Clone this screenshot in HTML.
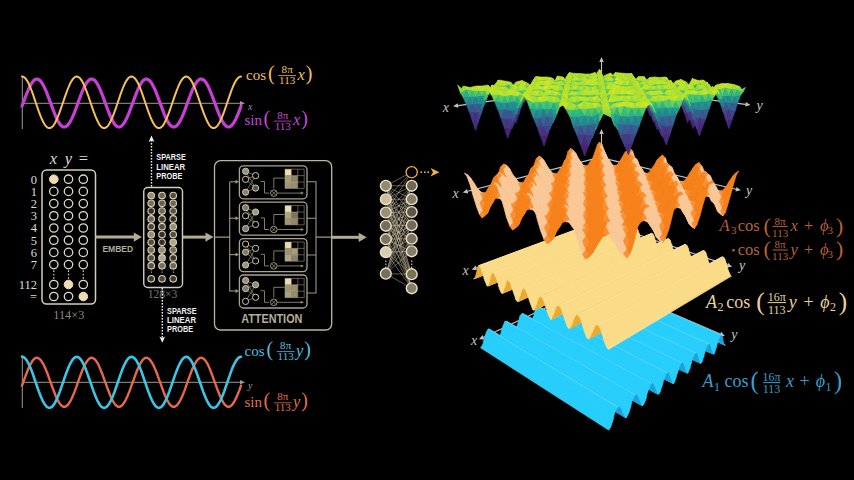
<!DOCTYPE html>
<html><head><meta charset="utf-8"><style>
html,body{margin:0;padding:0;background:#000;}
body{width:854px;height:480px;overflow:hidden;}
svg{display:block;}
</style></head><body>
<svg width="854" height="480" viewBox="0 0 854 480">
<rect width="854" height="480" fill="#000"/>
<line x1="22.3" y1="76" x2="22.3" y2="129" stroke="#9a9a90" stroke-width="1.0"/><line x1="22.3" y1="103.3" x2="242" y2="103.3" stroke="#9a9a90" stroke-width="1.0"/><path d="M245,103.3 L240,101.1 L240,105.5 Z" fill="#9a9a90"/>
<polyline points="22,106.3 23,103.6 24,100.8 25,98.1 26,95.5 27,92.9 28,90.5 29,88.2 30,86.2 31,84.3 32,82.7 33,81.4 33.9,80.4 34.9,79.6 35.9,79.1 36.9,79 37.9,79.2 38.9,79.7 39.9,80.4 40.9,81.5 41.9,82.9 42.9,84.5 43.9,86.4 44.9,88.4 45.9,90.7 46.9,93.1 47.9,95.7 48.9,98.4 49.9,101.1 50.9,103.8 51.9,106.5 52.9,109.2 53.9,111.8 54.9,114.3 55.8,116.6 56.8,118.8 57.8,120.8 58.8,122.5 59.8,124 60.8,125.2 61.8,126.1 62.8,126.7 63.8,127 64.8,127 65.8,126.6 66.8,126 67.8,125.1 68.8,123.8 69.8,122.3 70.8,120.6 71.8,118.6 72.8,116.4 73.8,114.1 74.8,111.6 75.8,109 76.8,106.3 77.7,103.6 78.7,100.8 79.7,98.1 80.7,95.5 81.7,92.9 82.7,90.5 83.7,88.2 84.7,86.2 85.7,84.3 86.7,82.7 87.7,81.4 88.7,80.4 89.7,79.6 90.7,79.1 91.7,79 92.7,79.2 93.7,79.7 94.7,80.4 95.7,81.5 96.7,82.9 97.7,84.5 98.7,86.4 99.6,88.4 100.6,90.7 101.6,93.1 102.6,95.7 103.6,98.4 104.6,101.1 105.6,103.8 106.6,106.5 107.6,109.2 108.6,111.8 109.6,114.3 110.6,116.6 111.6,118.8 112.6,120.8 113.6,122.5 114.6,124 115.6,125.2 116.6,126.1 117.6,126.7 118.6,127 119.6,127 120.5,126.6 121.5,126 122.5,125.1 123.5,123.8 124.5,122.3 125.5,120.6 126.5,118.6 127.5,116.4 128.5,114.1 129.5,111.6 130.5,109 131.5,106.3 132.5,103.6 133.5,100.8 134.5,98.1 135.5,95.5 136.5,92.9 137.5,90.5 138.5,88.2 139.5,86.2 140.5,84.3 141.5,82.7 142.4,81.4 143.4,80.4 144.4,79.6 145.4,79.1 146.4,79 147.4,79.2 148.4,79.7 149.4,80.4 150.4,81.5 151.4,82.9 152.4,84.5 153.4,86.4 154.4,88.4 155.4,90.7 156.4,93.1 157.4,95.7 158.4,98.4 159.4,101.1 160.4,103.8 161.4,106.5 162.4,109.2 163.4,111.8 164.3,114.3 165.3,116.6 166.3,118.8 167.3,120.8 168.3,122.5 169.3,124 170.3,125.2 171.3,126.1 172.3,126.7 173.3,127 174.3,127 175.3,126.6 176.3,126 177.3,125.1 178.3,123.8 179.3,122.3 180.3,120.6 181.3,118.6 182.3,116.4 183.3,114.1 184.3,111.6 185.3,109 186.2,106.3 187.2,103.6 188.2,100.8 189.2,98.1 190.2,95.5 191.2,92.9 192.2,90.5 193.2,88.2 194.2,86.2 195.2,84.3 196.2,82.7 197.2,81.4 198.2,80.4 199.2,79.6 200.2,79.1 201.2,79 202.2,79.2 203.2,79.7 204.2,80.4 205.2,81.5 206.2,82.9 207.2,84.5 208.2,86.4 209.1,88.4 210.1,90.7 211.1,93.1 212.1,95.7 213.1,98.4 214.1,101.1 215.1,103.8 216.1,106.5 217.1,109.2 218.1,111.8 219.1,114.3 220.1,116.6 221.1,118.8 222.1,120.8 223.1,122.5 224.1,124 225.1,125.2 226.1,126.1 227.1,126.7 228.1,127 229.1,127 230.1,126.6 231,126 232,125.1 233,123.8 234,122.3 235,120.6 236,118.6 237,116.4 238,114.1 239,111.6 240,109 241,106.3" fill="none" stroke="#c93fd6" stroke-width="3.2" stroke-linejoin="round" stroke-linecap="round"/>
<polyline points="22,76.5 23,76.7 24,77.2 25,78 26,79.1 27,80.6 28,82.3 29,84.3 30,86.5 31,89 32,91.6 33,94.3 33.9,97.2 34.9,100.1 35.9,103 36.9,106 37.9,108.9 38.9,111.7 39.9,114.3 40.9,116.9 41.9,119.2 42.9,121.3 43.9,123.2 44.9,124.8 45.9,126.1 46.9,127.1 47.9,127.7 48.9,128.1 49.9,128.1 50.9,127.7 51.9,127.1 52.9,126.1 53.9,124.8 54.9,123.2 55.8,121.3 56.8,119.2 57.8,116.9 58.8,114.3 59.8,111.7 60.8,108.9 61.8,106 62.8,103 63.8,100.1 64.8,97.2 65.8,94.3 66.8,91.6 67.8,89 68.8,86.5 69.8,84.3 70.8,82.3 71.8,80.6 72.8,79.1 73.8,78 74.8,77.2 75.8,76.7 76.8,76.5 77.7,76.7 78.7,77.2 79.7,78 80.7,79.1 81.7,80.6 82.7,82.3 83.7,84.3 84.7,86.5 85.7,89 86.7,91.6 87.7,94.3 88.7,97.2 89.7,100.1 90.7,103 91.7,106 92.7,108.9 93.7,111.7 94.7,114.3 95.7,116.9 96.7,119.2 97.7,121.3 98.7,123.2 99.6,124.8 100.6,126.1 101.6,127.1 102.6,127.7 103.6,128.1 104.6,128.1 105.6,127.7 106.6,127.1 107.6,126.1 108.6,124.8 109.6,123.2 110.6,121.3 111.6,119.2 112.6,116.9 113.6,114.3 114.6,111.7 115.6,108.9 116.6,106 117.6,103 118.6,100.1 119.6,97.2 120.5,94.3 121.5,91.6 122.5,89 123.5,86.5 124.5,84.3 125.5,82.3 126.5,80.6 127.5,79.1 128.5,78 129.5,77.2 130.5,76.7 131.5,76.5 132.5,76.7 133.5,77.2 134.5,78 135.5,79.1 136.5,80.6 137.5,82.3 138.5,84.3 139.5,86.5 140.5,89 141.5,91.6 142.4,94.3 143.4,97.2 144.4,100.1 145.4,103 146.4,106 147.4,108.9 148.4,111.7 149.4,114.3 150.4,116.9 151.4,119.2 152.4,121.3 153.4,123.2 154.4,124.8 155.4,126.1 156.4,127.1 157.4,127.7 158.4,128.1 159.4,128.1 160.4,127.7 161.4,127.1 162.4,126.1 163.4,124.8 164.3,123.2 165.3,121.3 166.3,119.2 167.3,116.9 168.3,114.3 169.3,111.7 170.3,108.9 171.3,106 172.3,103 173.3,100.1 174.3,97.2 175.3,94.3 176.3,91.6 177.3,89 178.3,86.5 179.3,84.3 180.3,82.3 181.3,80.6 182.3,79.1 183.3,78 184.3,77.2 185.3,76.7 186.2,76.5 187.2,76.7 188.2,77.2 189.2,78 190.2,79.1 191.2,80.6 192.2,82.3 193.2,84.3 194.2,86.5 195.2,89 196.2,91.6 197.2,94.3 198.2,97.2 199.2,100.1 200.2,103 201.2,106 202.2,108.9 203.2,111.7 204.2,114.3 205.2,116.9 206.2,119.2 207.2,121.3 208.2,123.2 209.1,124.8 210.1,126.1 211.1,127.1 212.1,127.7 213.1,128.1 214.1,128.1 215.1,127.7 216.1,127.1 217.1,126.1 218.1,124.8 219.1,123.2 220.1,121.3 221.1,119.2 222.1,116.9 223.1,114.3 224.1,111.7 225.1,108.9 226.1,106 227.1,103 228.1,100.1 229.1,97.2 230.1,94.3 231,91.6 232,89 233,86.5 234,84.3 235,82.3 236,80.6 237,79.1 238,78 239,77.2 240,76.7 241,76.5" fill="none" stroke="#f4c257" stroke-width="2.0" stroke-linejoin="round" stroke-linecap="round"/>
<text x="248" y="110" font-family="'Liberation Serif', serif" font-style="italic" font-size="10" fill="#9a9a9a">x</text>
<text x="246" y="79.5" font-family="'Liberation Serif', serif" font-size="15" fill="#f0c060">cos</text>
<text x="267.9" y="79.5" font-family="'Liberation Serif', serif" font-size="20" fill="#f0c060">(</text>
<text x="287.2" y="73.2" font-family="'Liberation Serif', serif" font-size="11.1" fill="#f0c060" text-anchor="middle">8π</text>
<line x1="278.3" y1="75.6" x2="296" y2="75.6" stroke="#f0c060" stroke-width="0.8"/>
<text x="287.2" y="84.2" font-family="'Liberation Serif', serif" font-size="11.1" fill="#f0c060" text-anchor="middle">113</text>
<text x="297.5" y="79.5" font-family="'Liberation Serif', serif" font-style="italic" font-size="16.5" fill="#f0c060">x</text>
<text x="305.7" y="79.5" font-family="'Liberation Serif', serif" font-size="20" fill="#f0c060">)</text>
<text x="244.5" y="125" font-family="'Liberation Serif', serif" font-size="15" fill="#c748d6">sin</text>
<text x="263.6" y="125" font-family="'Liberation Serif', serif" font-size="20" fill="#c748d6">(</text>
<text x="282.8" y="118.7" font-family="'Liberation Serif', serif" font-size="11.1" fill="#c748d6" text-anchor="middle">8π</text>
<line x1="273.9" y1="121.1" x2="291.6" y2="121.1" stroke="#c748d6" stroke-width="0.8"/>
<text x="282.8" y="129.7" font-family="'Liberation Serif', serif" font-size="11.1" fill="#c748d6" text-anchor="middle">113</text>
<text x="293.1" y="125" font-family="'Liberation Serif', serif" font-style="italic" font-size="16.5" fill="#c748d6">x</text>
<text x="301.3" y="125" font-family="'Liberation Serif', serif" font-size="20" fill="#c748d6">)</text>
<line x1="22.3" y1="355" x2="22.3" y2="408" stroke="#9a9a90" stroke-width="1.0"/><line x1="22.3" y1="382.3" x2="242" y2="382.3" stroke="#9a9a90" stroke-width="1.0"/><path d="M245,382.3 L240,380.1 L240,384.5 Z" fill="#9a9a90"/>
<polyline points="22,385.7 23,382.9 24,380.1 25,377.3 26,374.6 27,372 28,369.5 29,367.2 30,365.1 31,363.3 32,361.6 33,360.3 33.9,359.2 34.9,358.4 35.9,357.9 36.9,357.8 37.9,358 38.9,358.5 39.9,359.3 40.9,360.4 41.9,361.8 42.9,363.4 43.9,365.3 44.9,367.4 45.9,369.8 46.9,372.2 47.9,374.8 48.9,377.6 49.9,380.3 50.9,383.1 51.9,385.9 52.9,388.6 53.9,391.3 54.9,393.8 55.8,396.2 56.8,398.4 57.8,400.4 58.8,402.2 59.8,403.7 60.8,404.9 61.8,405.8 62.8,406.5 63.8,406.8 64.8,406.8 65.8,406.4 66.8,405.8 67.8,404.8 68.8,403.6 69.8,402 70.8,400.3 71.8,398.2 72.8,396 73.8,393.6 74.8,391.1 75.8,388.4 76.8,385.7 77.7,382.9 78.7,380.1 79.7,377.3 80.7,374.6 81.7,372 82.7,369.5 83.7,367.2 84.7,365.1 85.7,363.3 86.7,361.6 87.7,360.3 88.7,359.2 89.7,358.4 90.7,357.9 91.7,357.8 92.7,358 93.7,358.5 94.7,359.3 95.7,360.4 96.7,361.8 97.7,363.4 98.7,365.3 99.6,367.4 100.6,369.8 101.6,372.2 102.6,374.8 103.6,377.6 104.6,380.3 105.6,383.1 106.6,385.9 107.6,388.6 108.6,391.3 109.6,393.8 110.6,396.2 111.6,398.4 112.6,400.4 113.6,402.2 114.6,403.7 115.6,404.9 116.6,405.8 117.6,406.5 118.6,406.8 119.6,406.8 120.5,406.4 121.5,405.8 122.5,404.8 123.5,403.6 124.5,402 125.5,400.3 126.5,398.2 127.5,396 128.5,393.6 129.5,391.1 130.5,388.4 131.5,385.7 132.5,382.9 133.5,380.1 134.5,377.3 135.5,374.6 136.5,372 137.5,369.5 138.5,367.2 139.5,365.1 140.5,363.3 141.5,361.6 142.4,360.3 143.4,359.2 144.4,358.4 145.4,357.9 146.4,357.8 147.4,358 148.4,358.5 149.4,359.3 150.4,360.4 151.4,361.8 152.4,363.4 153.4,365.3 154.4,367.4 155.4,369.8 156.4,372.2 157.4,374.8 158.4,377.6 159.4,380.3 160.4,383.1 161.4,385.9 162.4,388.6 163.4,391.3 164.3,393.8 165.3,396.2 166.3,398.4 167.3,400.4 168.3,402.2 169.3,403.7 170.3,404.9 171.3,405.8 172.3,406.5 173.3,406.8 174.3,406.8 175.3,406.4 176.3,405.8 177.3,404.8 178.3,403.6 179.3,402 180.3,400.3 181.3,398.2 182.3,396 183.3,393.6 184.3,391.1 185.3,388.4 186.2,385.7 187.2,382.9 188.2,380.1 189.2,377.3 190.2,374.6 191.2,372 192.2,369.5 193.2,367.2 194.2,365.1 195.2,363.3 196.2,361.6 197.2,360.3 198.2,359.2 199.2,358.4 200.2,357.9 201.2,357.8 202.2,358 203.2,358.5 204.2,359.3 205.2,360.4 206.2,361.8 207.2,363.4 208.2,365.3 209.1,367.4 210.1,369.8 211.1,372.2 212.1,374.8 213.1,377.6 214.1,380.3 215.1,383.1 216.1,385.9 217.1,388.6 218.1,391.3 219.1,393.8 220.1,396.2 221.1,398.4 222.1,400.4 223.1,402.2 224.1,403.7 225.1,404.9 226.1,405.8 227.1,406.5 228.1,406.8 229.1,406.8 230.1,406.4 231,405.8 232,404.8 233,403.6 234,402 235,400.3 236,398.2 237,396 238,393.6 239,391.1 240,388.4 241,385.7" fill="none" stroke="#e8684a" stroke-width="2.4" stroke-linejoin="round" stroke-linecap="round"/>
<polyline points="22,356.8 23,357 24,357.5 25,358.3 26,359.4 27,360.8 28,362.6 29,364.5 30,366.7 31,369.1 32,371.7 33,374.4 33.9,377.2 34.9,380.1 35.9,383 36.9,385.9 37.9,388.8 38.9,391.6 39.9,394.2 40.9,396.7 41.9,399 42.9,401.1 43.9,402.9 44.9,404.5 45.9,405.8 46.9,406.8 47.9,407.4 48.9,407.8 49.9,407.8 50.9,407.4 51.9,406.8 52.9,405.8 53.9,404.5 54.9,402.9 55.8,401.1 56.8,399 57.8,396.7 58.8,394.2 59.8,391.6 60.8,388.8 61.8,385.9 62.8,383 63.8,380.1 64.8,377.2 65.8,374.4 66.8,371.7 67.8,369.1 68.8,366.7 69.8,364.5 70.8,362.6 71.8,360.8 72.8,359.4 73.8,358.3 74.8,357.5 75.8,357 76.8,356.8 77.7,357 78.7,357.5 79.7,358.3 80.7,359.4 81.7,360.8 82.7,362.6 83.7,364.5 84.7,366.7 85.7,369.1 86.7,371.7 87.7,374.4 88.7,377.2 89.7,380.1 90.7,383 91.7,385.9 92.7,388.8 93.7,391.6 94.7,394.2 95.7,396.7 96.7,399 97.7,401.1 98.7,402.9 99.6,404.5 100.6,405.8 101.6,406.8 102.6,407.4 103.6,407.8 104.6,407.8 105.6,407.4 106.6,406.8 107.6,405.8 108.6,404.5 109.6,402.9 110.6,401.1 111.6,399 112.6,396.7 113.6,394.2 114.6,391.6 115.6,388.8 116.6,385.9 117.6,383 118.6,380.1 119.6,377.2 120.5,374.4 121.5,371.7 122.5,369.1 123.5,366.7 124.5,364.5 125.5,362.6 126.5,360.8 127.5,359.4 128.5,358.3 129.5,357.5 130.5,357 131.5,356.8 132.5,357 133.5,357.5 134.5,358.3 135.5,359.4 136.5,360.8 137.5,362.6 138.5,364.5 139.5,366.7 140.5,369.1 141.5,371.7 142.4,374.4 143.4,377.2 144.4,380.1 145.4,383 146.4,385.9 147.4,388.8 148.4,391.6 149.4,394.2 150.4,396.7 151.4,399 152.4,401.1 153.4,402.9 154.4,404.5 155.4,405.8 156.4,406.8 157.4,407.4 158.4,407.8 159.4,407.8 160.4,407.4 161.4,406.8 162.4,405.8 163.4,404.5 164.3,402.9 165.3,401.1 166.3,399 167.3,396.7 168.3,394.2 169.3,391.6 170.3,388.8 171.3,385.9 172.3,383 173.3,380.1 174.3,377.2 175.3,374.4 176.3,371.7 177.3,369.1 178.3,366.7 179.3,364.5 180.3,362.6 181.3,360.8 182.3,359.4 183.3,358.3 184.3,357.5 185.3,357 186.2,356.8 187.2,357 188.2,357.5 189.2,358.3 190.2,359.4 191.2,360.8 192.2,362.6 193.2,364.5 194.2,366.7 195.2,369.1 196.2,371.7 197.2,374.4 198.2,377.2 199.2,380.1 200.2,383 201.2,385.9 202.2,388.8 203.2,391.6 204.2,394.2 205.2,396.7 206.2,399 207.2,401.1 208.2,402.9 209.1,404.5 210.1,405.8 211.1,406.8 212.1,407.4 213.1,407.8 214.1,407.8 215.1,407.4 216.1,406.8 217.1,405.8 218.1,404.5 219.1,402.9 220.1,401.1 221.1,399 222.1,396.7 223.1,394.2 224.1,391.6 225.1,388.8 226.1,385.9 227.1,383 228.1,380.1 229.1,377.2 230.1,374.4 231,371.7 232,369.1 233,366.7 234,364.5 235,362.6 236,360.8 237,359.4 238,358.3 239,357.5 240,357 241,356.8" fill="none" stroke="#3cc6e6" stroke-width="2.6" stroke-linejoin="round" stroke-linecap="round"/>
<text x="248" y="389" font-family="'Liberation Serif', serif" font-style="italic" font-size="10" fill="#9a9a9a">y</text>
<text x="244.5" y="355.5" font-family="'Liberation Serif', serif" font-size="15" fill="#4cc0e0">cos</text>
<text x="266.4" y="355.5" font-family="'Liberation Serif', serif" font-size="20" fill="#4cc0e0">(</text>
<text x="285.7" y="349.2" font-family="'Liberation Serif', serif" font-size="11.1" fill="#4cc0e0" text-anchor="middle">8π</text>
<line x1="276.8" y1="351.6" x2="294.5" y2="351.6" stroke="#4cc0e0" stroke-width="0.8"/>
<text x="285.7" y="360.1" font-family="'Liberation Serif', serif" font-size="11.1" fill="#4cc0e0" text-anchor="middle">113</text>
<text x="296" y="355.5" font-family="'Liberation Serif', serif" font-style="italic" font-size="16.5" fill="#4cc0e0">y</text>
<text x="304.2" y="355.5" font-family="'Liberation Serif', serif" font-size="20" fill="#4cc0e0">)</text>
<text x="244.5" y="406.7" font-family="'Liberation Serif', serif" font-size="15" fill="#e0704c">sin</text>
<text x="263.6" y="406.7" font-family="'Liberation Serif', serif" font-size="20" fill="#e0704c">(</text>
<text x="282.8" y="400.4" font-family="'Liberation Serif', serif" font-size="11.1" fill="#e0704c" text-anchor="middle">8π</text>
<line x1="273.9" y1="402.8" x2="291.6" y2="402.8" stroke="#e0704c" stroke-width="0.8"/>
<text x="282.8" y="411.3" font-family="'Liberation Serif', serif" font-size="11.1" fill="#e0704c" text-anchor="middle">113</text>
<text x="293.1" y="406.7" font-family="'Liberation Serif', serif" font-style="italic" font-size="16.5" fill="#e0704c">y</text>
<text x="301.3" y="406.7" font-family="'Liberation Serif', serif" font-size="20" fill="#e0704c">)</text>
<rect x="42" y="170" width="53.5" height="134" rx="4.5" fill="none" stroke="#d6cfb8" stroke-width="1.5"/>
<circle cx="53.8" cy="179.2" r="4.3" fill="#f0dcb0" stroke="#f3dfb8" stroke-width="1.0"/>
<circle cx="68.5" cy="179.2" r="4.2" fill="none" stroke="#e0d9c4" stroke-width="1.3"/>
<circle cx="83.3" cy="179.2" r="4.2" fill="none" stroke="#e0d9c4" stroke-width="1.3"/>
<text x="37" y="183.5" font-family="'Liberation Serif', serif" font-size="12.5" fill="#dcdcdc" text-anchor="end">0</text>
<circle cx="53.8" cy="191.4" r="4.2" fill="none" stroke="#e0d9c4" stroke-width="1.3"/>
<circle cx="68.5" cy="191.4" r="4.2" fill="none" stroke="#e0d9c4" stroke-width="1.3"/>
<circle cx="83.3" cy="191.4" r="4.2" fill="none" stroke="#e0d9c4" stroke-width="1.3"/>
<text x="37" y="195.7" font-family="'Liberation Serif', serif" font-size="12.5" fill="#dcdcdc" text-anchor="end">1</text>
<circle cx="53.8" cy="203.6" r="4.2" fill="none" stroke="#e0d9c4" stroke-width="1.3"/>
<circle cx="68.5" cy="203.6" r="4.2" fill="none" stroke="#e0d9c4" stroke-width="1.3"/>
<circle cx="83.3" cy="203.6" r="4.2" fill="none" stroke="#e0d9c4" stroke-width="1.3"/>
<text x="37" y="207.9" font-family="'Liberation Serif', serif" font-size="12.5" fill="#dcdcdc" text-anchor="end">2</text>
<circle cx="53.8" cy="215.8" r="4.2" fill="none" stroke="#e0d9c4" stroke-width="1.3"/>
<circle cx="68.5" cy="215.8" r="4.2" fill="none" stroke="#e0d9c4" stroke-width="1.3"/>
<circle cx="83.3" cy="215.8" r="4.2" fill="none" stroke="#e0d9c4" stroke-width="1.3"/>
<text x="37" y="220.1" font-family="'Liberation Serif', serif" font-size="12.5" fill="#dcdcdc" text-anchor="end">3</text>
<circle cx="53.8" cy="228" r="4.2" fill="none" stroke="#e0d9c4" stroke-width="1.3"/>
<circle cx="68.5" cy="228" r="4.2" fill="none" stroke="#e0d9c4" stroke-width="1.3"/>
<circle cx="83.3" cy="228" r="4.2" fill="none" stroke="#e0d9c4" stroke-width="1.3"/>
<text x="37" y="232.3" font-family="'Liberation Serif', serif" font-size="12.5" fill="#dcdcdc" text-anchor="end">4</text>
<circle cx="53.8" cy="240.2" r="4.2" fill="none" stroke="#e0d9c4" stroke-width="1.3"/>
<circle cx="68.5" cy="240.2" r="4.2" fill="none" stroke="#e0d9c4" stroke-width="1.3"/>
<circle cx="83.3" cy="240.2" r="4.2" fill="none" stroke="#e0d9c4" stroke-width="1.3"/>
<text x="37" y="244.5" font-family="'Liberation Serif', serif" font-size="12.5" fill="#dcdcdc" text-anchor="end">5</text>
<circle cx="53.8" cy="252.4" r="4.2" fill="none" stroke="#e0d9c4" stroke-width="1.3"/>
<circle cx="68.5" cy="252.4" r="4.2" fill="none" stroke="#e0d9c4" stroke-width="1.3"/>
<circle cx="83.3" cy="252.4" r="4.2" fill="none" stroke="#e0d9c4" stroke-width="1.3"/>
<text x="37" y="256.7" font-family="'Liberation Serif', serif" font-size="12.5" fill="#dcdcdc" text-anchor="end">6</text>
<circle cx="53.8" cy="264.6" r="4.2" fill="none" stroke="#e0d9c4" stroke-width="1.3"/>
<circle cx="68.5" cy="264.6" r="4.2" fill="none" stroke="#e0d9c4" stroke-width="1.3"/>
<circle cx="83.3" cy="264.6" r="4.2" fill="none" stroke="#e0d9c4" stroke-width="1.3"/>
<text x="37" y="268.9" font-family="'Liberation Serif', serif" font-size="12.5" fill="#dcdcdc" text-anchor="end">7</text>
<circle cx="53.8" cy="284.5" r="4.2" fill="none" stroke="#e0d9c4" stroke-width="1.3"/>
<circle cx="68.5" cy="284.5" r="4.3" fill="#f0dcb0" stroke="#f3dfb8" stroke-width="1.0"/>
<circle cx="83.3" cy="284.5" r="4.2" fill="none" stroke="#e0d9c4" stroke-width="1.3"/>
<text x="37" y="288.8" font-family="'Liberation Serif', serif" font-size="12.5" fill="#dcdcdc" text-anchor="end">112</text>
<circle cx="53.8" cy="296.5" r="4.2" fill="none" stroke="#e0d9c4" stroke-width="1.3"/>
<circle cx="68.5" cy="296.5" r="4.2" fill="none" stroke="#e0d9c4" stroke-width="1.3"/>
<circle cx="83.3" cy="296.5" r="4.3" fill="#f0dcb0" stroke="#f3dfb8" stroke-width="1.0"/>
<text x="37" y="300.8" font-family="'Liberation Serif', serif" font-size="12.5" fill="#dcdcdc" text-anchor="end">=</text>
<rect x="53.2" y="270.4" width="1.2" height="1.6" fill="#d8d0b8"/>
<rect x="53.2" y="273.8" width="1.2" height="1.6" fill="#d8d0b8"/>
<rect x="53.2" y="277.2" width="1.2" height="1.6" fill="#d8d0b8"/>
<rect x="67.9" y="270.4" width="1.2" height="1.6" fill="#d8d0b8"/>
<rect x="67.9" y="273.8" width="1.2" height="1.6" fill="#d8d0b8"/>
<rect x="67.9" y="277.2" width="1.2" height="1.6" fill="#d8d0b8"/>
<rect x="82.7" y="270.4" width="1.2" height="1.6" fill="#d8d0b8"/>
<rect x="82.7" y="273.8" width="1.2" height="1.6" fill="#d8d0b8"/>
<rect x="82.7" y="277.2" width="1.2" height="1.6" fill="#d8d0b8"/>
<text x="53.5" y="163.5" font-family="'Liberation Serif', serif" font-style="italic" font-size="16.5" fill="#dcdcdc" text-anchor="middle">x</text>
<text x="68.5" y="163.5" font-family="'Liberation Serif', serif" font-style="italic" font-size="16.5" fill="#dcdcdc" text-anchor="middle">y</text>
<text x="83.3" y="163.5" font-family="'Liberation Serif', serif" font-size="16.5" fill="#dcdcdc" text-anchor="middle">=</text>
<text x="68.8" y="319.2" font-family="'Liberation Serif', serif" font-size="12.3" fill="#8c8c84" text-anchor="middle">114×3</text>
<line x1="95.5" y1="237.1" x2="134.8" y2="237.1" stroke="#b3ac95" stroke-width="3"/><path d="M141.8,237.1 L133.8,232.5 L133.8,241.7 Z" fill="#b3ac95"/>
<text x="102.4" y="251.6" font-family="'Liberation Sans', sans-serif" font-weight="bold" font-size="9.3" fill="#b3ac96" textLength="30.8" lengthAdjust="spacingAndGlyphs">EMBED</text>
<line x1="182.5" y1="237.1" x2="206.5" y2="237.1" stroke="#b3ac95" stroke-width="3"/><path d="M213.5,237.1 L205.5,232.5 L205.5,241.7 Z" fill="#b3ac95"/>
<line x1="331.7" y1="237.3" x2="359.7" y2="237.3" stroke="#b3ac95" stroke-width="3"/><path d="M366.7,237.3 L358.7,232.7 L358.7,241.9 Z" fill="#b3ac95"/>
<rect x="143.75" y="187.5" width="38.75" height="100" rx="4" fill="none" stroke="#d6cfb8" stroke-width="1.4"/>
<circle cx="151.2" cy="195.5" r="3.3" fill="#958d76" stroke="#d8d0b6" stroke-width="1.1"/>
<circle cx="162" cy="195.5" r="3.3" fill="#6e6754" stroke="#d8d0b6" stroke-width="1.1"/>
<circle cx="173.2" cy="195.5" r="3.3" fill="#544e40" stroke="#d8d0b6" stroke-width="1.1"/>
<circle cx="151.2" cy="203.3" r="3.3" fill="#756e5a" stroke="#d8d0b6" stroke-width="1.1"/>
<circle cx="162" cy="203.3" r="3.3" fill="#665f4e" stroke="#d8d0b6" stroke-width="1.1"/>
<circle cx="173.2" cy="203.3" r="3.3" fill="#6e6754" stroke="#d8d0b6" stroke-width="1.1"/>
<circle cx="151.2" cy="211.1" r="3.3" fill="#35312a" stroke="#d8d0b6" stroke-width="1.1"/>
<circle cx="162" cy="211.1" r="3.3" fill="#6e6754" stroke="#d8d0b6" stroke-width="1.1"/>
<circle cx="173.2" cy="211.1" r="3.3" fill="#5a5444" stroke="#d8d0b6" stroke-width="1.1"/>
<circle cx="151.2" cy="218.9" r="3.3" fill="#6e6754" stroke="#d8d0b6" stroke-width="1.1"/>
<circle cx="162" cy="218.9" r="3.3" fill="#3e392e" stroke="#d8d0b6" stroke-width="1.1"/>
<circle cx="173.2" cy="218.9" r="3.3" fill="#35312a" stroke="#d8d0b6" stroke-width="1.1"/>
<circle cx="151.2" cy="226.7" r="3.3" fill="#4c463a" stroke="#d8d0b6" stroke-width="1.1"/>
<circle cx="162" cy="226.7" r="3.3" fill="#544e40" stroke="#d8d0b6" stroke-width="1.1"/>
<circle cx="173.2" cy="226.7" r="3.3" fill="#958d76" stroke="#d8d0b6" stroke-width="1.1"/>
<circle cx="151.2" cy="234.5" r="3.3" fill="#958d76" stroke="#d8d0b6" stroke-width="1.1"/>
<circle cx="162" cy="234.5" r="3.3" fill="#35312a" stroke="#d8d0b6" stroke-width="1.1"/>
<circle cx="173.2" cy="234.5" r="3.3" fill="#544e40" stroke="#d8d0b6" stroke-width="1.1"/>
<circle cx="151.2" cy="242.3" r="3.3" fill="#544e40" stroke="#d8d0b6" stroke-width="1.1"/>
<circle cx="162" cy="242.3" r="3.3" fill="#35312a" stroke="#d8d0b6" stroke-width="1.1"/>
<circle cx="173.2" cy="242.3" r="3.3" fill="#b0a88e" stroke="#d8d0b6" stroke-width="1.1"/>
<circle cx="151.2" cy="250.1" r="3.3" fill="#756e5a" stroke="#d8d0b6" stroke-width="1.1"/>
<circle cx="162" cy="250.1" r="3.3" fill="#958d76" stroke="#d8d0b6" stroke-width="1.1"/>
<circle cx="173.2" cy="250.1" r="3.3" fill="#756e5a" stroke="#d8d0b6" stroke-width="1.1"/>
<circle cx="151.2" cy="257.9" r="3.3" fill="#544e40" stroke="#d8d0b6" stroke-width="1.1"/>
<circle cx="162" cy="257.9" r="3.3" fill="#b0a88e" stroke="#d8d0b6" stroke-width="1.1"/>
<circle cx="173.2" cy="257.9" r="3.3" fill="#3e392e" stroke="#d8d0b6" stroke-width="1.1"/>
<circle cx="151.2" cy="265.7" r="3.3" fill="#5a5444" stroke="#d8d0b6" stroke-width="1.1"/>
<circle cx="162" cy="265.7" r="3.3" fill="#756e5a" stroke="#d8d0b6" stroke-width="1.1"/>
<circle cx="173.2" cy="265.7" r="3.3" fill="#6e6754" stroke="#d8d0b6" stroke-width="1.1"/>
<circle cx="151.2" cy="278.8" r="3.3" fill="#3e392e" stroke="#d8d0b6" stroke-width="1.1"/>
<circle cx="162" cy="278.8" r="3.3" fill="#4c463a" stroke="#d8d0b6" stroke-width="1.1"/>
<circle cx="173.2" cy="278.8" r="3.3" fill="#3e392e" stroke="#d8d0b6" stroke-width="1.1"/>
<rect x="150.8" y="269.1" width="1" height="1.4" fill="#b0a890"/>
<rect x="150.8" y="271.5" width="1" height="1.4" fill="#b0a890"/>
<rect x="161.5" y="269.1" width="1" height="1.4" fill="#b0a890"/>
<rect x="161.5" y="271.5" width="1" height="1.4" fill="#b0a890"/>
<rect x="172.8" y="269.1" width="1" height="1.4" fill="#b0a890"/>
<rect x="172.8" y="271.5" width="1" height="1.4" fill="#b0a890"/>
<rect x="150.8" y="140" width="1.4" height="1.6" fill="#f0f0f0"/>
<rect x="150.8" y="143" width="1.4" height="1.6" fill="#f0f0f0"/>
<rect x="150.8" y="146" width="1.4" height="1.6" fill="#f0f0f0"/>
<rect x="150.8" y="149" width="1.4" height="1.6" fill="#f0f0f0"/>
<rect x="150.8" y="152" width="1.4" height="1.6" fill="#f0f0f0"/>
<rect x="150.8" y="155" width="1.4" height="1.6" fill="#f0f0f0"/>
<rect x="150.8" y="158" width="1.4" height="1.6" fill="#f0f0f0"/>
<rect x="150.8" y="161" width="1.4" height="1.6" fill="#f0f0f0"/>
<rect x="150.8" y="164" width="1.4" height="1.6" fill="#f0f0f0"/>
<rect x="150.8" y="167" width="1.4" height="1.6" fill="#f0f0f0"/>
<rect x="150.8" y="170" width="1.4" height="1.6" fill="#f0f0f0"/>
<rect x="150.8" y="173" width="1.4" height="1.6" fill="#f0f0f0"/>
<rect x="150.8" y="176" width="1.4" height="1.6" fill="#f0f0f0"/>
<rect x="150.8" y="179" width="1.4" height="1.6" fill="#f0f0f0"/>
<rect x="150.8" y="182" width="1.4" height="1.6" fill="#f0f0f0"/>
<rect x="150.8" y="185" width="1.4" height="1.6" fill="#f0f0f0"/>
<path d="M151.5,135.5 L148.6,142 L151.5,140.6 L154.4,142 Z" fill="#f0f0f0"/>
<text x="156.3" y="160.2" font-family="'Liberation Sans', sans-serif" font-weight="bold" font-size="8.8" fill="#f2f2f2" textLength="29.5" lengthAdjust="spacingAndGlyphs">SPARSE</text>
<text x="156.3" y="169.8" font-family="'Liberation Sans', sans-serif" font-weight="bold" font-size="8.8" fill="#f2f2f2" textLength="28.9" lengthAdjust="spacingAndGlyphs">LINEAR</text>
<text x="156.3" y="179.2" font-family="'Liberation Sans', sans-serif" font-weight="bold" font-size="8.8" fill="#f2f2f2" textLength="26" lengthAdjust="spacingAndGlyphs">PROBE</text>
<text x="162.5" y="298.2" font-family="'Liberation Serif', serif" font-size="11.6" fill="#7a7a72" text-anchor="middle">128×3</text>
<rect x="161.6" y="288" width="1.4" height="1.6" fill="#f0f0f0"/>
<rect x="161.6" y="291" width="1.4" height="1.6" fill="#f0f0f0"/>
<rect x="161.6" y="294" width="1.4" height="1.6" fill="#f0f0f0"/>
<rect x="161.6" y="297" width="1.4" height="1.6" fill="#f0f0f0"/>
<rect x="161.6" y="300" width="1.4" height="1.6" fill="#f0f0f0"/>
<rect x="161.6" y="303" width="1.4" height="1.6" fill="#f0f0f0"/>
<rect x="161.6" y="306" width="1.4" height="1.6" fill="#f0f0f0"/>
<rect x="161.6" y="309" width="1.4" height="1.6" fill="#f0f0f0"/>
<rect x="161.6" y="312" width="1.4" height="1.6" fill="#f0f0f0"/>
<rect x="161.6" y="315" width="1.4" height="1.6" fill="#f0f0f0"/>
<rect x="161.6" y="318" width="1.4" height="1.6" fill="#f0f0f0"/>
<rect x="161.6" y="321" width="1.4" height="1.6" fill="#f0f0f0"/>
<rect x="161.6" y="324" width="1.4" height="1.6" fill="#f0f0f0"/>
<rect x="161.6" y="327" width="1.4" height="1.6" fill="#f0f0f0"/>
<rect x="161.6" y="330" width="1.4" height="1.6" fill="#f0f0f0"/>
<rect x="161.6" y="333" width="1.4" height="1.6" fill="#f0f0f0"/>
<rect x="161.6" y="336" width="1.4" height="1.6" fill="#f0f0f0"/>
<path d="M162.3,342.8 L159.4,336.5 L162.3,337.9 L165.2,336.5 Z" fill="#f0f0f0"/>
<text x="167.1" y="314.1" font-family="'Liberation Sans', sans-serif" font-weight="bold" font-size="8.8" fill="#f2f2f2" textLength="29.5" lengthAdjust="spacingAndGlyphs">SPARSE</text>
<text x="167.1" y="323" font-family="'Liberation Sans', sans-serif" font-weight="bold" font-size="8.8" fill="#f2f2f2" textLength="28.9" lengthAdjust="spacingAndGlyphs">LINEAR</text>
<text x="167.1" y="332.2" font-family="'Liberation Sans', sans-serif" font-weight="bold" font-size="8.8" fill="#f2f2f2" textLength="26" lengthAdjust="spacingAndGlyphs">PROBE</text>
<rect x="214.5" y="160.7" width="117.2" height="169.3" rx="6" fill="none" stroke="#bdb69f" stroke-width="1.3"/>
<text x="241.2" y="323.4" font-family="'Liberation Sans', sans-serif" font-weight="bold" font-size="12" fill="#b6ae98" textLength="61.2" lengthAdjust="spacingAndGlyphs">ATTENTION</text>
<path d="M214.5,237.1 H229.7 M229.7,182 V291.5" fill="none" stroke="#9d9684" stroke-width="1.1"/>
<path d="M307,181.7 H316 V293 H307 M307,218.2 H316 M307,255 H316 M316,237.1 H331" fill="none" stroke="#9d9684" stroke-width="1.1"/>
<rect x="239.4" y="165.8" width="67.6" height="33" rx="4" fill="none" stroke="#aaa392" stroke-width="1.3"/>
<path d="M229.7,181.8 H237" stroke="#9d9684" stroke-width="1.1"/>
<path d="M239,181.8 L235.5,179.8 L235.5,183.8 Z" fill="#9d9684"/>
<line x1="245.6" y1="171.3" x2="255.6" y2="175.6" stroke="#8a836f" stroke-width="0.8"/>
<line x1="245.6" y1="171.3" x2="255.6" y2="188.1" stroke="#8a836f" stroke-width="0.8"/>
<line x1="245.6" y1="179.4" x2="255.6" y2="175.6" stroke="#8a836f" stroke-width="0.8"/>
<line x1="245.6" y1="179.4" x2="255.6" y2="188.1" stroke="#8a836f" stroke-width="0.8"/>
<line x1="245.6" y1="192.2" x2="255.6" y2="175.6" stroke="#8a836f" stroke-width="0.8"/>
<line x1="245.6" y1="192.2" x2="255.6" y2="188.1" stroke="#8a836f" stroke-width="0.8"/>
<circle cx="245.6" cy="171.3" r="3.1" fill="#9a9078" stroke="#cfc8b0" stroke-width="1.0"/>
<circle cx="245.6" cy="179.4" r="3.1" fill="#000" stroke="#cfc8b0" stroke-width="1.0"/>
<circle cx="245.6" cy="192.2" r="3.1" fill="#8a8070" stroke="#cfc8b0" stroke-width="1.0"/>
<circle cx="255.6" cy="175.6" r="3.1" fill="#000" stroke="#cfc8b0" stroke-width="1.0"/>
<circle cx="255.6" cy="188.1" r="3.1" fill="#5a5446" stroke="#cfc8b0" stroke-width="1.0"/>
<path d="M260.6,181.5 H264.5 V193.1 H269" fill="none" stroke="#8f8876" stroke-width="0.9"/>
<path d="M284.5,178.1 H273.8 V188.4" fill="none" stroke="#8f8876" stroke-width="0.9"/>
<circle cx="273.8" cy="193.1" r="3.3" fill="none" stroke="#a59e8a" stroke-width="0.9"/>
<path d="M271.5,190.8 L276.1,195.4 M276.1,190.8 L271.5,195.4" stroke="#a59e8a" stroke-width="0.7"/>
<path d="M277.1,193.1 H302.5" stroke="#8f8876" stroke-width="0.9"/>
<path d="M304,193.1 L300.8,191.6 L300.8,194.6 Z" fill="#8f8876"/>
<rect x="285" y="169.2" width="6.4" height="6.4" fill="#f2dfb0"/>
<rect x="291.4" y="169.2" width="6.4" height="6.4" fill="#000"/>
<rect x="297.8" y="169.2" width="6.4" height="6.4" fill="#000"/>
<rect x="285" y="175.6" width="6.4" height="6.4" fill="#a89a78"/>
<rect x="291.4" y="175.6" width="6.4" height="6.4" fill="#8c8068"/>
<rect x="297.8" y="175.6" width="6.4" height="6.4" fill="#000"/>
<rect x="285" y="182" width="6.4" height="6.4" fill="#a09474"/>
<rect x="291.4" y="182" width="6.4" height="6.4" fill="#9a8e70"/>
<rect x="297.8" y="182" width="6.4" height="6.4" fill="#000"/>
<path d="M285.0,169.2 h19.2 v19.2 h-19.2 Z M291.4,169.2 v19.2 M297.8,169.2 v19.2 M285.0,175.6 h19.2 M285.0,182 h19.2" fill="none" stroke="#b8b098" stroke-width="0.6" opacity="0.8"/>
<rect x="239.4" y="202.2" width="67.6" height="33" rx="4" fill="none" stroke="#aaa392" stroke-width="1.3"/>
<path d="M229.7,218.2 H237" stroke="#9d9684" stroke-width="1.1"/>
<path d="M239,218.2 L235.5,216.2 L235.5,220.2 Z" fill="#9d9684"/>
<line x1="245.6" y1="207.7" x2="255.6" y2="212" stroke="#8a836f" stroke-width="0.8"/>
<line x1="245.6" y1="207.7" x2="255.6" y2="224.5" stroke="#8a836f" stroke-width="0.8"/>
<line x1="245.6" y1="215.8" x2="255.6" y2="212" stroke="#8a836f" stroke-width="0.8"/>
<line x1="245.6" y1="215.8" x2="255.6" y2="224.5" stroke="#8a836f" stroke-width="0.8"/>
<line x1="245.6" y1="228.6" x2="255.6" y2="212" stroke="#8a836f" stroke-width="0.8"/>
<line x1="245.6" y1="228.6" x2="255.6" y2="224.5" stroke="#8a836f" stroke-width="0.8"/>
<circle cx="245.6" cy="207.7" r="3.1" fill="#807868" stroke="#cfc8b0" stroke-width="1.0"/>
<circle cx="245.6" cy="215.8" r="3.1" fill="#000" stroke="#cfc8b0" stroke-width="1.0"/>
<circle cx="245.6" cy="228.6" r="3.1" fill="#807868" stroke="#cfc8b0" stroke-width="1.0"/>
<circle cx="255.6" cy="212" r="3.1" fill="#a09880" stroke="#cfc8b0" stroke-width="1.0"/>
<circle cx="255.6" cy="224.5" r="3.1" fill="#000" stroke="#cfc8b0" stroke-width="1.0"/>
<path d="M260.6,217.9 H264.5 V229.5 H269" fill="none" stroke="#8f8876" stroke-width="0.9"/>
<path d="M284.5,214.5 H273.8 V224.8" fill="none" stroke="#8f8876" stroke-width="0.9"/>
<circle cx="273.8" cy="229.5" r="3.3" fill="none" stroke="#a59e8a" stroke-width="0.9"/>
<path d="M271.5,227.2 L276.1,231.8 M276.1,227.2 L271.5,231.8" stroke="#a59e8a" stroke-width="0.7"/>
<path d="M277.1,229.5 H302.5" stroke="#8f8876" stroke-width="0.9"/>
<path d="M304,229.5 L300.8,228 L300.8,231 Z" fill="#8f8876"/>
<rect x="285" y="205.6" width="6.4" height="6.4" fill="#f0dcae"/>
<rect x="291.4" y="205.6" width="6.4" height="6.4" fill="#000"/>
<rect x="297.8" y="205.6" width="6.4" height="6.4" fill="#000"/>
<rect x="285" y="212" width="6.4" height="6.4" fill="#b0a282"/>
<rect x="291.4" y="212" width="6.4" height="6.4" fill="#7c735f"/>
<rect x="297.8" y="212" width="6.4" height="6.4" fill="#000"/>
<rect x="285" y="218.4" width="6.4" height="6.4" fill="#a09474"/>
<rect x="291.4" y="218.4" width="6.4" height="6.4" fill="#928870"/>
<rect x="297.8" y="218.4" width="6.4" height="6.4" fill="#000"/>
<path d="M285.0,205.6 h19.2 v19.2 h-19.2 Z M291.4,205.6 v19.2 M297.8,205.6 v19.2 M285.0,212 h19.2 M285.0,218.4 h19.2" fill="none" stroke="#b8b098" stroke-width="0.6" opacity="0.8"/>
<rect x="239.4" y="238.6" width="67.6" height="33" rx="4" fill="none" stroke="#aaa392" stroke-width="1.3"/>
<path d="M229.7,254.6 H237" stroke="#9d9684" stroke-width="1.1"/>
<path d="M239,254.6 L235.5,252.6 L235.5,256.6 Z" fill="#9d9684"/>
<line x1="245.6" y1="244.1" x2="255.6" y2="248.4" stroke="#8a836f" stroke-width="0.8"/>
<line x1="245.6" y1="244.1" x2="255.6" y2="260.9" stroke="#8a836f" stroke-width="0.8"/>
<line x1="245.6" y1="252.2" x2="255.6" y2="248.4" stroke="#8a836f" stroke-width="0.8"/>
<line x1="245.6" y1="252.2" x2="255.6" y2="260.9" stroke="#8a836f" stroke-width="0.8"/>
<line x1="245.6" y1="265" x2="255.6" y2="248.4" stroke="#8a836f" stroke-width="0.8"/>
<line x1="245.6" y1="265" x2="255.6" y2="260.9" stroke="#8a836f" stroke-width="0.8"/>
<circle cx="245.6" cy="244.1" r="3.1" fill="#000" stroke="#cfc8b0" stroke-width="1.0"/>
<circle cx="245.6" cy="252.2" r="3.1" fill="#807868" stroke="#cfc8b0" stroke-width="1.0"/>
<circle cx="245.6" cy="265" r="3.1" fill="#9a9078" stroke="#cfc8b0" stroke-width="1.0"/>
<circle cx="255.6" cy="248.4" r="3.1" fill="#000" stroke="#cfc8b0" stroke-width="1.0"/>
<circle cx="255.6" cy="260.9" r="3.1" fill="#000" stroke="#cfc8b0" stroke-width="1.0"/>
<path d="M260.6,254.3 H264.5 V265.9 H269" fill="none" stroke="#8f8876" stroke-width="0.9"/>
<path d="M284.5,250.9 H273.8 V261.2" fill="none" stroke="#8f8876" stroke-width="0.9"/>
<circle cx="273.8" cy="265.9" r="3.3" fill="none" stroke="#a59e8a" stroke-width="0.9"/>
<path d="M271.5,263.6 L276.1,268.2 M276.1,263.6 L271.5,268.2" stroke="#a59e8a" stroke-width="0.7"/>
<path d="M277.1,265.9 H302.5" stroke="#8f8876" stroke-width="0.9"/>
<path d="M304,265.9 L300.8,264.4 L300.8,267.4 Z" fill="#8f8876"/>
<rect x="285" y="242" width="6.4" height="6.4" fill="#ecd8a8"/>
<rect x="291.4" y="242" width="6.4" height="6.4" fill="#000"/>
<rect x="297.8" y="242" width="6.4" height="6.4" fill="#000"/>
<rect x="285" y="248.4" width="6.4" height="6.4" fill="#9c9070"/>
<rect x="291.4" y="248.4" width="6.4" height="6.4" fill="#a89c7e"/>
<rect x="297.8" y="248.4" width="6.4" height="6.4" fill="#000"/>
<rect x="285" y="254.8" width="6.4" height="6.4" fill="#b0a484"/>
<rect x="291.4" y="254.8" width="6.4" height="6.4" fill="#8c8068"/>
<rect x="297.8" y="254.8" width="6.4" height="6.4" fill="#000"/>
<path d="M285.0,242 h19.2 v19.2 h-19.2 Z M291.4,242 v19.2 M297.8,242 v19.2 M285.0,248.4 h19.2 M285.0,254.8 h19.2" fill="none" stroke="#b8b098" stroke-width="0.6" opacity="0.8"/>
<rect x="239.4" y="275.0" width="67.6" height="33" rx="4" fill="none" stroke="#aaa392" stroke-width="1.3"/>
<path d="M229.7,291 H237" stroke="#9d9684" stroke-width="1.1"/>
<path d="M239,291 L235.5,289 L235.5,293 Z" fill="#9d9684"/>
<line x1="245.6" y1="280.5" x2="255.6" y2="284.8" stroke="#8a836f" stroke-width="0.8"/>
<line x1="245.6" y1="280.5" x2="255.6" y2="297.3" stroke="#8a836f" stroke-width="0.8"/>
<line x1="245.6" y1="288.6" x2="255.6" y2="284.8" stroke="#8a836f" stroke-width="0.8"/>
<line x1="245.6" y1="288.6" x2="255.6" y2="297.3" stroke="#8a836f" stroke-width="0.8"/>
<line x1="245.6" y1="301.4" x2="255.6" y2="284.8" stroke="#8a836f" stroke-width="0.8"/>
<line x1="245.6" y1="301.4" x2="255.6" y2="297.3" stroke="#8a836f" stroke-width="0.8"/>
<circle cx="245.6" cy="280.5" r="3.1" fill="#9a9078" stroke="#cfc8b0" stroke-width="1.0"/>
<circle cx="245.6" cy="288.6" r="3.1" fill="#807868" stroke="#cfc8b0" stroke-width="1.0"/>
<circle cx="245.6" cy="301.4" r="3.1" fill="#000" stroke="#cfc8b0" stroke-width="1.0"/>
<circle cx="255.6" cy="284.8" r="3.1" fill="#908878" stroke="#cfc8b0" stroke-width="1.0"/>
<circle cx="255.6" cy="297.3" r="3.1" fill="#000" stroke="#cfc8b0" stroke-width="1.0"/>
<path d="M260.6,290.7 H264.5 V302.3 H269" fill="none" stroke="#8f8876" stroke-width="0.9"/>
<path d="M284.5,287.3 H273.8 V297.6" fill="none" stroke="#8f8876" stroke-width="0.9"/>
<circle cx="273.8" cy="302.3" r="3.3" fill="none" stroke="#a59e8a" stroke-width="0.9"/>
<path d="M271.5,300 L276.1,304.6 M276.1,300 L271.5,304.6" stroke="#a59e8a" stroke-width="0.7"/>
<path d="M277.1,302.3 H302.5" stroke="#8f8876" stroke-width="0.9"/>
<path d="M304,302.3 L300.8,300.8 L300.8,303.8 Z" fill="#8f8876"/>
<rect x="285" y="278.4" width="6.4" height="6.4" fill="#f0dcae"/>
<rect x="291.4" y="278.4" width="6.4" height="6.4" fill="#000"/>
<rect x="297.8" y="278.4" width="6.4" height="6.4" fill="#000"/>
<rect x="285" y="284.8" width="6.4" height="6.4" fill="#a09474"/>
<rect x="291.4" y="284.8" width="6.4" height="6.4" fill="#9a8e70"/>
<rect x="297.8" y="284.8" width="6.4" height="6.4" fill="#000"/>
<rect x="285" y="291.2" width="6.4" height="6.4" fill="#aa9e7e"/>
<rect x="291.4" y="291.2" width="6.4" height="6.4" fill="#948a70"/>
<rect x="297.8" y="291.2" width="6.4" height="6.4" fill="#000"/>
<path d="M285.0,278.4 h19.2 v19.2 h-19.2 Z M291.4,278.4 v19.2 M297.8,278.4 v19.2 M285.0,284.8 h19.2 M285.0,291.2 h19.2" fill="none" stroke="#b8b098" stroke-width="0.6" opacity="0.8"/>
<path d="M385.8,185.8 L411.7,185.8 M385.8,185.8 L411.7,199.2 M385.8,185.8 L411.7,212.0 M385.8,185.8 L411.7,225.3 M385.8,185.8 L411.7,238.7 M385.8,185.8 L411.7,251.3 M385.8,185.8 L411.7,274.2 M385.8,185.8 L411.7,288.3 M385.8,199.3 L411.7,185.8 M385.8,199.3 L411.7,199.2 M385.8,199.3 L411.7,212.0 M385.8,199.3 L411.7,225.3 M385.8,199.3 L411.7,238.7 M385.8,199.3 L411.7,251.3 M385.8,199.3 L411.7,274.2 M385.8,199.3 L411.7,288.3 M385.8,212.5 L411.7,185.8 M385.8,212.5 L411.7,199.2 M385.8,212.5 L411.7,212.0 M385.8,212.5 L411.7,225.3 M385.8,212.5 L411.7,238.7 M385.8,212.5 L411.7,251.3 M385.8,212.5 L411.7,274.2 M385.8,212.5 L411.7,288.3 M385.8,225.8 L411.7,185.8 M385.8,225.8 L411.7,199.2 M385.8,225.8 L411.7,212.0 M385.8,225.8 L411.7,225.3 M385.8,225.8 L411.7,238.7 M385.8,225.8 L411.7,251.3 M385.8,225.8 L411.7,274.2 M385.8,225.8 L411.7,288.3 M385.8,239.2 L411.7,185.8 M385.8,239.2 L411.7,199.2 M385.8,239.2 L411.7,212.0 M385.8,239.2 L411.7,225.3 M385.8,239.2 L411.7,238.7 M385.8,239.2 L411.7,251.3 M385.8,239.2 L411.7,274.2 M385.8,239.2 L411.7,288.3 M385.8,252.2 L411.7,185.8 M385.8,252.2 L411.7,199.2 M385.8,252.2 L411.7,212.0 M385.8,252.2 L411.7,225.3 M385.8,252.2 L411.7,238.7 M385.8,252.2 L411.7,251.3 M385.8,252.2 L411.7,274.2 M385.8,252.2 L411.7,288.3 M385.8,273.7 L411.7,185.8 M385.8,273.7 L411.7,199.2 M385.8,273.7 L411.7,212.0 M385.8,273.7 L411.7,225.3 M385.8,273.7 L411.7,238.7 M385.8,273.7 L411.7,251.3 M385.8,273.7 L411.7,274.2 M385.8,273.7 L411.7,288.3 M385.8,185.8 L411.7,172.2 M385.8,199.3 L411.7,172.2 M385.8,212.5 L411.7,172.2" stroke="#d8ceb0" stroke-width="0.6" opacity="0.75" fill="none"/>
<circle cx="385.8" cy="185.8" r="5.4" fill="#928a70" stroke="#ece2c6" stroke-width="1.4"/>
<circle cx="385.8" cy="199.3" r="5.4" fill="#cdbd9a" stroke="#ece2c6" stroke-width="1.4"/>
<circle cx="385.8" cy="212.5" r="5.4" fill="#988f76" stroke="#ece2c6" stroke-width="1.4"/>
<circle cx="385.8" cy="225.8" r="5.4" fill="#766e5c" stroke="#ece2c6" stroke-width="1.4"/>
<circle cx="385.8" cy="239.2" r="5.4" fill="#7c7462" stroke="#ece2c6" stroke-width="1.4"/>
<circle cx="385.8" cy="252.2" r="5.4" fill="#d6ccb0" stroke="#ece2c6" stroke-width="1.4"/>
<circle cx="385.8" cy="273.7" r="5.4" fill="#766e5c" stroke="#ece2c6" stroke-width="1.4"/>
<circle cx="411.7" cy="185.8" r="5.4" fill="#706858" stroke="#ece2c6" stroke-width="1.4"/>
<circle cx="411.7" cy="199.2" r="5.4" fill="#868068" stroke="#ece2c6" stroke-width="1.4"/>
<circle cx="411.7" cy="212" r="5.4" fill="#5e5646" stroke="#ece2c6" stroke-width="1.4"/>
<circle cx="411.7" cy="225.3" r="5.4" fill="#746a58" stroke="#ece2c6" stroke-width="1.4"/>
<circle cx="411.7" cy="238.7" r="5.4" fill="#7c7462" stroke="#ece2c6" stroke-width="1.4"/>
<circle cx="411.7" cy="251.3" r="5.4" fill="#847c68" stroke="#ece2c6" stroke-width="1.4"/>
<circle cx="411.7" cy="274.2" r="5.4" fill="#7a7058" stroke="#ece2c6" stroke-width="1.4"/>
<circle cx="411.7" cy="288.3" r="5.4" fill="#867e6a" stroke="#ece2c6" stroke-width="1.4"/>
<rect x="385.2" y="260.5" width="1.2" height="1.5" fill="#cfc6aa"/>
<rect x="385.2" y="263.5" width="1.2" height="1.5" fill="#cfc6aa"/>
<rect x="385.2" y="266.5" width="1.2" height="1.5" fill="#cfc6aa"/>
<rect x="411.1" y="260.5" width="1.2" height="1.5" fill="#cfc6aa"/>
<rect x="411.1" y="263.5" width="1.2" height="1.5" fill="#cfc6aa"/>
<rect x="411.1" y="266.5" width="1.2" height="1.5" fill="#cfc6aa"/>
<circle cx="411.7" cy="172.2" r="5.6" fill="#000" stroke="#f2b53a" stroke-width="1.3"/>
<rect x="420.5" y="171.4" width="1.6" height="1.6" fill="#f2b53a"/>
<rect x="424" y="171.4" width="1.6" height="1.6" fill="#f2b53a"/>
<rect x="427.5" y="171.4" width="1.6" height="1.6" fill="#f2b53a"/>
<path d="M439.5,172.2 L430.5,168 L433,172.2 L430.5,176.4 Z" fill="#f2b53a"/>
<g transform="translate(0 282) scale(1 1.035) translate(0 -279)"><line x1="599.9" y1="279.3" x2="483.5" y2="332.4" stroke="#c4c4c4" stroke-width="1.1"/>
<path d="M479,334.4 L482.6,330.3 L484.5,334.5 Z" fill="#c4c4c4"/>
<text x="474" y="339.5" font-family="'Liberation Serif', serif" font-style="italic" font-size="14" fill="#c4c4c4" text-anchor="middle">x</text>
<line x1="599.9" y1="279.3" x2="720.2" y2="329.2" stroke="#c4c4c4" stroke-width="1.1"/>
<path d="M724.8,331.1 L719.3,331.3 L721.1,327.1 Z" fill="#c4c4c4"/>
<text x="734.4" y="334" font-family="'Liberation Serif', serif" font-style="italic" font-size="14" fill="#c4c4c4" text-anchor="middle">y</text><g transform="scale(0.5)" stroke-width="1.2" stroke-linejoin="round"><path fill="#60e6fe" stroke="#60e6fe" d="M1200 573l251 107-1 0-252-107z"/><path fill="#1ea0dc" stroke="#1ea0dc" d="M1198 573l252 107-1-1-252-107zM1197 572l252 107-1-2-252-107zM1196 570l252 107-1-3-252-107zM1195 567l252 107-1-3-253-107zM1193 564l253 107 0-4-254-106zM1192 561l254 106-1-3-254-106zM1191 558l254 106-1-2-254-106zM1190 556l254 106-1-1-255-106z"/><path fill="#60e6fe" stroke="#60e6fe" d="M1188 555l255 106-1 0-255-106z"/><path fill="#36d4fd" stroke="#36d4fd" d="M1187 555l255 106-2 1-254-106z"/><path fill="#28cefc" stroke="#28cefc" d="M1186 556l254 106-1 3-255-107zM1184 558l255 107-2 4-254-107zM1183 562l254 107-1 5-254-108zM1182 566l254 108-2 5-253-109zM1181 570l253 109-1 5-254-110zM1179 574l254 110-2 5-253-111zM1178 578l253 111-1 4-253-111zM1177 582l253 111-1 3-253-112z"/><path fill="#36d4fd" stroke="#36d4fd" d="M1176 584l253 112-2 1-253-112z"/><path fill="#60e6fe" stroke="#60e6fe" d="M1174 585l253 112-1 0-253-112z"/><path fill="#1ea0dc" stroke="#1ea0dc" d="M1173 585l253 112-1-1-253-112zM1172 584l253 112-1-2-254-112zM1170 582l254 112-1-3-254-112zM1169 579l254 112-1-3-254-112zM1168 576l254 112-1-4-255-111zM1166 573l255 111-1-3-255-111zM1165 570l255 111-1-2-256-111zM1163 568l256 111-1-2-256-110z"/><path fill="#60e6fe" stroke="#60e6fe" d="M1162 567l256 110-1 1-256-111z"/><path fill="#36d4fd" stroke="#36d4fd" d="M1161 567l256 111-2 1-256-111z"/><path fill="#28cefc" stroke="#28cefc" d="M1159 568l256 111-1 3-256-112zM1158 570l256 112-2 4-255-112zM1157 574l255 112-1 5-256-113zM1155 578l256 113-2 5-255-114zM1154 582l255 114-1 6-255-115zM1153 587l255 115-2 4-254-115zM1152 591l254 115-1 5-255-117zM1150 594l255 117-2 2-254-117z"/><path fill="#36d4fd" stroke="#36d4fd" d="M1149 596l254 117-1 2-254-117z"/><path fill="#60e6fe" stroke="#60e6fe" d="M1148 598l254 117-1 0-255-117z"/><path fill="#1ea0dc" stroke="#1ea0dc" d="M1146 598l255 117-2-1-254-118zM1145 596l254 118-1-2-255-118zM1143 594l255 118-1-3-255-117zM1142 592l255 117-1-4-255-117zM1141 588l255 117-1-3-256-117zM1139 585l256 117-1-3-256-117zM1138 582l256 117-1-3-257-116zM1136 580l257 116-1-1-257-116z"/><path fill="#60e6fe" stroke="#60e6fe" d="M1135 579l257 116-2 0-257-116z"/><path fill="#36d4fd" stroke="#36d4fd" d="M1133 579l257 116-1 2-257-117z"/><path fill="#28cefc" stroke="#28cefc" d="M1132 580l257 117-1 3-257-117zM1131 583l257 117-2 4-257-118zM1129 586l257 118-2 5-256-119zM1128 590l256 119-1 5-256-119zM1127 595l256 119-2 6-256-121zM1125 599l256 121-1 5-256-122zM1124 603l256 122-2 4-255-122zM1123 607l255 122-1 3-256-123z"/><path fill="#36d4fd" stroke="#36d4fd" d="M1121 609l256 123-2 2-255-123z"/><path fill="#60e6fe" stroke="#60e6fe" d="M1120 611l255 123-1 0-256-123z"/><path fill="#1ea0dc" stroke="#1ea0dc" d="M1118 611l256 123-1-1-256-124zM1117 609l256 124-2-2-256-124zM1115 607l256 124-1-3-256-123zM1114 605l256 123-1-4-257-123zM1112 601l257 123-1-4-257-122zM1111 598l257 122-1-3-258-122zM1109 595l258 122-2-2-257-122zM1108 593l257 122-1-1-258-122z"/><path fill="#60e6fe" stroke="#60e6fe" d="M1106 592l258 122-1 0-258-122z"/><path fill="#36d4fd" stroke="#36d4fd" d="M1105 592l258 122-2 2-258-123z"/><path fill="#28cefc" stroke="#28cefc" d="M1103 593l258 123-1 3-258-123zM1102 596l258 123-2 4-257-124zM1101 599l257 124-1 5-258-125zM1099 603l258 125-2 6-257-126zM1098 608l257 126-2 5-256-126zM1097 613l256 126-1 5-257-127zM1095 617l257 127-2 5-256-129zM1094 620l256 129-1 3-257-129z"/><path fill="#36d4fd" stroke="#36d4fd" d="M1092 623l257 129-2 2-256-130z"/><path fill="#60e6fe" stroke="#60e6fe" d="M1091 624l256 130-1 0-257-130z"/><path fill="#1ea0dc" stroke="#1ea0dc" d="M1089 624l257 130-2-1-256-130zM1088 623l256 130-1-3-257-129zM1086 621l257 129-1-3-257-129zM1085 618l257 129-2-3-257-129zM1083 615l257 129-1-4-258-129zM1081 611l258 129-1-3-258-129zM1080 608l258 129-1-3-259-128zM1078 606l259 128-2-1-259-128z"/><path fill="#60e6fe" stroke="#60e6fe" d="M1076 605l259 128-1 1-259-129z"/><path fill="#36d4fd" stroke="#36d4fd" d="M1075 605l259 129-2 1-259-128z"/><path fill="#28cefc" stroke="#28cefc" d="M1073 607l259 128-1 4-259-130zM1072 609l259 130-2 4-259-130zM1070 613l259 130-2 5-258-131zM1069 617l258 131-1 6-258-132zM1068 622l258 132-2 6-258-134zM1066 626l258 134-2 5-257-134zM1065 631l257 134-1 4-257-135zM1064 634l257 135-2 4-257-136z"/><path fill="#36d4fd" stroke="#36d4fd" d="M1062 637l257 136-2 1-256-136z"/><path fill="#60e6fe" stroke="#60e6fe" d="M1061 638l256 136-1 1-257-137z"/><path fill="#1ea0dc" stroke="#1ea0dc" d="M1059 638l257 137-2-1-257-137zM1057 637l257 137-1-3-257-136zM1056 635l257 136-1-3-258-136zM1054 632l258 136-2-4-258-135zM1052 629l258 135-1-3-259-135zM1050 626l259 135-2-3-258-135zM1049 623l258 135-1-3-259-135zM1047 620l259 135-2-1-259-135z"/><path fill="#60e6fe" stroke="#60e6fe" d="M1045 619l259 135-1 0-259-135z"/><path fill="#36d4fd" stroke="#36d4fd" d="M1044 619l259 135-2 2-259-135z"/><path fill="#28cefc" stroke="#28cefc" d="M1042 621l259 135-1 3-260-136zM1040 623l260 136-2 5-259-137zM1039 627l259 137-2 5-258-138zM1038 631l258 138-2 6-258-139zM1036 636l258 139-1 6-258-140zM1035 641l258 140-2 6-258-142zM1033 645l258 142-2 4-257-142zM1032 649l257 142-1 3-258-142z"/><path fill="#36d4fd" stroke="#36d4fd" d="M1030 652l258 142-2 2-257-143z"/><path fill="#60e6fe" stroke="#60e6fe" d="M1029 653l257 143-2 1-257-144z"/><path fill="#1ea0dc" stroke="#1ea0dc" d="M1027 653l257 144-1-1-258-144zM1025 652l258 144-2-3-257-143zM1024 650l257 143-1-3-258-143zM1022 647l258 143-2-4-258-142zM1020 644l258 142-1-3-259-143zM1018 640l259 143-2-4-259-142zM1016 637l259 142-1-2-260-142zM1014 635l260 142-2-1-259-142z"/><path fill="#60e6fe" stroke="#60e6fe" d="M1013 634l259 142-2 0-259-142z"/><path fill="#36d4fd" stroke="#36d4fd" d="M1011 634l259 142-1 2-260-143z"/><path fill="#28cefc" stroke="#28cefc" d="M1009 635l260 143-2 4-259-144zM1008 638l259 144-2 4-259-144zM1006 642l259 144-2 6-258-146zM1005 646l258 146-1 6-259-147zM1003 651l259 147-2 6-258-148zM1002 656l258 148-2 6-258-149zM1000 661l258 149-2 4-257-149zM999 665l257 149-2 4-257-151z"/><path fill="#36d4fd" stroke="#36d4fd" d="M997 667l257 151-1 2-257-151z"/><path fill="#60e6fe" stroke="#60e6fe" d="M996 669l257 151-2 0-257-151z"/><path fill="#1ea0dc" stroke="#1ea0dc" d="M994 669l257 151-2-1-257-151zM992 668l257 151-1-2-258-151zM990 666l258 151-2-3-258-151zM988 663l258 151-2-4-258-151zM986 659l258 151-1-4-259-150zM984 656l259 150-2-3-259-150zM982 653l259 150-2-3-259-150zM980 650l259 150-2-1-259-150z"/><path fill="#60e6fe" stroke="#60e6fe" d="M978 649l259 150-1 1-260-151z"/><path fill="#36d4fd" stroke="#36d4fd" d="M976 649l260 151-2 2-259-151z"/><path fill="#28cefc" stroke="#28cefc" d="M975 651l259 151-2 3-259-151zM973 654l259 151-2 5-258-153zM972 657l258 153-2 6-258-154zM970 662l258 154-1 6-258-155zM969 667l258 155-2 6-258-156zM967 672l258 156-2 6-257-157zM966 677l257 157-2 5-257-158zM964 681l257 158-2 3-257-158z"/><path fill="#36d4fd" stroke="#36d4fd" d="M962 684l257 158-2 2-256-159z"/></g></g>
<g transform="translate(0 221) scale(1 1.04) translate(0 -221)"><line x1="599.8" y1="221.5" x2="476.4" y2="266.1" stroke="#c4c4c4" stroke-width="1.1"/>
<path d="M471.7,267.8 L475.6,263.9 L477.1,268.2 Z" fill="#c4c4c4"/>
<text x="465.6" y="273" font-family="'Liberation Serif', serif" font-style="italic" font-size="14" fill="#c4c4c4" text-anchor="middle">x</text>
<line x1="599.8" y1="221.5" x2="727.3" y2="263.4" stroke="#c4c4c4" stroke-width="1.1"/>
<path d="M732.1,265 L726.6,265.6 L728,261.2 Z" fill="#c4c4c4"/>
<text x="742.2" y="268" font-family="'Liberation Serif', serif" font-style="italic" font-size="14" fill="#c4c4c4" text-anchor="middle">y</text><g transform="scale(0.5)" stroke-width="1.2" stroke-linejoin="round"><path fill="#fdeaab" stroke="#fdeaab" d="M1200 458l-253 95 2 0 252-95z"/><path fill="#ecaa32" stroke="#ecaa32" d="M1201 458l-252 95 1-2 252-94zM1202 457l-252 94 1-3 253-94zM1204 454l-253 94 1-3 253-94zM1205 451l-253 94 1-4 253-93zM1206 448l-253 93 1-4 254-93zM1208 444l-254 93 1-4 254-92zM1209 441l-254 92 1-3 255-92zM1211 438l-255 92 1-2 255-91z"/><path fill="#fdeaab" stroke="#fdeaab" d="M1212 437l-255 91 2 0 255-91z"/><path fill="#fbe091" stroke="#fbe091" d="M1214 437l-255 91 1 2 255-92z"/><path fill="#fadc88" stroke="#fadc88" d="M1215 438l-255 92 2 3 254-93zM1216 440l-254 93 1 4 255-94zM1218 443l-255 94 2 5 254-94zM1219 448l-254 94 2 6 254-96zM1221 452l-254 96 1 5 254-96zM1222 457l-254 96 2 5 253-97zM1223 461l-253 97 2 4 253-98zM1225 464l-253 98 1 3 253-98z"/><path fill="#fbe091" stroke="#fbe091" d="M1226 467l-253 98 2 2 253-99z"/><path fill="#fdeaab" stroke="#fdeaab" d="M1228 468l-253 99 1 0 253-99z"/><path fill="#ecaa32" stroke="#ecaa32" d="M1229 468l-253 99 2-2 253-99zM1231 466l-253 99 1-3 253-98zM1232 464l-253 98 1-3 254-98zM1234 461l-254 98 1-4 254-98zM1235 457l-254 98 1-5 254-97zM1236 453l-254 97 1-3 255-97zM1238 450l-255 97 1-3 255-97zM1239 447l-255 97 2-2 255-96z"/><path fill="#fdeaab" stroke="#fdeaab" d="M1241 446l-255 96 1 0 255-96z"/><path fill="#fbe091" stroke="#fbe091" d="M1242 446l-255 96 2 2 255-97z"/><path fill="#fadc88" stroke="#fadc88" d="M1244 447l-255 97 1 3 255-98zM1245 449l-255 98 2 4 255-98zM1247 453l-255 98 2 5 254-99zM1248 457l-254 99 2 6 254-100zM1250 462l-254 100 1 5 254-100zM1251 467l-254 100 2 6 254-102zM1253 471l-254 102 2 4 253-103zM1254 474l-253 103 1 3 254-103z"/><path fill="#fbe091" stroke="#fbe091" d="M1256 477l-254 103 2 1 253-103z"/><path fill="#fdeaab" stroke="#fdeaab" d="M1257 478l-253 103 1 0 254-103z"/><path fill="#ecaa32" stroke="#ecaa32" d="M1259 478l-254 103 2-1 253-104zM1260 476l-253 104 1-3 254-103zM1262 474l-254 103 1-4 254-102zM1263 471l-254 102 2-4 254-102zM1265 467l-254 102 1-4 254-102zM1266 463l-254 102 1-4 255-101zM1268 460l-255 101 1-3 256-101zM1270 457l-256 101 2-1 255-101z"/><path fill="#fdeaab" stroke="#fdeaab" d="M1271 456l-255 101 1 0 256-101z"/><path fill="#fbe091" stroke="#fbe091" d="M1273 456l-256 101 2 1 255-101z"/><path fill="#fadc88" stroke="#fadc88" d="M1274 457l-255 101 2 3 255-102zM1276 459l-255 102 1 5 255-103zM1277 463l-255 103 2 5 255-104zM1279 467l-255 104 2 6 254-105zM1280 472l-254 105 2 6 254-106zM1282 477l-254 106 2 5 253-107zM1283 481l-253 107 1 4 254-107zM1285 485l-254 107 2 3 253-108z"/><path fill="#fbe091" stroke="#fbe091" d="M1286 487l-253 108 2 2 253-109z"/><path fill="#fdeaab" stroke="#fdeaab" d="M1288 488l-253 109 1 0 253-109z"/><path fill="#ecaa32" stroke="#ecaa32" d="M1289 488l-253 109 2-2 253-108zM1291 487l-253 108 1-2 253-109zM1292 484l-253 109 1-4 254-108zM1294 481l-254 108 2-4 254-108zM1296 477l-254 108 1-5 255-107zM1298 473l-255 107 2-4 254-106zM1299 470l-254 106 1-3 255-106zM1301 467l-255 106 1-1 256-106z"/><path fill="#fdeaab" stroke="#fdeaab" d="M1303 466l-256 106 2 0 255-106z"/><path fill="#fbe091" stroke="#fbe091" d="M1304 466l-255 106 2 1 255-106z"/><path fill="#fadc88" stroke="#fadc88" d="M1306 467l-255 106 1 4 255-108zM1307 469l-255 108 2 4 255-108zM1309 473l-255 108 2 6 254-110zM1310 477l-254 110 2 6 254-111zM1312 482l-254 111 2 6 253-112zM1313 487l-253 112 2 5 253-112zM1315 492l-253 112 2 5 252-114zM1316 495l-252 114 1 3 253-114z"/><path fill="#fbe091" stroke="#fbe091" d="M1318 498l-253 114 2 1 253-114z"/><path fill="#fdeaab" stroke="#fdeaab" d="M1320 499l-253 114 2 0 252-114z"/><path fill="#ecaa32" stroke="#ecaa32" d="M1321 499l-252 114 1-1 253-114zM1323 498l-253 114 2-3 253-114zM1325 495l-253 114 1-4 254-113zM1327 492l-254 113 2-4 253-113zM1328 488l-253 113 1-5 254-112zM1330 484l-254 112 2-4 254-111zM1332 481l-254 111 1-3 255-111zM1334 478l-255 111 2-1 255-112z"/><path fill="#fdeaab" stroke="#fdeaab" d="M1336 476l-255 112 2 0 254-112z"/><path fill="#fbe091" stroke="#fbe091" d="M1337 476l-254 112 1 1 255-112z"/><path fill="#fadc88" stroke="#fadc88" d="M1339 477l-255 112 2 4 255-113zM1341 480l-255 113 2 4 254-113zM1342 484l-254 113 2 6 254-115zM1344 488l-254 115 2 6 253-116zM1345 493l-253 116 2 6 253-117zM1347 498l-253 117 2 6 252-118zM1348 503l-252 118 2 5 252-119zM1350 507l-252 119 2 3 251-120z"/><path fill="#fbe091" stroke="#fbe091" d="M1351 509l-251 120 1 2 252-120z"/><path fill="#fdeaab" stroke="#fdeaab" d="M1353 511l-252 120 2 0 252-121z"/><path fill="#ecaa32" stroke="#ecaa32" d="M1355 510l-252 121 2-2 252-120zM1357 509l-252 120 1-3 253-120zM1359 506l-253 120 2-4 252-119zM1360 503l-252 119 2-4 252-119zM1362 499l-252 119 1-5 253-118zM1364 495l-253 118 2-4 253-117zM1366 492l-253 117 2-3 253-117zM1368 489l-253 117 1-1 254-118z"/><path fill="#fdeaab" stroke="#fdeaab" d="M1370 487l-254 118 2 0 254-118z"/><path fill="#fbe091" stroke="#fbe091" d="M1372 487l-254 118 2 2 254-118z"/><path fill="#fadc88" stroke="#fadc88" d="M1374 489l-254 118 2 3 253-119zM1375 491l-253 119 2 5 253-120zM1377 495l-253 120 2 6 252-121zM1378 500l-252 121 2 6 252-122zM1380 505l-252 122 2 6 252-123zM1382 510l-252 123 2 6 251-124zM1383 515l-251 124 2 5 251-126zM1385 518l-251 126 2 3 250-126z"/><path fill="#fbe091" stroke="#fbe091" d="M1386 521l-250 126 2 2 250-127z"/><path fill="#fdeaab" stroke="#fdeaab" d="M1388 522l-250 127 1 0 251-127z"/><path fill="#ecaa32" stroke="#ecaa32" d="M1390 522l-251 127 2-1 251-127zM1392 521l-251 127 2-3 251-127zM1394 518l-251 127 2-4 251-126zM1396 515l-251 126 2-5 251-125zM1398 511l-251 125 1-4 252-125zM1400 507l-252 125 2-4 252-125zM1402 503l-252 125 2-4 252-123zM1404 501l-252 123 2-1 252-124z"/><path fill="#fdeaab" stroke="#fdeaab" d="M1406 499l-252 124 2 0 252-124z"/><path fill="#fbe091" stroke="#fbe091" d="M1408 499l-252 124 2 2 252-125z"/><path fill="#fadc88" stroke="#fadc88" d="M1410 500l-252 125 2 3 252-125zM1412 503l-252 125 2 5 251-126zM1413 507l-251 126 2 6 251-127zM1415 512l-251 127 2 7 250-129zM1416 517l-250 129 2 6 250-130zM1418 522l-250 130 2 6 250-131zM1420 527l-250 131 2 5 249-132zM1421 531l-249 132 2 4 249-133z"/><path fill="#fbe091" stroke="#fbe091" d="M1423 534l-249 133 2 1 249-133z"/><path fill="#fdeaab" stroke="#fdeaab" d="M1425 535l-249 133 2 1 249-134z"/><path fill="#ecaa32" stroke="#ecaa32" d="M1427 535l-249 134 2-2 249-134zM1429 533l-249 134 2-3 249-133zM1431 531l-249 133 2-4 249-133zM1433 527l-249 133 2-5 249-132zM1435 523l-249 132 2-4 250-132zM1438 519l-250 132 2-4 250-131zM1440 516l-250 131 2-3 250-131zM1442 513l-250 131 2-2 250-131z"/><path fill="#fdeaab" stroke="#fdeaab" d="M1444 511l-250 131 2 0 250-131z"/><path fill="#fbe091" stroke="#fbe091" d="M1446 511l-250 131 2 2 250-132z"/><path fill="#fadc88" stroke="#fadc88" d="M1448 512l-250 132 2 4 250-133zM1450 515l-250 133 2 5 249-134zM1451 519l-249 134 2 6 249-135zM1453 524l-249 135 2 7 249-136zM1455 530l-249 136 2 6 248-137zM1456 535l-248 137 2 6 248-138zM1458 540l-248 138 3 6 247-140zM1460 544l-247 140 2 3 246-140z"/><path fill="#fbe091" stroke="#fbe091" d="M1461 547l-246 140 2 2 246-141z"/></g></g>
<line x1="599.7" y1="157.4" x2="467.6" y2="191.2" stroke="#c4c4c4" stroke-width="1.1"/>
<path d="M462.8,192.5 L467.1,189 L468.2,193.4 Z" fill="#c4c4c4"/>
<text x="455.6" y="198" font-family="'Liberation Serif', serif" font-style="italic" font-size="14" fill="#c4c4c4" text-anchor="middle">x</text>
<line x1="599.7" y1="157.4" x2="736" y2="189.2" stroke="#c4c4c4" stroke-width="1.1"/>
<path d="M740.9,190.3 L735.5,191.4 L736.5,186.9 Z" fill="#c4c4c4"/>
<text x="749" y="195" font-family="'Liberation Serif', serif" font-style="italic" font-size="14" fill="#c4c4c4" text-anchor="middle">y</text>
<line x1="601.5" y1="158" x2="601.5" y2="133" stroke="#c4c4c4" stroke-width="1.1"/><path d="M601.5,129 L599.3,134 L603.7,134 Z" fill="#c4c4c4"/>
<g transform="scale(0.5)" stroke-width="1.4" stroke-linejoin="round"><path fill="#f89034" stroke="#f89034" d="M1199 284l-4 5 4 5 5-5z"/><path fill="#fac896" stroke="#fac896" d="M1204 289l-5 5 5 12 5-4z"/><path fill="#f7821c" stroke="#f7821c" d="M1195 289l-5 14 5 3 4-12z"/><path fill="#fac896" stroke="#fac896" d="M1209 302l-5 4 5 16 5-2z"/><path fill="#f89034" stroke="#f89034" d="M1199 294l-4 12 5 7 4-7z"/><path fill="#f7821c" stroke="#f7821c" d="M1190 303l-5 18 5 1 5-16z"/><path fill="#fac896" stroke="#fac896" d="M1214 320l-5 2 5 15 5 1zM1204 306l-4 7 5 10 4-1z"/><path fill="#f7821c" stroke="#f7821c" d="M1195 306l-5 16 5 1 5-10zM1185 321l-4 17 5-1 4-15z"/><path fill="#fac896" stroke="#fac896" d="M1219 338l-5-1 5 12 4 3zM1209 322l-4 1 4 9 5 5z"/><path fill="#f89034" stroke="#f89034" d="M1200 313l-5 10 5 1 5-1z"/><path fill="#f7821c" stroke="#f7821c" d="M1190 322l-4 15 4-4 5-10zM1181 338l-5 14 5-3 5-12z"/><path fill="#fac896" stroke="#fac896" d="M1223 352l-4-3 5 5 4 3zM1214 337l-5-5 5 8 5 9zM1205 323l-5 1 5 1 4 7z"/><path fill="#f7821c" stroke="#f7821c" d="M1195 323l-5 10 5-8 5-1zM1186 337l-5 12 5-9 4-7zM1176 352l-4 6 4-3 5-6zM1254 300l-4 5 5-3 5-6zM1244 315l-4 7 5-5 5-12zM1234 330l-4 1 5 1 5-10zM1196 300l-5 5 5-3 5-6zM1186 315l-5 8 5-5 5-13zM1176 330l-5 2 5 1 5-10z"/><path fill="#fac896" stroke="#fac896" d="M1225 330l-5-7 5 9 5-1zM1215 315l-5-10 5 12 5 6zM1205 300l-4-4 5 6 4 3zM1166 330l-5-7 5 10 5-1zM1156 315l-5-9 5 12 5 5zM1146 300l-5-3 5 6 5 3z"/><path fill="#f89034" stroke="#f89034" d="M1260 296l-5 6 5 5 5-5zM1230 331l-5 1 5 10 5-10zM1201 296l-5 6 5 6 5-6zM1171 332l-5 1 5 10 5-10zM1141 297l-5 6 5 5 5-5z"/><path fill="#f7821c" stroke="#f7821c" d="M1250 305l-5 12 5-1 5-14zM1240 322l-5 10 5 2 5-17zM1191 305l-5 13 5-2 5-14zM1181 323l-5 10 5 1 5-16z"/><path fill="#fac896" stroke="#fac896" d="M1220 323l-5-6 5 17 5-2zM1210 305l-4-3 5 14 4 1zM1161 323l-5-5 5 16 5-1zM1151 306l-5-3 5 14 5 1zM1265 302l-5 5 5 13 5-4zM1225 332l-5 2 5 16 5-8zM1215 317l-4-1 5 19 4-1zM1206 302l-5 6 5 12 5-4zM1166 333l-5 1 6 16 4-7zM1156 318l-5-1 5 18 5-1zM1146 303l-5 5 5 12 5-3z"/><path fill="#f7821c" stroke="#f7821c" d="M1255 302l-5 14 5 4 5-13zM1245 317l-5 17 5 1 5-19zM1235 332l-5 10 5 8 5-16zM1196 302l-5 14 5 4 5-12zM1186 318l-5 16 5 1 5-19zM1176 333l-5 10 5 7 5-16zM1136 303l-4 14 4 3 5-12z"/><path fill="#fac896" stroke="#fac896" d="M1270 316l-5 4 5 16 5-1zM1220 334l-4 1 5 19 4-4zM1211 316l-5 4 5 16 5-1zM1161 334l-5 1 6 19 5-4zM1151 317l-5 3 5 17 5-2z"/><path fill="#f89034" stroke="#f89034" d="M1260 307l-5 13 5 7 5-7zM1230 342l-5 8 5 12 5-12zM1201 308l-5 12 5 8 5-8zM1171 343l-4 7 5 13 4-13zM1141 308l-5 12 5 8 5-8z"/><path fill="#f7821c" stroke="#f7821c" d="M1250 316l-5 19 5 1 5-16zM1240 334l-5 16 5 4 5-19zM1191 316l-5 19 5 2 5-17zM1181 334l-5 16 5 4 5-19zM1132 317l-5 19 5 1 4-17z"/><path fill="#fac896" stroke="#fac896" d="M1275 335l-5 1 5 16 5 1zM1265 320l-5 7 6 10 4-1zM1225 350l-4 4 5 14 4-6zM1216 335l-5 1 5 17 5 1zM1206 320l-5 8 5 10 5-2zM1167 350l-5 4 5 14 5-5zM1156 335l-5 2 6 16 5 1zM1146 320l-5 8 5 10 5-1z"/><path fill="#f7821c" stroke="#f7821c" d="M1255 320l-5 16 6 1 4-10zM1245 335l-5 19 6-1 4-17zM1235 350l-5 12 6 6 4-14zM1196 320l-5 17 5 1 5-10zM1186 335l-5 19 5-1 5-16zM1176 350l-4 13 4 5 5-14zM1136 320l-4 17 4 1 5-10zM1127 336l-5 18 5-1 5-16z"/><path fill="#fac896" stroke="#fac896" d="M1280 353l-5-1 5 13 5 2zM1270 336l-4 1 5 10 4 5zM1221 354l-5-1 5 12 5 3zM1211 336l-5 2 5 10 5 5zM1162 354l-5-1 5 13 5 2zM1151 337l-5 1 5 10 6 5z"/><path fill="#f89034" stroke="#f89034" d="M1260 327l-4 10 5 2 5-2zM1230 362l-4 6 5 6 5-6zM1201 328l-5 10 5 1 5-1zM1172 363l-5 5 5 6 4-6zM1141 328l-5 10 5 1 5-1z"/><path fill="#f7821c" stroke="#f7821c" d="M1250 336l-4 17 5-5 5-11zM1240 354l-4 14 5-3 5-12zM1191 337l-5 16 5-5 5-10zM1181 354l-5 14 5-3 5-12zM1132 337l-5 16 4-5 5-10zM1122 354l-5 15 5-3 5-13z"/><path fill="#fac896" stroke="#fac896" d="M1285 367l-5-2 6 5 4 3zM1275 352l-4-5 5 8 4 10zM1266 337l-5 2 5 1 5 7zM1226 368l-5-3 5 6 5 3zM1216 353l-5-5 5 8 5 9zM1206 338l-5 1 5 1 5 8zM1167 368l-5-2 5 5 5 3zM1157 353l-6-5 5 8 6 10zM1146 338l-5 1 5 2 5 7z"/><path fill="#f7821c" stroke="#f7821c" d="M1256 337l-5 11 5-8 5-1zM1246 353l-5 12 5-10 5-7zM1236 368l-5 6 5-3 5-6zM1196 338l-5 10 5-8 5-1zM1186 353l-5 12 5-9 5-8zM1176 368l-4 6 5-3 4-6zM1136 338l-5 10 5-7 5-2zM1127 353l-5 13 4-10 5-8zM1117 369l-5 6 5-4 5-5zM1320 314l-5 5 6-3 4-6zM1309 329l-5 8 6-5 5-13zM1298 345l-4 2 5 1 5-11zM1258 314l-5 6 6-3 5-7zM1248 330l-5 8 5-6 5-12zM1237 346l-4 1 5 1 5-10zM1197 314l-5 6 5-3 5-6zM1186 330l-5 8 6-5 5-13zM1176 346l-5 1 5 2 5-11zM1135 315l-5 5 5-3 5-6zM1125 331l-5 8 5-6 5-13zM1115 346l-5 2 5 1 5-10z"/><path fill="#fac896" stroke="#fac896" d="M1288 345l-4-7 5 10 5-1zM1278 330l-4-11 5 13 5 6zM1268 314l-4-4 5 6 5 3zM1227 346l-5-8 6 10 5-1zM1217 330l-5-10 5 13 5 5zM1207 314l-5-3 5 6 5 3zM1166 346l-5-8 5 11 5-2zM1156 330l-6-10 6 13 5 5zM1145 315l-5-4 5 6 5 3zM1105 346l-6-7 5 10 6-1zM1094 331l-6-10 6 13 5 5zM1083 315l-5-3 5 6 5 3z"/><path fill="#f89034" stroke="#f89034" d="M1325 310l-4 6 5 6 5-6zM1294 347l-5 1 5 10 5-10zM1264 310l-5 7 5 5 5-6zM1233 347l-5 1 5 11 5-11zM1202 311l-5 6 5 5 5-5zM1171 347l-5 2 5 10 5-10zM1140 311l-5 6 5 6 5-6zM1110 348l-6 1 6 11 5-11zM1078 312l-6 6 5 5 6-5z"/><path fill="#f7821c" stroke="#f7821c" d="M1315 319l-5 13 6-1 5-15zM1304 337l-5 11 6 1 5-17zM1253 320l-5 12 6-1 5-14zM1243 338l-5 10 5 2 5-18zM1192 320l-5 13 5-1 5-15zM1181 338l-5 11 6 1 5-17zM1130 320l-5 13 5-1 5-15zM1120 339l-5 10 5 2 5-18z"/><path fill="#fac896" stroke="#fac896" d="M1284 338l-5-6 5 17 5-1zM1274 319l-5-3 6 15 4 1zM1222 338l-5-5 6 17 5-2zM1212 320l-5-3 5 15 5 1zM1161 338l-5-5 5 17 5-1zM1150 320l-5-3 5 15 6 1zM1099 339l-5-5 5 17 5-2zM1088 321l-5-3 5 14 6 2zM1331 316l-5 6 6 13 4-4zM1289 348l-5 1 6 17 4-8zM1279 332l-4-1 5 20 4-2zM1269 316l-5 6 6 13 5-4zM1228 348l-5 2 5 17 5-8zM1217 333l-5-1 6 19 5-1zM1207 317l-5 5 5 13 5-3zM1166 349l-5 1 5 17 5-8zM1156 333l-6-1 6 20 5-2zM1145 317l-5 6 5 13 5-4zM1104 349l-5 2 5 17 6-8zM1094 334l-6-2 5 20 6-1zM1083 318l-6 5 6 13 5-4z"/><path fill="#f7821c" stroke="#f7821c" d="M1321 316l-5 15 5 4 5-13zM1310 332l-5 17 6 2 5-20zM1299 348l-5 10 6 8 5-17zM1259 317l-5 14 5 4 5-13zM1248 332l-5 18 6 1 5-20zM1238 348l-5 11 5 8 5-17zM1197 317l-5 15 5 4 5-14zM1187 333l-5 17 5 1 5-19zM1176 349l-5 10 6 8 5-17zM1135 317l-5 15 5 4 5-13zM1125 333l-5 18 5 1 5-20zM1115 349l-5 11 5 8 5-17zM1072 318l-5 15 5 3 5-13z"/><path fill="#fac896" stroke="#fac896" d="M1336 331l-4 4 5 17 4-2zM1284 349l-4 2 5 19 5-4zM1275 331l-5 4 5 17 5-1zM1223 350l-5 1 5 20 5-4zM1212 332l-5 3 6 18 5-2zM1161 350l-5 2 5 19 5-4zM1150 332l-5 4 5 17 6-1zM1099 351l-6 1 6 20 5-4zM1088 332l-5 4 5 18 5-2z"/><path fill="#f89034" stroke="#f89034" d="M1326 322l-5 13 6 8 5-8zM1294 358l-4 8 5 13 5-13zM1264 322l-5 13 6 8 5-8zM1233 359l-5 8 5 13 5-13zM1202 322l-5 14 5 8 5-9zM1171 359l-5 8 6 13 5-13zM1140 323l-5 13 5 8 5-8zM1110 360l-6 8 6 13 5-13zM1077 323l-5 13 5 8 6-8z"/><path fill="#f7821c" stroke="#f7821c" d="M1316 331l-5 20 5 1 5-17zM1305 349l-5 17 5 4 6-19zM1254 331l-5 20 5 1 5-17zM1243 350l-5 17 6 4 5-20zM1192 332l-5 19 5 2 5-17zM1182 350l-5 17 5 4 5-20zM1130 332l-5 20 5 1 5-17zM1120 351l-5 17 5 4 5-20zM1067 333l-5 19 5 2 5-18z"/><path fill="#fac896" stroke="#fac896" d="M1341 350l-4 2 5 17 5 1zM1332 335l-5 8 6 10 4-1zM1290 366l-5 4 5 15 5-6zM1280 351l-5 1 5 17 5 1zM1270 335l-5 8 5 11 5-2zM1228 367l-5 4 5 14 5-5zM1218 351l-5 2 5 17 5 1zM1207 335l-5 9 6 10 5-1zM1166 367l-5 4 5 15 6-6zM1156 352l-6 1 6 17 5 1zM1145 336l-5 8 5 11 5-2zM1104 368l-5 4 5 14 6-5zM1093 352l-5 2 5 17 6 1zM1083 336l-6 8 5 11 6-1z"/><path fill="#f7821c" stroke="#f7821c" d="M1321 335l-5 17 6 1 5-10zM1311 351l-6 19 6-1 5-17zM1300 366l-5 13 5 6 5-15zM1259 335l-5 17 6 2 5-11zM1249 351l-5 20 5-1 5-18zM1238 367l-5 13 6 5 5-14zM1197 336l-5 17 5 1 5-10zM1187 351l-5 20 5-1 5-17zM1177 367l-5 13 5 6 5-15zM1135 336l-5 17 5 2 5-11zM1125 352l-5 20 5-1 5-18zM1115 368l-5 13 5 5 5-14zM1072 336l-5 18 5 1 5-11zM1062 352l-5 20 5-1 5-17z"/><path fill="#fac896" stroke="#fac896" d="M1347 370l-5-1 6 13 4 3zM1337 352l-4 1 5 11 4 5zM1285 370l-5-1 6 13 4 3zM1275 352l-5 2 6 10 4 5zM1223 371l-5-1 5 13 5 2zM1213 353l-5 1 5 11 5 5zM1161 371l-5-1 5 13 5 3zM1150 353l-5 2 5 10 6 5zM1099 372l-6-1 6 13 5 2zM1088 354l-6 1 6 11 5 5z"/><path fill="#f89034" stroke="#f89034" d="M1327 343l-5 10 6 2 5-2zM1295 379l-5 6 6 6 4-6zM1265 343l-5 11 5 1 5-1zM1233 380l-5 5 6 7 5-7zM1202 344l-5 10 6 2 5-2zM1172 380l-6 6 6 6 5-6zM1140 344l-5 11 5 1 5-1zM1110 381l-6 5 5 7 6-7zM1077 344l-5 11 5 2 5-2z"/><path fill="#f7821c" stroke="#f7821c" d="M1316 352l-5 17 6-5 5-11zM1305 370l-5 15 6-3 5-13zM1254 352l-5 18 6-6 5-10zM1244 371l-5 14 5-2 5-13zM1192 353l-5 17 5-5 5-11zM1182 371l-5 15 5-3 5-13zM1130 353l-5 18 4-6 6-10zM1120 372l-5 14 4-2 6-13zM1067 354l-5 17 5-5 5-11zM1057 372l-5 15 5-3 5-13z"/><path fill="#fac896" stroke="#fac896" d="M1352 385l-4-3 5 6 5 3zM1342 369l-4-5 6 8 4 10zM1333 353l-5 2 6 1 4 8zM1290 385l-4-3 5 6 5 3zM1280 369l-4-5 5 8 5 10zM1270 354l-5 1 6 2 5 7zM1228 385l-5-2 6 6 5 3zM1218 370l-5-5 5 8 5 10zM1208 354l-5 2 5 1 5 8zM1166 386l-5-3 5 6 6 3zM1156 370l-6-5 6 8 5 10zM1145 355l-5 1 5 1 5 8zM1104 386l-5-2 5 6 5 3zM1093 371l-5-5 5 8 6 10zM1082 355l-5 2 5 1 6 8z"/><path fill="#f7821c" stroke="#f7821c" d="M1322 353l-5 11 6-8 5-1zM1311 369l-5 13 6-10 5-8zM1300 385l-4 6 6-3 4-6zM1260 354l-5 10 6-7 4-2zM1249 370l-5 13 6-10 5-9zM1239 385l-5 7 5-3 5-6zM1197 354l-5 11 6-8 5-1zM1187 370l-5 13 5-10 5-8zM1177 386l-5 6 5-3 5-6zM1135 355l-6 10 5-7 6-2zM1125 371l-6 13 5-10 5-9zM1115 386l-6 7 5-4 5-5zM1072 355l-5 11 4-8 6-1zM1062 371l-5 13 4-10 6-8zM1052 387l-5 6 4-3 6-6zM1391 329l-4 6 6-3 5-7zM1380 345l-5 9 7-6 5-13zM1368 362l-4 1 6 2 5-11zM1327 329l-5 6 6-3 5-6zM1316 346l-5 8 6-5 5-14zM1305 362l-5 2 6 1 5-11zM1263 330l-6 6 6-3 5-7zM1252 346l-6 9 6-6 5-13zM1241 363l-5 1 5 2 5-11zM1198 330l-5 6 5-3 5-7zM1187 347l-5 8 5-5 6-14zM1177 363l-6 2 6 1 5-11zM1133 331l-5 6 5-4 5-6zM1123 347l-6 9 5-6 6-13zM1112 364l-5 1 5 2 5-11zM1068 331l-6 6 5-3 6-7zM1058 348l-6 8 5-5 5-14zM1048 364l-6 2 5 1 5-11z"/><path fill="#fac896" stroke="#fac896" d="M1358 362l-4-8 5 11 5-2zM1348 346l-4-11 5 14 5 5zM1338 329l-5-3 6 6 5 3zM1294 362l-5-8 6 11 5-1zM1284 346l-5-10 6 13 4 5zM1273 330l-5-4 6 7 5 3zM1230 363l-5-8 5 11 6-2zM1219 347l-5-11 6 13 5 6zM1209 330l-6-4 6 7 5 3zM1166 363l-6-8 6 11 5-1zM1155 347l-6-11 6 14 5 5zM1144 331l-6-4 6 6 5 3zM1102 364l-6-8 5 11 6-2zM1090 347l-6-10 6 13 6 6zM1079 331l-6-4 5 7 6 3zM1037 364l-6-8 5 11 6-1zM1025 348l-6-11 5 14 7 5zM1014 331l-7-3 5 6 7 3z"/><path fill="#f89034" stroke="#f89034" d="M1398 325l-5 7 6 6 5-6zM1364 363l-5 2 6 11 5-11zM1333 326l-5 6 6 6 5-6zM1300 364l-5 1 6 11 5-11zM1268 326l-5 7 6 5 5-5zM1236 364l-6 2 6 11 5-11zM1203 326l-5 7 6 6 5-6zM1171 365l-5 1 5 11 6-11zM1138 327l-5 6 5 6 6-6zM1107 365l-6 2 5 11 6-11zM1073 327l-6 7 5 6 6-6zM1042 366l-6 1 5 11 6-11zM1007 328l-6 6 5 6 6-6z"/><path fill="#f7821c" stroke="#f7821c" d="M1387 335l-5 13 6-1 5-15zM1375 354l-5 11 6 1 6-18zM1322 335l-5 14 6-1 5-16zM1311 354l-5 11 6 2 5-18zM1257 336l-5 13 6-1 5-15zM1246 355l-5 11 6 1 5-18zM1193 336l-6 14 6-1 5-16zM1182 355l-5 11 5 2 5-18zM1128 337l-6 13 5-1 6-16zM1117 356l-5 11 5 1 5-18zM1062 337l-5 14 5-2 5-15zM1052 356l-5 11 5 2 5-18z"/><path fill="#fac896" stroke="#fac896" d="M1354 354l-5-5 6 17 4-1zM1344 335l-5-3 6 16 4 1zM1289 354l-4-5 5 18 5-2zM1279 336l-5-3 6 15 5 1zM1225 355l-5-6 5 18 5-1zM1214 336l-5-3 6 15 5 1zM1160 355l-5-5 5 18 6-2zM1149 336l-5-3 5 16 6 1zM1096 356l-6-6 5 18 6-1zM1084 337l-6-3 6 15 6 1zM1031 356l-7-5 6 18 6-2zM1019 337l-7-3 6 16 6 1zM1404 332l-5 6 6 13 5-4zM1359 365l-4 1 5 18 5-8zM1349 349l-4-1 5 20 5-2zM1339 332l-5 6 6 14 5-4zM1295 365l-5 2 6 18 5-9zM1285 349l-5-1 5 21 5-2zM1274 333l-5 5 6 14 5-4zM1230 366l-5 1 6 18 5-8zM1220 349l-5-1 5 21 5-2zM1209 333l-5 6 5 14 6-5zM1166 366l-6 2 6 18 5-9zM1155 350l-6-1 6 20 5-1zM1144 333l-6 6 6 14 5-4zM1101 367l-6 1 6 18 5-8zM1090 350l-6-1 5 21 6-2zM1078 334l-6 6 6 13 6-4zM1036 367l-6 2 6 18 5-9zM1024 351l-6-1 6 20 6-1zM1012 334l-6 6 6 14 6-4z"/><path fill="#f7821c" stroke="#f7821c" d="M1393 332l-5 15 6 4 5-13zM1382 348l-6 18 7 2 5-21zM1370 365l-5 11 6 8 5-18zM1328 332l-5 16 6 4 5-14zM1317 349l-5 18 6 1 5-20zM1306 365l-5 11 5 9 6-18zM1263 333l-5 15 6 4 5-14zM1252 349l-5 18 6 2 5-21zM1241 366l-5 11 6 8 5-18zM1198 333l-5 16 5 4 6-14zM1187 350l-5 18 6 1 5-20zM1177 366l-6 11 6 9 5-18zM1133 333l-6 16 6 4 5-14zM1122 350l-5 18 5 2 5-21zM1112 367l-6 11 6 8 5-18zM1067 334l-5 15 5 5 5-14zM1057 351l-5 18 5 1 5-21zM1047 367l-6 11 5 9 6-18zM1001 334l-5 16 5 4 5-14z"/><path fill="#fac896" stroke="#fac896" d="M1410 347l-5 4 5 18 5-1zM1355 366l-5 2 5 21 5-5zM1345 348l-5 4 5 18 5-2zM1290 367l-5 2 6 20 5-4zM1280 348l-5 4 5 18 5-1zM1225 367l-5 2 6 21 5-5zM1215 348l-6 5 6 18 5-2zM1160 368l-5 1 6 21 5-4zM1149 349l-5 4 5 18 6-2zM1095 368l-6 2 6 21 6-5zM1084 349l-6 4 6 19 5-2zM1030 369l-6 1 6 21 6-4zM1018 350l-6 4 6 18 6-2z"/><path fill="#f89034" stroke="#f89034" d="M1399 338l-5 13 6 9 5-9zM1365 376l-5 8 6 14 5-14zM1334 338l-5 14 6 8 5-8zM1301 376l-5 9 5 13 5-13zM1269 338l-5 14 6 9 5-9zM1236 377l-5 8 5 14 6-14zM1204 339l-6 14 6 8 5-8zM1171 377l-5 9 5 13 6-13zM1138 339l-5 14 5 9 6-9zM1106 378l-5 8 5 14 6-14zM1072 340l-5 14 5 8 6-9zM1041 378l-5 9 5 13 5-13zM1006 340l-5 14 5 9 6-9z"/><path fill="#f7821c" stroke="#f7821c" d="M1388 347l-5 21 6 1 5-18zM1376 366l-5 18 6 4 6-20zM1323 348l-5 20 6 2 5-18zM1312 367l-6 18 6 4 6-21zM1258 348l-5 21 5 1 6-18zM1247 367l-5 18 5 4 6-20zM1193 349l-5 20 5 2 5-18zM1182 368l-5 18 5 4 6-21zM1127 349l-5 21 5 1 6-18zM1117 368l-5 18 5 4 5-20zM1062 349l-5 21 5 2 5-18zM1052 369l-6 18 6 4 5-21zM996 350l-5 21 5 1 5-18z"/><path fill="#fac896" stroke="#fac896" d="M1415 368l-5 1 6 18 4 1zM1405 351l-5 9 6 11 4-2zM1360 384l-5 5 6 15 5-6zM1350 368l-5 2 6 18 4 1zM1340 352l-5 8 6 11 4-1zM1296 385l-5 4 5 15 5-6zM1285 369l-5 1 6 18 5 1zM1275 352l-5 9 5 11 5-2zM1231 385l-5 5 5 15 5-6zM1220 369l-5 2 5 18 6 1zM1209 353l-5 8 6 11 5-1zM1166 386l-5 4 5 16 5-7zM1155 369l-6 2 6 18 6 1zM1144 353l-6 9 6 11 5-2zM1101 386l-6 5 6 15 5-6zM1089 370l-5 2 5 18 6 1zM1078 353l-6 9 6 11 6-1zM1036 387l-6 4 5 16 6-7zM1024 370l-6 2 5 18 7 1zM1012 354l-6 9 6 11 6-2z"/><path fill="#f7821c" stroke="#f7821c" d="M1394 351l-5 18 6 2 5-11zM1383 368l-6 20 6-1 6-18zM1371 384l-5 14 6 6 5-16zM1329 352l-5 18 6 1 5-11zM1318 368l-6 21 6-1 6-18zM1306 385l-5 13 6 6 5-15zM1264 352l-6 18 6 2 6-11zM1253 369l-6 20 6-1 5-18zM1242 385l-6 14 6 6 5-16zM1198 353l-5 18 6 1 5-11zM1188 369l-6 21 6-1 5-18zM1177 386l-6 13 6 6 5-15zM1133 353l-6 18 6 2 5-11zM1122 370l-5 20 5-1 5-18zM1112 386l-6 14 6 6 5-16zM1067 354l-5 18 5 1 5-11zM1057 370l-5 21 4-1 6-18zM1046 387l-5 13 5 6 6-15zM1001 354l-5 18 4 2 6-11zM991 371l-5 20 4-1 6-18z"/><path fill="#fac896" stroke="#fac896" d="M1420 388l-4-1 6 14 4 2zM1410 369l-4 2 6 11 4 5zM1355 389l-4-1 6 13 4 3zM1345 370l-4 1 6 11 4 6zM1291 389l-5-1 5 14 5 2zM1280 370l-5 2 6 11 5 5zM1226 390l-6-1 6 13 5 3zM1215 371l-5 1 5 11 5 6zM1161 390l-6-1 6 14 5 3zM1149 371l-5 2 5 11 6 5zM1095 391l-6-1 6 13 6 3zM1084 372l-6 1 5 11 6 6zM1030 391l-7-1 6 14 6 3zM1018 372l-6 2 5 11 6 5z"/><path fill="#f89034" stroke="#f89034" d="M1400 360l-5 11 7 1 4-1zM1366 398l-5 6 6 7 5-7zM1335 360l-5 11 6 2 5-2zM1301 398l-5 6 6 7 5-7zM1270 361l-6 11 6 1 5-1zM1236 399l-5 6 6 7 5-7zM1204 361l-5 11 5 2 6-2zM1171 399l-5 7 6 6 5-7zM1138 362l-5 11 5 1 6-1zM1106 400l-5 6 5 7 6-7zM1072 362l-5 11 5 2 6-2zM1041 400l-6 7 5 6 6-7zM1006 363l-6 11 5 1 7-1z"/><path fill="#f7821c" stroke="#f7821c" d="M1389 369l-6 18 7-5 5-11zM1377 388l-5 16 6-3 5-14zM1324 370l-6 18 7-5 5-12zM1312 389l-5 15 6-2 5-14zM1258 370l-5 18 6-5 5-11zM1247 389l-5 16 6-3 5-14zM1193 371l-5 18 5-5 6-12zM1182 390l-5 15 5-2 6-14zM1127 371l-5 18 5-5 6-11zM1117 390l-5 16 5-3 5-14zM1062 372l-6 18 5-5 6-12zM1052 391l-6 15 5-2 5-14zM996 372l-6 18 5-5 5-11zM986 391l-5 16 4-3 5-14z"/><path fill="#fac896" stroke="#fac896" d="M1426 403l-4-2 6 6 4 3zM1406 371l-4 1 6 2 4 8zM1361 404l-4-3 6 6 4 4zM1351 388l-4-6 5 9 5 10zM1341 371l-5 2 6 1 5 8zM1296 404l-5-2 6 6 5 3zM1286 388l-5-5 6 8 4 11zM1275 372l-5 1 6 2 5 8zM1231 405l-5-3 6 6 5 4zM1220 389l-5-6 6 9 5 10zM1210 372l-6 2 6 1 5 8zM1166 406l-5-3 5 6 6 3zM1155 389l-6-5 6 9 6 10zM1144 373l-6 1 5 2 6 8zM1101 406l-6-3 5 7 6 3zM1089 390l-6-6 6 9 6 10zM1078 373l-6 2 5 1 6 8zM1035 407l-6-3 5 6 6 3zM1023 390l-6-5 5 9 7 10zM1012 374l-7 1 5 2 7 8z"/><path fill="#f7821c" stroke="#f7821c" d="M1395 371l-5 11 7-8 5-2zM1383 387l-5 14 7-10 5-9zM1372 404l-5 7 7-4 4-6zM1330 371l-5 12 6-8 5-2zM1318 388l-5 14 7-11 5-8zM1307 404l-5 7 6-3 5-6zM1264 372l-5 11 6-8 5-2zM1253 388l-5 14 6-10 5-9zM1242 405l-5 7 6-4 5-6zM1199 372l-6 12 6-8 5-2zM1188 389l-6 14 6-11 5-8zM1177 405l-5 7 5-3 5-6zM1133 373l-6 11 5-8 6-2zM1122 389l-5 14 5-10 5-9zM1112 406l-6 7 5-4 6-6zM1067 373l-6 12 5-8 6-2zM1056 390l-5 14 4-11 6-8zM1046 406l-6 7 5-3 6-6zM1000 374l-5 11 4-8 6-2zM990 390l-5 14 4-10 6-9zM981 407l-6 7 4-3 6-7zM1471 346l-5 6 7-3 5-7zM1458 363l-5 9 8-6 5-14zM1446 380l-5 2 7 2 5-12zM1403 346l-5 7 7-4 5-7zM1391 364l-5 8 7-5 5-14zM1379 381l-5 1 7 2 5-12zM1335 347l-5 6 7-3 5-7zM1323 364l-5 9 7-6 5-14zM1312 381l-5 2 6 2 5-12zM1267 347l-5 6 6-3 6-7zM1256 365l-6 8 7-5 5-15zM1244 382l-5 1 6 2 5-12zM1199 348l-5 6 6-3 5-7zM1188 365l-6 9 6-6 6-14zM1177 382l-6 2 6 2 5-12zM1131 348l-6 6 6-3 5-7zM1120 366l-6 9 6-6 5-15zM1109 383l-6 2 6 1 5-11zM1062 349l-6 6 5-3 7-7zM1052 366l-6 9 5-6 5-14zM1041 383l-6 2 5 2 6-12zM994 349l-6 6 4-3 6-7zM983 367l-6 9 5-6 6-15zM973 384l-6 2 4 1 6-11z"/><path fill="#fac896" stroke="#fac896" d="M1435 380l-4-8 6 12 4-2zM1414 346l-4-4 6 7 5 3zM1368 381l-5-8 6 11 5-2zM1357 364l-4-11 6 14 4 6zM1347 347l-5-4 6 7 5 3zM1300 381l-4-8 6 12 5-2zM1290 364l-5-11 6 15 5 5zM1279 347l-5-4 6 7 5 3zM1233 382l-5-8 6 11 5-2zM1222 365l-6-11 6 14 6 6zM1211 348l-6-4 6 7 5 3zM1166 382l-6-8 5 12 6-2zM1154 365l-6-11 6 15 6 5zM1142 348l-6-4 6 7 6 3zM1098 383l-7-8 6 11 6-1zM1086 366l-7-11 6 14 6 6zM1074 349l-6-4 5 7 6 3zM1030 383l-7-8 6 12 6-2zM1018 366l-7-11 5 15 7 5zM1005 349l-7-4 6 7 7 3zM962 384l-8-8 6 11 7-1zM949 367l-8-11 6 14 7 6zM936 350l-7-4 5 7 7 3z"/><path fill="#f7821c" stroke="#f7821c" d="M1466 352l-5 14 7-1 5-16zM1453 372l-5 12 7 1 6-19zM1398 353l-5 14 7-1 5-17zM1386 372l-5 12 6 2 6-19zM1330 353l-5 14 6-1 6-16zM1318 373l-5 12 6 1 6-19zM1262 353l-5 15 6-1 5-17zM1250 373l-5 12 6 2 6-19zM1194 354l-6 14 6-1 6-16zM1182 374l-5 12 6 1 5-19zM1125 354l-5 15 5-1 6-17zM1114 375l-5 11 5 2 6-19zM1056 355l-5 14 5-1 5-16zM1046 375l-6 12 5 1 6-19zM988 355l-6 15 4-1 6-17zM977 376l-6 11 5 2 6-19z"/><path fill="#f89034" stroke="#f89034" d="M1441 382l-4 2 6 11 5-11zM1410 342l-5 7 7 7 4-7zM1374 382l-5 2 6 12 6-12zM1342 343l-5 7 6 6 5-6zM1307 383l-5 2 6 11 5-11zM1274 343l-6 7 6 7 6-7zM1239 383l-5 2 5 12 6-12zM1205 344l-5 7 5 6 6-6zM1171 384l-6 2 6 11 6-11zM1136 344l-5 7 5 7 6-7zM1103 385l-6 1 6 12 6-12zM1068 345l-7 7 6 6 6-6zM1035 385l-6 2 5 11 6-11zM998 345l-6 7 5 7 7-7zM967 386l-7 1 5 12 6-12z"/><path fill="#fac896" stroke="#fac896" d="M1431 372l-4-5 5 18 5-1zM1421 352l-5-3 6 17 5 1zM1363 373l-4-6 6 19 4-2zM1353 353l-5-3 6 16 5 1zM1296 373l-5-5 5 18 6-1zM1285 353l-5-3 6 17 5 1zM1228 374l-6-6 6 19 6-2zM1216 354l-5-3 6 16 5 1zM1160 374l-6-5 6 18 5-1zM1148 354l-6-3 6 17 6 1zM1091 375l-6-6 6 19 6-2zM1079 355l-6-3 6 16 6 1zM1023 375l-7-5 6 19 7-2zM1011 355l-7-3 6 17 6 1zM954 376l-7-6 6 19 7-2zM941 356l-7-3 6 16 7 1z"/><path fill="#f7821c" stroke="#f7821c" d="M1461 366l-6 19 7 2 6-22zM1448 384l-5 11 6 9 6-19zM1405 349l-5 17 6 4 6-14zM1393 367l-6 19 7 1 6-21zM1381 384l-6 12 7 9 5-19zM1337 350l-6 16 7 4 5-14zM1325 367l-6 19 7 2 5-22zM1313 385l-5 11 6 9 5-19zM1268 350l-5 17 6 4 5-14zM1257 368l-6 19 6 1 6-21zM1245 385l-6 12 6 9 6-19zM1200 351l-6 16 6 5 5-15zM1188 368l-5 19 5 2 6-22zM1177 386l-6 11 6 9 6-19zM1131 351l-6 17 6 4 5-14zM1120 369l-6 19 5 2 6-22zM1109 386l-6 12 5 9 6-19zM1061 352l-5 16 5 5 6-15zM1051 369l-6 19 5 2 6-22zM1040 387l-6 11 6 9 5-19zM992 352l-6 17 6 4 5-14zM982 370l-6 19 5 2 5-22zM971 387l-6 12 6 9 5-19z"/><path fill="#fac896" stroke="#fac896" d="M1437 384l-5 1 6 19 5-9zM1427 367l-5-1 6 21 4-2zM1416 349l-4 7 6 14 4-4zM1369 384l-4 2 5 19 5-9zM1359 367l-5-1 6 22 5-2zM1348 350l-5 6 6 14 5-4zM1302 385l-6 1 6 19 6-9zM1291 368l-5-1 5 21 5-2zM1280 350l-6 7 6 14 6-4zM1234 385l-6 2 6 19 5-9zM1222 368l-5-1 6 22 5-2zM1211 351l-6 6 6 14 6-4zM1165 386l-5 1 6 19 5-9zM1154 369l-6-1 6 21 6-2zM1142 351l-6 7 6 14 6-4zM1097 386l-6 2 6 19 6-9zM1085 369l-6-1 6 22 6-2zM1073 352l-6 6 6 14 6-4zM1029 387l-7 2 6 18 6-9zM1016 370l-6-1 6 21 6-1zM1004 352l-7 7 6 14 7-4zM960 387l-7 2 6 19 6-9zM947 370l-7-1 6 22 7-2z"/><path fill="#f7821c" stroke="#f7821c" d="M1455 385l-6 19 7 4 6-21zM1400 366l-6 21 7 2 5-19zM1387 386l-5 19 6 4 6-22zM1331 366l-5 22 6 2 6-20zM1319 386l-5 19 6 5 6-22zM1263 367l-6 21 6 2 6-19zM1251 387l-6 19 6 4 6-22zM1194 367l-6 22 6 2 6-19zM1183 387l-6 19 6 5 5-22zM1125 368l-6 22 6 1 6-19zM1114 388l-6 19 6 4 5-21zM1056 368l-6 22 6 2 5-19zM1045 388l-5 19 5 5 5-22zM986 369l-5 22 5 1 6-19zM976 389l-5 19 5 4 5-21z"/><path fill="#f89034" stroke="#f89034" d="M1443 395l-5 9 6 14 5-14zM1412 356l-6 14 7 9 5-9zM1375 396l-5 9 6 14 6-14zM1343 356l-5 14 6 9 5-9zM1308 396l-6 9 6 15 6-15zM1274 357l-5 14 6 9 5-9zM1239 397l-5 9 6 14 5-14zM1205 357l-5 15 6 9 5-10zM1171 397l-5 9 5 15 6-15zM1136 358l-5 14 5 9 6-9zM1103 398l-6 9 6 14 5-14zM1067 358l-6 15 6 9 6-10zM1034 398l-6 9 6 15 6-15zM997 359l-5 14 5 9 6-9zM965 399l-6 9 6 14 6-14z"/><path fill="#fac896" stroke="#fac896" d="M1432 385l-4 2 5 22 5-5zM1422 366l-4 4 5 19 5-2zM1365 386l-5 2 5 21 5-4zM1354 366l-5 4 6 19 5-1zM1296 386l-5 2 6 22 5-5zM1286 367l-6 4 6 19 5-2zM1228 387l-5 2 6 21 5-4zM1217 367l-6 4 6 19 6-1zM1160 387l-6 2 6 22 6-5zM1148 368l-6 4 6 19 6-2zM1091 388l-6 2 6 21 6-4zM1079 368l-6 4 6 20 6-2zM1022 389l-6 1 6 22 6-5zM1010 369l-7 4 6 19 7-2zM953 389l-7 2 7 22 6-5z"/><path fill="#f7821c" stroke="#f7821c" d="M1449 404l-5 14 7 7 5-17zM1406 370l-5 19 6 2 6-12zM1394 387l-6 22 7-1 6-19zM1382 405l-6 14 7 6 5-16zM1338 370l-6 20 6 1 6-12zM1326 388l-6 22 6-1 6-19zM1314 405l-6 15 6 6 6-16zM1269 371l-6 19 6 2 6-12zM1257 388l-6 22 7-1 5-19zM1245 406l-5 14 6 6 5-16zM1200 372l-6 19 6 1 6-11zM1188 389l-5 22 6-1 5-19zM1177 406l-6 15 6 6 6-16zM1131 372l-6 19 6 2 5-12zM1119 390l-5 21 5-1 6-19zM1108 407l-5 14 5 7 6-17zM1061 373l-5 19 5 1 6-11zM1050 390l-5 22 5-1 6-19zM1040 407l-6 15 5 6 6-16zM992 373l-6 19 5 2 6-12zM981 391l-5 21 5 0 5-20zM971 408l-6 14 5 7 6-17z"/><path fill="#fac896" stroke="#fac896" d="M1438 404l-5 5 6 16 5-7zM1428 387l-5 2 6 19 4 1zM1418 370l-5 9 6 12 4-2zM1370 405l-5 4 6 16 5-6zM1360 388l-5 1 6 19 4 1zM1349 370l-5 9 6 12 5-2zM1302 405l-5 5 6 16 5-6zM1291 388l-5 2 6 19 5 1zM1280 371l-5 9 6 12 5-2zM1234 406l-5 4 5 17 6-7zM1223 389l-6 1 6 20 6 0zM1211 371l-5 10 6 11 5-2zM1166 406l-6 5 6 16 5-6zM1154 389l-6 2 6 19 6 1zM1142 372l-6 9 6 12 6-2zM1097 407l-6 4 6 17 6-7zM1085 390l-6 2 6 19 6 0zM1073 372l-6 10 6 11 6-1zM1028 407l-6 5 6 16 6-6zM1016 390l-7 2 6 19 7 1zM1003 373l-6 9 6 12 6-2zM959 408l-6 5 6 16 6-7z"/><path fill="#f89034" stroke="#f89034" d="M1444 418l-5 7 7 7 5-7zM1413 379l-6 12 7 1 5-1zM1376 419l-5 6 7 8 5-8zM1344 379l-6 12 7 2 5-2zM1308 420l-5 6 6 7 5-7zM1275 380l-6 12 7 2 5-2zM1240 420l-6 7 6 7 6-8zM1206 381l-6 11 6 2 6-2zM1171 421l-5 6 6 7 5-7zM1136 381l-5 12 5 2 6-2zM1103 421l-6 7 5 7 6-7zM1067 382l-6 11 5 2 7-2zM1034 422l-6 6 5 8 6-8zM997 382l-6 12 5 2 7-2zM965 422l-6 7 5 7 6-7z"/><path fill="#fac896" stroke="#fac896" d="M1433 409l-4-1 6 14 4 3zM1423 389l-4 2 6 11 4 6zM1365 409l-4-1 6 15 4 2zM1355 389l-5 2 6 12 5 5zM1297 410l-5-1 6 14 5 3zM1286 390l-5 2 6 12 5 5zM1229 410l-6 0 6 14 5 3zM1217 390l-5 2 6 12 5 6zM1160 411l-6-1 6 15 6 2zM1148 391l-6 2 6 12 6 5zM1091 411l-6 0 6 14 6 3zM1079 392l-6 1 5 12 7 6zM1022 412l-7-1 6 15 7 2zM1009 392l-6 2 5 12 7 5z"/><path fill="#f7821c" stroke="#f7821c" d="M1401 389l-6 19 7-5 5-12zM1388 409l-5 16 6-2 6-15zM1332 390l-6 19 7-6 5-12zM1320 410l-6 16 7-3 5-14zM1263 390l-5 19 6-5 5-12zM1251 410l-5 16 6-2 6-15zM1194 391l-5 19 5-6 6-12zM1183 411l-6 16 6-3 6-14zM1125 391l-6 19 6-5 6-12zM1114 411l-6 17 6-3 5-15zM1056 392l-6 19 5-6 6-12zM1045 412l-6 16 5-2 6-15zM986 392l-5 20 4-6 6-12zM976 412l-6 17 5-3 6-14z"/><path fill="#fac896" stroke="#fac896" d="M1439 425l-4-3 7 7 4 3zM1419 391l-5 1 7 2 4 8zM1371 425l-4-2 6 6 5 4zM1361 408l-5-5 6 9 5 11zM1350 391l-5 2 7 2 4 8zM1303 426l-5-3 6 7 5 3zM1292 409l-5-5 6 9 5 10zM1281 392l-5 2 6 1 5 9zM1234 427l-5-3 6 6 5 4zM1223 410l-5-6 6 9 5 11zM1212 392l-6 2 6 2 6 8zM1166 427l-6-2 6 6 6 3zM1154 410l-6-5 6 9 6 11zM1142 393l-6 2 6 1 6 9zM1097 428l-6-3 5 7 6 3zM1085 411l-7-6 6 9 7 11zM1073 393l-7 2 6 2 6 8zM1028 428l-7-2 6 6 6 4zM1015 411l-7-5 6 9 7 11zM1003 394l-7 2 5 2 7 8z"/><path fill="#f7821c" stroke="#f7821c" d="M1407 391l-5 12 7-9 5-2zM1395 408l-6 15 8-11 5-9zM1383 425l-5 8 6-4 5-6zM1338 391l-5 12 7-8 5-2zM1326 409l-5 14 7-11 5-9zM1314 426l-5 7 7-3 5-7zM1269 392l-5 12 6-9 6-1zM1258 409l-6 15 6-11 6-9zM1246 426l-6 8 7-4 5-6zM1200 392l-6 12 6-8 6-2zM1189 410l-6 14 6-10 5-10zM1177 427l-5 7 5-3 6-7zM1131 393l-6 12 5-9 6-1zM1119 410l-5 15 5-11 6-9zM1108 428l-6 7 6-3 6-7zM1061 393l-6 12 5-8 6-2zM1050 411l-6 15 5-11 6-10zM1039 428l-6 8 5-4 6-6zM991 394l-6 12 4-8 7-2zM981 412l-6 14 4-11 6-9zM970 429l-6 7 4-3 7-7z"/><path fill="#fac896" stroke="#fac896" d="M1435 422l-4-11 7 5 4 13z"/><path fill="#f7821c" stroke="#f7821c" d="M975 426l-7 7 4-13 7-5z"/><path fill="#fac896" stroke="#fac896" d="M1431 411l-3-15 7 2 3 18z"/><path fill="#f7821c" stroke="#f7821c" d="M979 415l-7 5 4-19 7-2z"/><path fill="#fac896" stroke="#fac896" d="M1428 396l-4-16 8-1 3 19z"/><path fill="#f7821c" stroke="#f7821c" d="M983 399l-7 2 4-19 7 1z"/><path fill="#fac896" stroke="#fac896" d="M1424 380l-3-11 7-4 4 14z"/><path fill="#f7821c" stroke="#f7821c" d="M987 383l-7-1 4-13 7 3z"/><path fill="#f89034" stroke="#f89034" d="M1421 369l-5-3 8-4 4 3zM991 372l-7-3 5-4 7 4z"/><path fill="#f7821c" stroke="#f7821c" d="M1416 366l-5 6 7-3 6-7zM1403 384l-5 9 7-6 6-15zM1390 402l-5 2 7 1 6-12zM1344 366l-5 7 7-3 6-8zM1332 384l-6 10 7-6 6-15zM1319 402l-5 2 7 2 5-12zM1273 367l-6 6 7-3 5-7zM1260 385l-5 9 6-6 6-15zM1248 403l-5 2 6 2 6-13zM1201 367l-6 7 6-3 6-8zM1189 385l-6 10 6-6 6-15zM1177 403l-6 2 6 2 6-12zM1129 368l-7 6 6-3 6-7zM1117 386l-6 9 6-5 5-16zM1106 404l-7 2 6 2 6-13zM1056 368l-6 7 5-3 7-8zM1045 387l-6 9 5-6 6-15zM1034 405l-7 2 6 1 6-12z"/><path fill="#fac896" stroke="#fac896" d="M1378 402l-4-9 6 13 5-2zM1368 384l-5-11 6 15 5 5zM1356 366l-4-4 6 7 5 4zM1308 402l-5-8 6 12 5-2zM1296 385l-5-12 6 15 6 6zM1285 367l-6-4 7 7 5 3zM1236 403l-5-8 6 12 6-2zM1225 385l-6-11 6 15 6 6zM1213 367l-6-4 6 8 6 3zM1165 404l-6-9 6 12 6-2zM1153 386l-6-12 6 15 6 6zM1141 368l-7-4 6 7 7 3zM1094 404l-7-8 6 12 6-2zM1081 386l-7-11 6 15 7 6zM1068 368l-6-4 5 8 7 3zM1022 405l-7-9 6 12 6-1zM1009 387l-8-12 6 15 8 6zM996 369l-7-4 5 7 7 3z"/><path fill="#f7821c" stroke="#f7821c" d="M1411 372l-6 15 8-1 5-17zM1398 393l-6 12 7 2 6-20zM1339 373l-6 15 7-1 6-17zM1326 394l-5 12 6 2 6-20zM1267 373l-6 15 7-1 6-17zM1255 394l-6 13 6 1 6-20zM1195 374l-6 15 6-1 6-17zM1183 395l-6 12 6 2 6-20zM1122 374l-5 16 5-1 6-18zM1111 395l-6 13 6 2 6-20zM1050 375l-6 15 5-1 6-17zM1039 396l-6 12 5 2 6-20z"/><path fill="#f89034" stroke="#f89034" d="M1385 404l-5 2 7 12 5-13zM1352 362l-6 8 7 6 5-7zM1314 404l-5 2 6 12 6-12zM1279 363l-5 7 6 7 6-7zM1243 405l-6 2 6 12 6-12zM1207 363l-6 8 6 6 6-6zM1171 405l-6 2 6 13 6-13zM1134 364l-6 7 6 7 6-7zM1099 406l-6 2 6 12 6-12zM1062 364l-7 8 6 6 6-6zM1027 407l-6 1 5 13 7-13z"/><path fill="#fac896" stroke="#fac896" d="M1374 393l-5-5 6 19 5-1zM1363 373l-5-4 6 18 5 1zM1303 394l-6-6 6 20 6-2zM1291 373l-5-3 6 17 5 1zM1231 395l-6-6 6 20 6-2zM1219 374l-6-3 6 17 6 1zM1159 395l-6-6 6 20 6-2zM1147 374l-7-3 7 17 6 1zM1087 396l-7-6 6 20 7-2zM1074 375l-7-3 7 17 6 1zM1015 396l-8-6 7 20 7-2zM1001 375l-7-3 6 17 7 1z"/><path fill="#f7821c" stroke="#f7821c" d="M1405 387l-6 20 7 2 7-23zM1392 405l-5 13 6 9 6-20zM1346 370l-6 17 7 4 6-15zM1333 388l-6 20 7 2 6-23zM1321 406l-6 12 7 10 5-20zM1274 370l-6 17 6 5 6-15zM1261 388l-6 20 7 2 6-23zM1249 407l-6 12 7 9 5-20zM1201 371l-6 17 6 5 6-16zM1189 389l-6 20 6 2 6-23zM1177 407l-6 13 6 9 6-20zM1128 371l-6 18 6 4 6-15zM1117 390l-6 20 5 2 6-23zM1105 408l-6 12 6 10 6-20zM1055 372l-6 17 6 5 6-16zM1044 390l-6 20 5 2 6-23zM1033 408l-7 13 6 9 6-20z"/><path fill="#fac896" stroke="#fac896" d="M1380 406l-5 1 6 20 6-9zM1369 388l-5-1 6 22 5-2zM1358 369l-5 7 6 15 5-4zM1309 406l-6 2 7 20 5-10zM1297 388l-5-1 6 23 5-2zM1286 370l-6 7 6 15 6-5zM1237 407l-6 2 7 20 5-10zM1225 389l-6-1 7 23 5-2zM1213 371l-6 6 7 16 5-5zM1165 407l-6 2 6 20 6-9zM1153 389l-6-1 6 23 6-2zM1140 371l-6 7 6 15 7-5zM1093 408l-7 2 7 20 6-10zM1080 390l-6-1 6 23 6-2zM1067 372l-6 6 6 16 7-5zM1021 408l-7 2 6 20 6-9zM1007 390l-7-1 7 23 7-2z"/><path fill="#f7821c" stroke="#f7821c" d="M1399 407l-6 20 7 5 6-23zM1340 387l-6 23 7 2 6-21zM1327 408l-5 20 6 5 6-23zM1268 387l-6 23 6 2 6-20zM1255 408l-5 20 6 5 6-23zM1195 388l-6 23 6 2 6-20zM1183 409l-6 20 6 5 6-23zM1122 389l-6 23 6 1 6-20zM1111 410l-6 20 6 5 5-23zM1049 389l-6 23 6 2 6-20zM1038 410l-6 20 6 5 5-23z"/><path fill="#f89034" stroke="#f89034" d="M1387 418l-6 9 7 15 5-15zM1353 376l-6 15 7 10 5-10zM1315 418l-5 10 6 15 6-15zM1280 377l-6 15 7 10 5-10zM1243 419l-5 10 6 15 6-16zM1207 377l-6 16 7 9 6-9zM1171 420l-6 9 6 15 6-15zM1134 378l-6 15 6 10 6-10zM1099 420l-6 10 6 15 6-15zM1061 378l-6 16 6 9 6-9zM1026 421l-6 9 6 16 6-16z"/><path fill="#fac896" stroke="#fac896" d="M1375 407l-5 2 6 23 5-5zM1364 387l-5 4 6 20 5-2zM1303 408l-5 2 6 23 6-5zM1292 387l-6 5 7 20 5-2zM1231 409l-5 2 6 22 6-4zM1219 388l-5 5 6 20 6-2zM1159 409l-6 2 6 23 6-5zM1147 388l-7 5 7 20 6-2zM1086 410l-6 2 6 23 7-5zM1074 389l-7 5 6 20 7-2zM1014 410l-7 2 6 23 7-5z"/><path fill="#f7821c" stroke="#f7821c" d="M1393 427l-5 15 6 7 6-17zM1347 391l-6 21 7 2 6-13zM1334 410l-6 23 7-1 6-20zM1322 428l-6 15 6 7 6-17zM1274 392l-6 20 7 2 6-12zM1262 410l-6 23 6-1 6-20zM1250 428l-6 16 6 7 6-18zM1201 393l-6 20 7 2 6-13zM1189 411l-6 23 7-1 5-20zM1177 429l-6 15 7 7 5-17zM1128 393l-6 20 6 2 6-12zM1116 412l-5 23 5-1 6-21zM1105 430l-6 15 6 7 6-17zM1055 394l-6 20 6 2 6-13zM1043 412l-5 23 5-1 6-20zM1032 430l-6 16 6 7 6-18z"/><path fill="#fac896" stroke="#fac896" d="M1381 427l-5 5 6 17 6-7zM1370 409l-5 2 6 20 5 1zM1359 391l-5 10 6 12 5-2zM1310 428l-6 5 6 17 6-7zM1298 410l-5 2 6 20 5 1zM1286 392l-5 10 6 12 6-2zM1238 429l-6 4 6 18 6-7zM1226 411l-6 2 6 20 6 0zM1214 393l-6 9 6 13 6-2zM1165 429l-6 5 6 17 6-7zM1153 411l-6 2 6 20 6 1zM1140 393l-6 10 6 12 7-2zM1093 430l-7 5 7 17 6-7zM1080 412l-7 2 7 20 6 1zM1067 394l-6 9 6 13 6-2zM1020 430l-7 5 7 18 6-7z"/><path fill="#f89034" stroke="#f89034" d="M1388 442l-6 7 7 8 5-8zM1354 401l-6 13 7 1 5-2zM1316 443l-6 7 7 8 5-8zM1281 402l-6 12 7 2 5-2zM1244 444l-6 7 6 7 6-7zM1208 402l-6 13 6 2 6-2zM1171 444l-6 7 7 8 6-8zM1134 403l-6 12 6 2 6-2zM1099 445l-6 7 6 8 6-8zM1061 403l-6 13 5 2 7-2zM1026 446l-6 7 5 7 7-7z"/><path fill="#fac896" stroke="#fac896" d="M1376 432l-5-1 7 16 4 2zM1365 411l-5 2 7 13 4 5zM1304 433l-5-1 6 15 5 3zM1293 412l-6 2 6 13 6 5zM1232 433l-6 0 6 15 6 3zM1220 413l-6 2 6 12 6 6zM1159 434l-6-1 6 16 6 2zM1147 413l-7 2 7 13 6 5zM1086 435l-6-1 6 15 7 3zM1073 414l-6 2 6 12 7 6z"/><path fill="#f7821c" stroke="#f7821c" d="M1341 412l-6 20 7-6 6-12zM1328 433l-6 17 7-3 6-15zM1268 412l-6 20 7-5 6-13zM1256 433l-6 18 7-3 5-16zM1195 413l-5 20 6-6 6-12zM1183 434l-5 17 6-3 6-15zM1122 413l-6 21 6-6 6-13zM1111 435l-6 17 5-3 6-15zM1049 414l-6 20 5-5 7-13zM1038 435l-6 18 5-3 6-16z"/><path fill="#fac896" stroke="#fac896" d="M1382 449l-4-2 6 7 5 3zM1371 431l-4-5 6 10 5 11zM1360 413l-5 2 7 2 5 9zM1310 450l-5-3 7 7 5 4zM1299 432l-6-5 7 9 5 11zM1287 414l-5 2 6 2 5 9zM1238 451l-6-3 7 7 5 3zM1226 433l-6-6 7 10 5 11zM1214 415l-6 2 6 2 6 8zM1165 451l-6-2 6 7 7 3zM1153 433l-6-5 6 10 6 11zM1140 415l-6 2 6 2 7 9zM1093 452l-7-3 6 7 7 4zM1080 434l-7-6 6 10 7 11zM1067 416l-7 2 6 2 7 8z"/><path fill="#f7821c" stroke="#f7821c" d="M1348 414l-6 12 8-9 5-2zM1335 432l-6 15 8-11 5-10zM1322 450l-5 8 7-4 5-7zM1275 414l-6 13 7-9 6-2zM1262 432l-5 16 6-11 6-10zM1250 451l-6 7 7-3 6-7zM1202 415l-6 12 6-8 6-2zM1190 433l-6 15 6-11 6-10zM1178 451l-6 8 6-4 6-7zM1128 415l-6 13 6-9 6-2zM1116 434l-6 15 6-11 6-10zM1105 452l-6 8 5-4 6-7zM1055 416l-7 13 5-9 7-2zM1043 434l-6 16 5-11 6-10zM1032 453l-7 7 5-3 7-7z"/><path fill="#fac896" stroke="#fac896" d="M1378 447l-5-11 7 4 4 14z"/><path fill="#f7821c" stroke="#f7821c" d="M1037 450l-7 7 5-13 7-5z"/><path fill="#fac896" stroke="#fac896" d="M1373 436l-4-17 7 2 4 19z"/><path fill="#f7821c" stroke="#f7821c" d="M1042 439l-7 5 5-20 7-2z"/><path fill="#fac896" stroke="#fac896" d="M1369 419l-4-16 7-1 4 19z"/><path fill="#f7821c" stroke="#f7821c" d="M1047 422l-7 2 4-20 7 1z"/><path fill="#fac896" stroke="#fac896" d="M1365 403l-5-12 7-3 5 14z"/><path fill="#f7821c" stroke="#f7821c" d="M1051 405l-7-1 5-14 8 3z"/><path fill="#f89034" stroke="#f89034" d="M1360 391l-5-3 7-4 5 4zM1057 393l-8-3 6-4 7 4z"/><path fill="#f7821c" stroke="#f7821c" d="M1355 388l-6 7 8-3 5-8zM1341 407l-5 10 7-6 6-16zM1328 426l-5 2 7 2 6-13zM1279 388l-6 7 7-3 6-8zM1266 408l-6 10 7-6 6-17zM1253 427l-6 2 7 2 6-13zM1203 389l-7 7 7-3 6-8zM1190 408l-6 10 6-6 6-16zM1177 427l-6 2 6 2 7-13zM1126 390l-6 7 6-4 6-8zM1114 409l-7 10 6-6 7-16zM1102 428l-7 2 6 2 6-13z"/><path fill="#fac896" stroke="#fac896" d="M1316 426l-6-9 7 13 6-2zM1304 407l-6-12 7 16 5 6zM1291 388l-5-4 7 8 5 3zM1240 427l-6-9 7 13 6-2zM1228 408l-6-12 6 16 6 6zM1215 389l-6-4 7 8 6 3zM1165 427l-7-9 7 13 6-2zM1152 408l-7-11 7 16 6 5zM1139 389l-7-4 6 8 7 4zM1089 428l-7-9 6 13 7-2zM1076 409l-8-12 7 16 7 6zM1062 390l-7-4 6 8 7 3z"/><path fill="#f7821c" stroke="#f7821c" d="M1349 395l-6 16 7-1 7-18zM1336 417l-6 13 7 2 6-21zM1273 395l-6 17 7-1 6-19zM1260 418l-6 13 6 2 7-21zM1196 396l-6 16 7-1 6-18zM1184 418l-7 13 7 2 6-21zM1120 397l-7 16 6-1 7-19zM1107 419l-6 13 6 2 6-21z"/><path fill="#f89034" stroke="#f89034" d="M1323 428l-6 2 7 13 6-13zM1286 384l-6 8 7 7 6-7zM1247 429l-6 2 7 13 6-13zM1209 385l-6 8 6 7 7-7zM1171 429l-6 2 6 14 6-14zM1132 385l-6 8 6 8 6-8zM1095 430l-7 2 7 13 6-13z"/><path fill="#fac896" stroke="#fac896" d="M1310 417l-5-6 6 21 6-2zM1298 395l-5-3 6 18 6 1zM1234 418l-6-6 7 21 6-2zM1222 396l-6-3 6 18 6 1zM1158 418l-6-5 6 21 7-3zM1145 397l-7-4 7 19 7 1zM1082 419l-7-6 6 21 7-2zM1068 397l-7-3 7 18 7 1z"/><path fill="#f7821c" stroke="#f7821c" d="M1343 411l-6 21 7 2 6-24zM1330 430l-6 13 7 10 6-21zM1280 392l-6 19 7 5 6-17zM1267 412l-7 21 7 2 7-24zM1254 431l-6 13 6 10 6-21zM1203 393l-6 18 6 5 6-16zM1190 412l-6 21 6 3 7-25zM1177 431l-6 14 7 10 6-22zM1126 393l-7 19 7 5 6-16zM1113 413l-6 21 6 2 6-24zM1101 432l-6 13 6 10 6-21z"/><path fill="#fac896" stroke="#fac896" d="M1317 430l-6 2 7 21 6-10zM1305 411l-6-1 7 25 5-3zM1293 392l-6 7 6 16 6-5zM1241 431l-6 2 6 21 7-10zM1228 412l-6-1 7 24 6-2zM1216 393l-7 7 7 16 6-5zM1165 431l-7 3 7 21 6-10zM1152 413l-7-1 7 24 6-2zM1138 393l-6 8 7 16 6-5zM1088 432l-7 2 7 22 7-11zM1075 413l-7-1 6 25 7-3z"/><path fill="#f7821c" stroke="#f7821c" d="M1337 432l-6 21 7 5 6-24zM1274 411l-7 24 7 2 7-21zM1260 433l-6 21 7 5 6-24zM1197 411l-7 25 7 2 6-22zM1184 433l-6 22 6 5 6-24zM1119 412l-6 24 6 2 7-21zM1107 434l-6 21 6 6 6-25z"/><path fill="#f89034" stroke="#f89034" d="M1324 443l-6 10 6 16 7-16zM1287 399l-6 17 6 10 6-11zM1248 444l-7 10 7 16 6-16zM1209 400l-6 16 7 10 6-10zM1171 445l-6 10 6 16 7-16zM1132 401l-6 16 6 10 7-10zM1095 445l-7 11 6 16 7-17z"/><path fill="#fac896" stroke="#fac896" d="M1311 432l-5 3 6 24 6-6zM1299 410l-6 5 7 22 6-2zM1235 433l-6 2 6 24 6-5zM1222 411l-6 5 7 21 6-2zM1158 434l-6 2 6 24 7-5zM1145 412l-6 5 6 21 7-2zM1081 434l-7 3 7 24 7-5z"/><path fill="#f7821c" stroke="#f7821c" d="M1331 453l-7 16 7 8 7-19zM1281 416l-7 21 7 2 6-13zM1267 435l-6 24 7-1 6-21zM1254 454l-6 16 7 7 6-18zM1203 416l-6 22 6 2 7-14zM1190 436l-6 24 7-1 6-21zM1178 455l-7 16 7 7 6-18zM1126 417l-7 21 7 3 6-14zM1113 436l-6 25 6-1 6-22zM1101 455l-7 17 7 7 6-18z"/><path fill="#fac896" stroke="#fac896" d="M1318 453l-6 6 7 18 5-8zM1306 435l-6 2 6 21 6 1zM1293 415l-6 11 7 13 6-2zM1241 454l-6 5 7 19 6-8zM1229 435l-6 2 6 22 6 0zM1216 416l-6 10 6 14 7-3zM1165 455l-7 5 7 18 6-7zM1152 436l-7 2 7 22 6 0zM1139 417l-7 10 7 13 6-2zM1088 456l-7 5 7 18 6-7z"/><path fill="#f89034" stroke="#f89034" d="M1324 469l-5 8 7 8 5-8zM1287 426l-6 13 7 2 6-2zM1248 470l-6 8 7 8 6-9zM1210 426l-7 14 7 2 6-2zM1171 471l-6 7 6 9 7-9zM1132 427l-6 14 6 2 7-3zM1094 472l-6 7 6 8 7-8z"/><path fill="#fac896" stroke="#fac896" d="M1312 459l-6-1 7 16 6 3zM1300 437l-6 2 7 13 5 6zM1235 459l-6 0 7 16 6 3zM1223 437l-7 3 7 13 6 6zM1158 460l-6 0 6 16 7 2zM1145 438l-6 2 6 14 7 6z"/><path fill="#f7821c" stroke="#f7821c" d="M1274 437l-6 21 7-5 6-14zM1261 459l-6 18 7-2 6-17zM1197 438l-6 21 6-6 6-13zM1184 460l-6 18 6-3 7-16zM1119 438l-6 22 6-6 7-13zM1107 461l-6 18 6-3 6-16z"/><path fill="#fac896" stroke="#fac896" d="M1319 477l-6-3 7 8 6 3zM1306 458l-5-6 7 11 5 11zM1294 439l-6 2 7 3 6 8zM1242 478l-6-3 7 7 6 4zM1229 459l-6-6 7 10 6 12zM1216 440l-6 2 7 2 6 9zM1165 478l-7-2 7 7 6 4zM1152 460l-7-6 7 10 6 12zM1139 440l-7 3 6 2 7 9z"/><path fill="#f7821c" stroke="#f7821c" d="M1281 439l-6 14 7-9 6-3zM1268 458l-6 17 7-12 6-10zM1255 477l-6 9 7-4 6-7zM1203 440l-6 13 7-9 6-2zM1191 459l-7 16 7-11 6-11zM1178 478l-7 9 7-4 6-8zM1126 441l-7 13 6-9 7-2zM1113 460l-6 16 5-11 7-11zM1101 479l-7 8 6-3 7-8z"/><path fill="#fac896" stroke="#fac896" d="M1313 474l-5-11 7 5 5 14z"/><path fill="#f7821c" stroke="#f7821c" d="M1107 476l-7 8 6-14 6-5z"/><path fill="#fac896" stroke="#fac896" d="M1308 463l-5-17 7 2 5 20z"/><path fill="#f7821c" stroke="#f7821c" d="M1112 465l-6 5 5-20 7-3z"/><path fill="#fac896" stroke="#fac896" d="M1303 446l-6-18 8-1 5 21z"/><path fill="#f7821c" stroke="#f7821c" d="M1118 447l-7 3 6-21 7 1z"/><path fill="#fac896" stroke="#fac896" d="M1297 428l-5-12 7-3 6 14z"/><path fill="#f7821c" stroke="#f7821c" d="M1124 430l-7-1 6-15 7 3z"/><path fill="#f89034" stroke="#f89034" d="M1292 416l-6-3 7-4 6 4zM1130 417l-7-3 7-4 7 4z"/><path fill="#f7821c" stroke="#f7821c" d="M1286 413l-7 8 8-4 6-8zM1272 433l-7 11 8-6 6-17zM1258 453l-6 3 7 2 6-14zM1204 414l-6 7 7-3 6-9zM1191 434l-7 11 7-7 7-17zM1178 454l-7 2 7 3 6-14z"/><path fill="#fac896" stroke="#fac896" d="M1245 453l-7-9 7 14 7-2zM1231 433l-6-12 7 17 6 6zM1218 413l-7-4 7 9 7 3zM1164 454l-7-9 7 14 7-3zM1151 434l-8-12 7 17 7 6zM1137 414l-7-4 6 8 7 4z"/><path fill="#f7821c" stroke="#f7821c" d="M1279 421l-6 17 7-1 7-20zM1265 444l-6 14 7 2 7-22zM1198 421l-7 17 7 0 7-20zM1184 445l-6 14 7 2 6-23z"/><path fill="#f89034" stroke="#f89034" d="M1252 456l-7 2 7 14 7-14zM1211 409l-6 9 7 8 6-8zM1171 456l-7 3 7 14 7-14z"/><path fill="#fac896" stroke="#fac896" d="M1238 444l-6-6 7 22 6-2zM1225 421l-7-3 8 19 6 1zM1157 445l-7-6 7 22 7-2zM1143 422l-7-4 7 20 7 1z"/><path fill="#f7821c" stroke="#f7821c" d="M1273 438l-7 22 7 3 7-26zM1259 458l-7 14 7 11 7-23zM1205 418l-7 20 7 5 7-17zM1191 438l-6 23 6 2 7-25zM1178 459l-7 14 7 11 7-23z"/><path fill="#fac896" stroke="#fac896" d="M1245 458l-6 2 7 23 6-11zM1232 438l-6-1 6 26 7-3zM1218 418l-6 8 7 17 7-6zM1164 459l-7 2 7 23 7-11zM1150 439l-7-1 7 26 7-3z"/><path fill="#f7821c" stroke="#f7821c" d="M1266 460l-7 23 8 5 6-25zM1198 438l-7 25 7 3 7-23zM1185 461l-7 23 7 5 6-26z"/><path fill="#f89034" stroke="#f89034" d="M1252 472l-6 11 7 17 6-17zM1212 426l-7 17 7 11 7-11zM1171 473l-7 11 7 17 7-17z"/><path fill="#fac896" stroke="#fac896" d="M1239 460l-7 3 7 26 7-6zM1226 437l-7 6 7 23 6-3zM1157 461l-7 3 8 25 6-5z"/><path fill="#f7821c" stroke="#f7821c" d="M1259 483l-6 17 7 8 7-20zM1205 443l-7 23 8 2 6-14zM1191 463l-6 26 7 0 6-23zM1178 484l-7 17 7 8 7-20z"/><path fill="#fac896" stroke="#fac896" d="M1246 483l-7 6 7 19 7-8zM1232 463l-6 3 7 22 6 1zM1219 443l-7 11 7 14 7-2zM1164 484l-6 5 7 20 6-8z"/><path fill="#f89034" stroke="#f89034" d="M1253 500l-7 8 8 9 6-9zM1212 454l-6 14 7 3 6-3zM1171 501l-6 8 6 9 7-9z"/><path fill="#fac896" stroke="#fac896" d="M1239 489l-6-1 7 17 6 3zM1226 466l-7 2 7 14 7 6z"/><path fill="#f7821c" stroke="#f7821c" d="M1198 466l-6 23 7-6 7-15zM1185 489l-7 20 7-3 7-17z"/><path fill="#fac896" stroke="#fac896" d="M1246 508l-6-3 7 8 7 4zM1233 488l-7-6 8 11 6 12zM1219 468l-6 3 7 2 6 9z"/><path fill="#f7821c" stroke="#f7821c" d="M1206 468l-7 15 7-10 7-2zM1192 489l-7 17 7-12 7-11zM1178 509l-7 9 7-4 7-8z"/><path fill="#fac896" stroke="#fac896" d="M1240 505l-6-12 7 6 6 14z"/><path fill="#f7821c" stroke="#f7821c" d="M1185 506l-7 8 7-14 7-6z"/><path fill="#fac896" stroke="#fac896" d="M1234 493l-7-17 7 2 7 21z"/><path fill="#f7821c" stroke="#f7821c" d="M1192 494l-7 6 7-21 7-3z"/><path fill="#fac896" stroke="#fac896" d="M1227 476l-7-18 8-1 6 21z"/><path fill="#f7821c" stroke="#f7821c" d="M1199 476l-7 3 7-22 7 1z"/><path fill="#fac896" stroke="#fac896" d="M1220 458l-6-13 7-4 7 16z"/><path fill="#f7821c" stroke="#f7821c" d="M1206 458l-7-1 8-16 7 4z"/><path fill="#f89034" stroke="#f89034" d="M1214 445l-7-4 7-4 7 4z"/></g>
<line x1="599.5" y1="86" x2="458.1" y2="105.6" stroke="#c4c4c4" stroke-width="1.1"/>
<path d="M453.1,106.2 L457.7,103.3 L458.4,107.8 Z" fill="#c4c4c4"/>
<text x="445.8" y="111.5" font-family="'Liberation Serif', serif" font-style="italic" font-size="14" fill="#c4c4c4" text-anchor="middle">x</text>
<line x1="599.5" y1="86" x2="745.5" y2="104.4" stroke="#c4c4c4" stroke-width="1.1"/>
<path d="M750.5,105 L745.2,106.6 L745.8,102.1 Z" fill="#c4c4c4"/>
<text x="759.6" y="109.5" font-family="'Liberation Serif', serif" font-style="italic" font-size="14" fill="#c4c4c4" text-anchor="middle">y</text>
<line x1="601.5" y1="87" x2="601.5" y2="61" stroke="#c4c4c4" stroke-width="1.1"/><path d="M601.5,57 L599.3,62 L603.7,62 Z" fill="#c4c4c4"/>
<g transform="scale(0.5)" stroke-width="1.2" stroke-linejoin="round"><path fill="#bae42a" stroke="#bae42a" d="M1199 138l-5 8 10 5z"/><path fill="#4ec066" stroke="#4ec066" d="M1194 146l-5 13 5-10z"/><path fill="#aede30" stroke="#aede30" d="M1194 146l0 3 5-6z"/><path fill="#24a884" stroke="#24a884" d="M1209 161l-5-11 5 12z"/><path fill="#248a90" stroke="#248a90" d="M1209 161l0 1 5 10z"/><path fill="#bade24" stroke="#bade24" d="M1199 143l-5 6 5-7z"/><path fill="#1e908a" stroke="#1e908a" d="M1189 159l-4 12 5-11z"/><path fill="#3cba72" stroke="#3cba72" d="M1189 159l1 1 4-11z"/><path fill="#90d842" stroke="#90d842" d="M1204 150l-5-8 6 9z"/><path fill="#42c072" stroke="#42c072" d="M1204 150l1 1 4 11z"/><path fill="#36608a" stroke="#36608a" d="M1185 171l-5 14 5-13z"/><path fill="#24848a" stroke="#24848a" d="M1185 171l0 1 5-12z"/><path fill="#24908a" stroke="#24908a" d="M1190 160l-5 12 5-11z"/><path fill="#3cba72" stroke="#3cba72" d="M1190 160l0 1 5-13z"/><path fill="#42367e" stroke="#42367e" d="M1180 185l-5 13 5-13z"/><path fill="#3c548a" stroke="#3c548a" d="M1180 185l0 0 5-13z"/><path fill="#248490" stroke="#248490" d="M1214 171l-4-9 5 9z"/><path fill="#306c90" stroke="#306c90" d="M1214 171l1 0 5 13z"/><path fill="#b4de2a" stroke="#b4de2a" d="M1205 151l-5-10 5 11zM1195 148l0 4 5-11z"/><path fill="#48c06c" stroke="#48c06c" d="M1205 151l0 1 5 10z"/><path fill="#54c066" stroke="#54c066" d="M1195 148l-5 13 5-9z"/><path fill="#30668a" stroke="#30668a" d="M1185 172l-5 13 5-12z"/><path fill="#2a7e8a" stroke="#2a7e8a" d="M1185 172l0 1 5-12z"/><path fill="#482472" stroke="#482472" d="M1175 198l-5 15 5-14z"/><path fill="#42307e" stroke="#42307e" d="M1175 198l0 1 5-14z"/><path fill="#365a8a" stroke="#365a8a" d="M1220 184l-5-13 5 15z"/><path fill="#424284" stroke="#424284" d="M1220 184l0 2 5 13z"/><path fill="#bade2a" stroke="#bade2a" d="M1200 141l-5 11 5-7z"/><path fill="#c0e42a" stroke="#c0e42a" d="M1200 141l0 4 5 7z"/><path fill="#1e908a" stroke="#1e908a" d="M1190 161l-5 12 5-12z"/><path fill="#36b478" stroke="#36b478" d="M1190 161l0 0 5-9z"/><path fill="#42367e" stroke="#42367e" d="M1180 185l-5 14 5-12z"/><path fill="#3c548a" stroke="#3c548a" d="M1180 185l0 2 5-14z"/><path fill="#248490" stroke="#248490" d="M1215 171l-5-10 5 13z"/><path fill="#366090" stroke="#366090" d="M1215 171l0 3 5 12z"/><path fill="#a2de36" stroke="#a2de36" d="M1205 152l-5-7 5 8z"/><path fill="#5ac666" stroke="#5ac666" d="M1205 152l0 1 5 8z"/><path fill="#4ec06c" stroke="#4ec06c" d="M1195 152l-5 9 5-7z"/><path fill="#8ad248" stroke="#8ad248" d="M1195 152l0 2 5-9z"/><path fill="#30668a" stroke="#30668a" d="M1185 173l-5 14 5-13z"/><path fill="#247e8a" stroke="#247e8a" d="M1185 173l0 1 5-13z"/><path fill="#3cba78" stroke="#3cba78" d="M1210 161l-5-8 5 9z"/><path fill="#24908a" stroke="#24908a" d="M1210 161l0 1 5 12z"/><path fill="#96de42" stroke="#96de42" d="M1200 145l-5 9 10-1z"/><path fill="#248a8a" stroke="#248a8a" d="M1190 161l-5 13 5-10z"/><path fill="#30ae7e" stroke="#30ae7e" d="M1190 161l0 3 5-10z"/><path fill="#bade2a" stroke="#bade2a" d="M1205 153l-5-8 5 9z"/><path fill="#60cc60" stroke="#60cc60" d="M1205 153l0 1 5 8z"/><path fill="#aede36" stroke="#aede36" d="M1200 145l-5 7 10 2z"/><path fill="#b4de30" stroke="#b4de30" d="M1226 151l-5-5 5 6zM1195 152l-5-7 5 10z"/><path fill="#bade2a" stroke="#bade2a" d="M1226 151l0 1 5-7z"/><path fill="#9cd83c" stroke="#9cd83c" d="M1205 154l-5-7 6 9z"/><path fill="#90d842" stroke="#90d842" d="M1205 154l1 2 5-6z"/><path fill="#aede30" stroke="#aede30" d="M1195 152l0 3 5-8z"/><path fill="#c6e424" stroke="#c6e424" d="M1252 147l5 8 5-8zM1180 148l5 6 5-9z"/><path fill="#cce424" stroke="#cce424" d="M1241 146l6 9 5-8z"/><path fill="#bae42a" stroke="#bae42a" d="M1231 145l5 9 5-8zM1211 150l5 5 5-9zM1159 147l5 8 6-7z"/><path fill="#b4e430" stroke="#b4e430" d="M1170 148l5 8 5-8z"/><path fill="#c0e42a" stroke="#c0e42a" d="M1149 147l5 9 5-9z"/><path fill="#aee430" stroke="#aee430" d="M1139 145l5 9 5-7z"/><path fill="#bade24" stroke="#bade24" d="M1262 147l-5 8 6-9z"/><path fill="#a2de3c" stroke="#a2de3c" d="M1252 147l-5 8 10 0zM1211 150l-5 6 10-1zM1180 148l-5 8 10-2z"/><path fill="#bae430" stroke="#bae430" d="M1241 146l-5 8 11 1zM1231 145l-5 7 10 2z"/><path fill="#cce424" stroke="#cce424" d="M1221 146l-5 9 10-3z"/><path fill="#9cde3c" stroke="#9cde3c" d="M1200 147l-5 8 11 1z"/><path fill="#b4e430" stroke="#b4e430" d="M1190 145l-5 9 10 1zM1149 147l-5 7 10 2z"/><path fill="#a8de36" stroke="#a8de36" d="M1170 148l-6 7 11 1z"/><path fill="#96de42" stroke="#96de42" d="M1159 147l-5 9 10-1z"/><path fill="#ccde24" stroke="#ccde24" d="M1139 145l-6 9 5-7z"/><path fill="#bade2a" stroke="#bade2a" d="M1139 145l-1 2 6 7z"/><path fill="#4ec66c" stroke="#4ec66c" d="M1247 155l5 11 5-11z"/><path fill="#5acc66" stroke="#5acc66" d="M1236 154l6 11 5-10zM1206 156l5 9 5-10zM1164 155l6 10 5-9zM1144 154l5 12 5-10z"/><path fill="#66cc60" stroke="#66cc60" d="M1226 152l5 14 5-12zM1185 154l5 12 5-11z"/><path fill="#60cc66" stroke="#60cc66" d="M1216 155l5 11 5-14z"/><path fill="#54c66c" stroke="#54c66c" d="M1175 156l5 9 5-11zM1154 156l5 9 5-10z"/><path fill="#54c066" stroke="#54c066" d="M1257 155l-5 11 6-8z"/><path fill="#90d242" stroke="#90d242" d="M1257 155l1 3 5-12z"/><path fill="#36ba7e" stroke="#36ba7e" d="M1247 155l-5 10 10 1zM1236 154l-5 12 11-1z"/><path fill="#3cba78" stroke="#3cba78" d="M1226 152l-5 14 10 0zM1185 154l-5 11 10 1z"/><path fill="#30b47e" stroke="#30b47e" d="M1216 155l-5 10 10 1zM1154 156l-5 10 10-1z"/><path fill="#36ba78" stroke="#36ba78" d="M1175 156l-5 9 10 0z"/><path fill="#3cc078" stroke="#3cc078" d="M1164 155l-5 10 11 0z"/><path fill="#aede30" stroke="#aede30" d="M1144 154l-6-7 6 10z"/><path fill="#5ac666" stroke="#5ac666" d="M1144 154l0 3 5 9z"/><path fill="#72cc54" stroke="#72cc54" d="M1133 154l-5 11 5-11z"/><path fill="#c6de24" stroke="#c6de24" d="M1133 154l0 0 5-7z"/><path fill="#249690" stroke="#249690" d="M1242 165l5 14 5-13zM1231 166l6 13 5-14zM1221 166l5 12 5-12zM1180 165l5 13 5-12zM1159 165l6 13 5-13z"/><path fill="#249090" stroke="#249090" d="M1211 165l5 13 5-12z"/><path fill="#249c8a" stroke="#249c8a" d="M1170 165l5 13 5-13zM1149 166l5 13 5-14z"/><path fill="#c0de24" stroke="#c0de24" d="M1263 146l-5 12 5-10z"/><path fill="#bae42a" stroke="#bae42a" d="M1263 146l0 2 5 7z"/><path fill="#1e908a" stroke="#1e908a" d="M1252 166l-5 13 6-12zM1128 165l-5 16 5-15z"/><path fill="#2aae7e" stroke="#2aae7e" d="M1252 166l1 1 5-9z"/><path fill="#2a8490" stroke="#2a8490" d="M1242 165l-5 14 10 0zM1231 166l-5 12 11 1zM1180 165l-5 13 10 0zM1170 165l-5 13 10 0z"/><path fill="#248a90" stroke="#248a90" d="M1221 166l-5 12 10 0zM1159 165l-5 14 11-1z"/><path fill="#3cba78" stroke="#3cba78" d="M1211 165l-5-10 5 11z"/><path fill="#24908a" stroke="#24908a" d="M1211 165l0 1 5 12z"/><path fill="#248a8a" stroke="#248a8a" d="M1190 166l-5 12 5-10z"/><path fill="#36b478" stroke="#36b478" d="M1190 166l0 2 5-14z"/><path fill="#30b47e" stroke="#30b47e" d="M1149 166l-5-9 5 11z"/><path fill="#24968a" stroke="#24968a" d="M1149 166l0 2 5 11z"/><path fill="#aede30" stroke="#aede30" d="M1138 147l-5 7 5-7z"/><path fill="#bade2a" stroke="#bade2a" d="M1138 147l0 0 6 10z"/><path fill="#54c066" stroke="#54c066" d="M1128 165l0 1 5-12z"/><path fill="#366690" stroke="#366690" d="M1237 179l5 14 5-14zM1175 178l5 15 5-15z"/><path fill="#366090" stroke="#366090" d="M1226 178l6 14 5-13zM1216 178l5 14 5-14zM1165 178l5 14 5-14zM1154 179l6 14 5-15z"/><path fill="#48c06c" stroke="#48c06c" d="M1258 158l-5 9 5-11z"/><path fill="#36608a" stroke="#36608a" d="M1247 179l-5 14 6-12z"/><path fill="#247e8a" stroke="#247e8a" d="M1247 179l1 2 5-14z"/><path fill="#3c5490" stroke="#3c5490" d="M1237 179l-5 13 10 1z"/><path fill="#365a90" stroke="#365a90" d="M1226 178l-5 14 11 0z"/><path fill="#248a90" stroke="#248a90" d="M1216 178l-5-12 6 14z"/><path fill="#366090" stroke="#366090" d="M1216 178l1 2 4 12zM1165 178l-5 15 10-1zM1154 179l0 3 6 11z"/><path fill="#aede30" stroke="#aede30" d="M1206 155l-5-6 5 8zM1195 154l1 3 5-8zM1144 157l-6-10 5 10z"/><path fill="#6ccc5a" stroke="#6ccc5a" d="M1206 155l0 2 5 9z"/><path fill="#54c066" stroke="#54c066" d="M1195 154l-5 14 6-11z"/><path fill="#365a8a" stroke="#365a8a" d="M1185 178l-5 15 5-13z"/><path fill="#248a8a" stroke="#248a8a" d="M1185 178l0 2 5-12z"/><path fill="#3c548a" stroke="#3c548a" d="M1175 178l-5 14 10 1z"/><path fill="#2a7e90" stroke="#2a7e90" d="M1154 179l-5-11 5 14z"/><path fill="#4ec66c" stroke="#4ec66c" d="M1144 157l-1 0 6 11z"/><path fill="#5ac660" stroke="#5ac660" d="M1133 154l-5 12 5-9z"/><path fill="#bade24" stroke="#bade24" d="M1133 154l0 3 5-10z"/><path fill="#48367e" stroke="#48367e" d="M1232 192l5 15 5-14z"/><path fill="#42488a" stroke="#42488a" d="M1221 192l6 15 5-15z"/><path fill="#423c84" stroke="#423c84" d="M1170 192l5 15 5-14zM1160 193l5 14 5-15z"/><path fill="#3c548a" stroke="#3c548a" d="M1283 191l-4-13 5 16z"/><path fill="#423c84" stroke="#423c84" d="M1283 191l1 3 4 13zM1221 192l1 2 5 13z"/><path fill="#c0de24" stroke="#c0de24" d="M1263 148l-5 8 6-6zM1138 147l-5 10 5-8z"/><path fill="#b4de30" stroke="#b4de30" d="M1263 148l1 2 5 5z"/><path fill="#248a8a" stroke="#248a8a" d="M1253 167l-5 14 5-14z"/><path fill="#36b478" stroke="#36b478" d="M1253 167l0 0 5-11zM1211 166l-5-9 5 12zM1190 168l1 1 5-12z"/><path fill="#42367e" stroke="#42367e" d="M1242 193l-5 14 6-12zM1160 193l-1 0 6 14z"/><path fill="#3c4e8a" stroke="#3c4e8a" d="M1242 193l1 2 5-14zM1221 192l-4-12 5 14z"/><path fill="#48307e" stroke="#48307e" d="M1232 192l-5 15 10 0zM1170 192l-5 15 10 0z"/><path fill="#249c8a" stroke="#249c8a" d="M1211 166l0 3 6 11zM1128 166l-5 13 5-10z"/><path fill="#aede30" stroke="#aede30" d="M1201 149l-5 8 5-7z"/><path fill="#bade2a" stroke="#bade2a" d="M1201 149l0 1 5 7z"/><path fill="#1e908a" stroke="#1e908a" d="M1190 168l-5 12 6-11z"/><path fill="#423c7e" stroke="#423c7e" d="M1180 193l-5 14 5-13zM1118 192l-5 15 5-14z"/><path fill="#365a8a" stroke="#365a8a" d="M1180 193l0 1 5-14zM1160 193l-6-11 5 11zM1118 192l0 1 5-14z"/><path fill="#36ba78" stroke="#36ba78" d="M1149 168l-6-11 6 12z"/><path fill="#24908a" stroke="#24908a" d="M1149 168l0 1 5 13z"/><path fill="#c0e424" stroke="#c0e424" d="M1138 147l0 2 5 8z"/><path fill="#3cb478" stroke="#3cb478" d="M1128 166l0 3 5-12z"/><path fill="#482478" stroke="#482478" d="M1227 207l5 14 5-14z"/><path fill="#482a78" stroke="#482a78" d="M1165 207l5 15 5-15z"/><path fill="#248490" stroke="#248490" d="M1279 178l-5-11 6 14zM1217 180l-6-11 6 12z"/><path fill="#306690" stroke="#306690" d="M1279 178l1 3 4 13zM1217 180l0 1 5 13z"/><path fill="#c0e424" stroke="#c0e424" d="M1269 155l-5-5 6 7z"/><path fill="#6ccc5a" stroke="#6ccc5a" d="M1269 155l1 2 4 10z"/><path fill="#54c066" stroke="#54c066" d="M1258 156l-5 11 6-8z"/><path fill="#b4de2a" stroke="#b4de2a" d="M1258 156l1 3 5-9z"/><path fill="#365a8a" stroke="#365a8a" d="M1248 181l-5 14 5-12z"/><path fill="#247e8a" stroke="#247e8a" d="M1248 181l0 2 5-16zM1185 180l0 2 6-13z"/><path fill="#481e72" stroke="#481e72" d="M1237 207l-5 14 6-13z"/><path fill="#42367e" stroke="#42367e" d="M1237 207l1 1 5-13zM1175 207l0 2 5-15z"/><path fill="#96d842" stroke="#96d842" d="M1206 157l-5-7 5 10z"/><path fill="#42c072" stroke="#42c072" d="M1206 157l0 3 5 9z"/><path fill="#4ec066" stroke="#4ec066" d="M1196 157l-5 12 5-10z"/><path fill="#9cd83c" stroke="#9cd83c" d="M1196 157l0 2 5-9z"/><path fill="#30608a" stroke="#30608a" d="M1185 180l-5 14 5-12z"/><path fill="#482a78" stroke="#482a78" d="M1175 207l-5 15 5-13zM1165 207l0 1 5 14zM1113 207l-5 15 5-14zM1113 207l0 1 5-15z"/><path fill="#483078" stroke="#483078" d="M1165 207l-6-14 6 15z"/><path fill="#bade2a" stroke="#bade2a" d="M1143 157l-5-8 5 10z"/><path fill="#5ac660" stroke="#5ac660" d="M1143 157l0 2 6 10z"/><path fill="#30668a" stroke="#30668a" d="M1123 179l-5 14 4-12z"/><path fill="#2a7e8a" stroke="#2a7e8a" d="M1123 179l-1 2 6-12z"/><path fill="#3cba78" stroke="#3cba78" d="M1274 167l-4-10 5 12z"/><path fill="#24968a" stroke="#24968a" d="M1274 167l1 2 5 12z"/><path fill="#bade2a" stroke="#bade2a" d="M1264 150l-5 9 6-7zM1201 150l0 3 5 7z"/><path fill="#c6e424" stroke="#c6e424" d="M1264 150l1 2 5 5zM1138 149l-6 8 6-4z"/><path fill="#248a8a" stroke="#248a8a" d="M1253 167l-5 16 6-13z"/><path fill="#36b478" stroke="#36b478" d="M1253 167l1 3 5-11zM1149 169l-6-10 5 12z"/><path fill="#423c7e" stroke="#423c7e" d="M1243 195l-5 13 5-13zM1180 194l-5 15 5-14z"/><path fill="#365a8a" stroke="#365a8a" d="M1243 195l0 0 5-12zM1222 194l-5-13 5 14z"/><path fill="#423c84" stroke="#423c84" d="M1222 194l0 1 5 12z"/><path fill="#30b47e" stroke="#30b47e" d="M1211 169l-5-9 6 10z"/><path fill="#24908a" stroke="#24908a" d="M1211 169l1 1 5 11zM1149 169l-1 2 6 10z"/><path fill="#c0de24" stroke="#c0de24" d="M1201 150l-5 9 5-6z"/><path fill="#1e968a" stroke="#1e968a" d="M1191 169l-6 13 6-12z"/><path fill="#30ae7e" stroke="#30ae7e" d="M1191 169l0 1 5-11z"/><path fill="#3c548a" stroke="#3c548a" d="M1180 194l0 1 5-13z"/><path fill="#36548a" stroke="#36548a" d="M1159 193l-5-12 5 13zM1118 193l-1 2 5-14z"/><path fill="#424284" stroke="#424284" d="M1159 193l0 1 6 14zM1118 193l-5 15 4-13z"/><path fill="#c0e42a" stroke="#c0e42a" d="M1138 149l0 4 5 6z"/><path fill="#1e908a" stroke="#1e908a" d="M1128 169l-6 12 5-12z"/><path fill="#3cba72" stroke="#3cba72" d="M1128 169l-1 0 5-12z"/><path fill="#96d842" stroke="#96d842" d="M1270 157l-5-5 5 8z"/><path fill="#54c66c" stroke="#54c66c" d="M1270 157l0 3 5 9z"/><path fill="#54c066" stroke="#54c066" d="M1259 159l-5 11 6-12z"/><path fill="#aed830" stroke="#aed830" d="M1259 159l1-1 5-6z"/><path fill="#30608a" stroke="#30608a" d="M1248 183l-5 12 6-12z"/><path fill="#247e8a" stroke="#247e8a" d="M1248 183l1 0 5-13zM1122 181l0 3 5-15z"/><path fill="#248490" stroke="#248490" d="M1217 181l-5-11 5 12z"/><path fill="#306c90" stroke="#306c90" d="M1217 181l0 1 5 13z"/><path fill="#60c660" stroke="#60c660" d="M1196 159l-5 11 5-11z"/><path fill="#a2d836" stroke="#a2d836" d="M1196 159l0 0 5-6z"/><path fill="#2a7e90" stroke="#2a7e90" d="M1154 181l-6-10 6 11z"/><path fill="#366690" stroke="#366690" d="M1154 181l0 1 5 12z"/><path fill="#a2de3c" stroke="#a2de3c" d="M1143 159l-5-6 5 6z"/><path fill="#5ac666" stroke="#5ac666" d="M1143 159l0 0 5 12z"/><path fill="#54c666" stroke="#54c666" d="M1132 157l-5 12 5-9z"/><path fill="#b4de30" stroke="#b4de30" d="M1132 157l0 3 6-7z"/><path fill="#30668a" stroke="#30668a" d="M1122 181l-5 14 5-11z"/><path fill="#ccde24" stroke="#ccde24" d="M1265 152l-5 6 6-6z"/><path fill="#248a8a" stroke="#248a8a" d="M1254 170l-5 13 6-11z"/><path fill="#36b478" stroke="#36b478" d="M1254 170l1 2 5-14zM1127 169l0 2 5-11z"/><path fill="#30b47e" stroke="#30b47e" d="M1212 170l-5-11 5 12z"/><path fill="#24968a" stroke="#24968a" d="M1212 170l0 1 5 11z"/><path fill="#249c84" stroke="#249c84" d="M1191 170l-5 11 5-11z"/><path fill="#3cba72" stroke="#3cba72" d="M1191 170l0 0 5-11z"/><path fill="#3cba78" stroke="#3cba78" d="M1148 171l-5-12 5 12z"/><path fill="#24908a" stroke="#24908a" d="M1148 171l0 0 6 11z"/><path fill="#1e908a" stroke="#1e908a" d="M1127 169l-5 15 5-13z"/><path fill="#54c666" stroke="#54c666" d="M1260 158l-5 14 6-11zM1132 160l-5 11 5-9z"/><path fill="#a8d836" stroke="#a8d836" d="M1260 158l1 3 5-9z"/><path fill="#b4de2a" stroke="#b4de2a" d="M1207 159l-6-9 6 11z"/><path fill="#4ec06c" stroke="#4ec06c" d="M1207 159l0 2 5 10z"/><path fill="#4ec066" stroke="#4ec066" d="M1196 159l-5 11 5-10z"/><path fill="#ccde24" stroke="#ccde24" d="M1196 159l0 1 5-10z"/><path fill="#b4de30" stroke="#b4de30" d="M1143 159l-6-7 6 9z"/><path fill="#5ac666" stroke="#5ac666" d="M1143 159l0 2 5 10z"/><path fill="#9cd836" stroke="#9cd836" d="M1132 160l0 2 5-10z"/><path fill="#aede36" stroke="#aede36" d="M1266 152l-5 9 10-1z"/><path fill="#bae42a" stroke="#bae42a" d="M1201 150l-5 10 11 1z"/><path fill="#a8de36" stroke="#a8de36" d="M1137 152l-5 10 11-1z"/><path fill="#b4de2a" stroke="#b4de2a" d="M1293 160l-5-7 6 9zM1293 160l1 2 5-7zM1271 160l1 0 5-7zM1207 161l0 0 6-7zM1196 160l0 1 6-7zM1143 161l-1 1 6-7z"/><path fill="#bade2a" stroke="#bade2a" d="M1261 161l-5-7 5 8zM1175 159l0 4 5-10zM1143 161l-6-7 5 8z"/><path fill="#aede30" stroke="#aede30" d="M1261 161l0 1 5-7zM1132 162l-6-8 6 9z"/><path fill="#b4de30" stroke="#b4de30" d="M1207 161l-5-7 5 7zM1196 160l-5-7 5 8z"/><path fill="#c0e42a" stroke="#c0e42a" d="M1175 159l-6-6 6 10z"/><path fill="#a2d836" stroke="#a2d836" d="M1132 162l0 1 5-9z"/><path fill="#aede36" stroke="#aede36" d="M1110 162l-5-6 5 7z"/><path fill="#a8d830" stroke="#a8d830" d="M1110 162l0 1 5-11z"/><path fill="#d8ea24" stroke="#d8ea24" d="M1320 155l6 5 5-6z"/><path fill="#c0e42a" stroke="#c0e42a" d="M1309 154l6 9 5-8zM1245 154l5 9 6-9z"/><path fill="#cce424" stroke="#cce424" d="M1299 155l5 8 5-9zM1072 153l5 9 6-8z"/><path fill="#b4e430" stroke="#b4e430" d="M1277 153l6 10 5-10z"/><path fill="#bae42a" stroke="#bae42a" d="M1234 153l6 10 5-9zM1180 153l6 11 5-11zM1115 152l6 8 5-6z"/><path fill="#c6e424" stroke="#c6e424" d="M1213 154l5 9 5-8zM1083 154l5 7 6-7z"/><path fill="#a8de36" stroke="#a8de36" d="M1159 156l5 6 5-9z"/><path fill="#c6e42a" stroke="#c6e42a" d="M1148 155l5 7 6-6z"/><path fill="#d2ea24" stroke="#d2ea24" d="M1094 154l5 9 6-7z"/><path fill="#bade24" stroke="#bade24" d="M1331 154l-5 6 6-6zM1072 153l-6 9 5-8z"/><path fill="#90d848" stroke="#90d848" d="M1320 155l-5 8 11-3z"/><path fill="#b4e430" stroke="#b4e430" d="M1309 154l-5 9 11 0zM1191 153l-5 11 10-3zM1148 155l-6 7 11 0zM1094 154l-6 7 11 2z"/><path fill="#a2de3c" stroke="#a2de3c" d="M1299 155l-5 7 10 1zM1180 153l-5 10 11 1z"/><path fill="#bae430" stroke="#bae430" d="M1288 153l-5 10 11-1zM1223 155l-5 8 11-2zM1202 154l-6 7 11 0z"/><path fill="#c0e42a" stroke="#c0e42a" d="M1277 153l-5 7 11 3z"/><path fill="#bae42a" stroke="#bae42a" d="M1266 155l-5 7 11-2zM1169 153l-5 9 11 1zM1137 154l-5 9 10-1z"/><path fill="#aede30" stroke="#aede30" d="M1256 154l-6 9 11-1zM1072 153l-1 1 6 8z"/><path fill="#a8de36" stroke="#a8de36" d="M1245 154l-5 9 10 0z"/><path fill="#d2ea24" stroke="#d2ea24" d="M1234 153l-5 8 11 2z"/><path fill="#aede36" stroke="#aede36" d="M1213 154l-6 7 11 2zM1159 156l-6 6 11 0z"/><path fill="#cce424" stroke="#cce424" d="M1126 154l-5 6 11 3z"/><path fill="#c6e424" stroke="#c6e424" d="M1115 152l-5 11 11-3zM1083 154l-6 8 11-1z"/><path fill="#96de42" stroke="#96de42" d="M1105 156l-6 7 11 0z"/><path fill="#66cc60" stroke="#66cc60" d="M1315 163l6 9 5-12zM1121 160l5 15 6-12zM1110 163l5 11 6-14z"/><path fill="#48c672" stroke="#48c672" d="M1304 163l6 13 5-13zM1229 161l5 13 6-11z"/><path fill="#54c66c" stroke="#54c66c" d="M1294 162l5 11 5-10zM1283 163l5 11 6-12zM1207 161l6 14 5-12zM1186 164l5 9 5-12zM1142 162l6 13 5-13z"/><path fill="#6cd260" stroke="#6cd260" d="M1272 160l6 12 5-9z"/><path fill="#60cc60" stroke="#60cc60" d="M1250 163l6 12 5-13zM1240 163l5 11 5-11z"/><path fill="#60cc66" stroke="#60cc66" d="M1218 163l6 12 5-14z"/><path fill="#42c072" stroke="#42c072" d="M1175 163l5 14 6-13z"/><path fill="#5acc66" stroke="#5acc66" d="M1164 162l6 11 5-10zM1099 163l5 11 6-11z"/><path fill="#4ec66c" stroke="#4ec66c" d="M1153 162l6 11 5-11zM1088 161l6 14 5-12z"/><path fill="#78d854" stroke="#78d854" d="M1077 162l6 10 5-11z"/><path fill="#60c660" stroke="#60c660" d="M1326 160l-5 12 6-9zM1142 162l0 1 6 12z"/><path fill="#aede30" stroke="#aede30" d="M1326 160l1 3 5-9z"/><path fill="#3cc078" stroke="#3cc078" d="M1315 163l-5 13 11-4zM1121 160l-6 14 11 1z"/><path fill="#36ba78" stroke="#36ba78" d="M1304 163l-5 10 11 3zM1283 163l-5 9 10 2zM1153 162l-5 13 11-2z"/><path fill="#3cba78" stroke="#3cba78" d="M1294 162l-6 12 11-1zM1229 161l-5 14 10-1zM1099 163l-5 12 10-1z"/><path fill="#a8de36" stroke="#a8de36" d="M1272 160l-5-5 6 9zM1207 161l-5-6 6 9z"/><path fill="#60cc60" stroke="#60cc60" d="M1272 160l1 4 5 8z"/><path fill="#48c06c" stroke="#48c06c" d="M1261 162l-5 13 6-10z"/><path fill="#a8d830" stroke="#a8d830" d="M1261 162l1 3 5-10zM1132 163l-1 2 6-8z"/><path fill="#2aae84" stroke="#2aae84" d="M1250 163l-5 11 11 1zM1240 163l-6 11 11 0z"/><path fill="#30b47e" stroke="#30b47e" d="M1218 163l-5 12 11 0zM1164 162l-5 11 11 0zM1110 163l-6 11 11 0z"/><path fill="#4ec66c" stroke="#4ec66c" d="M1207 161l1 3 5 11z"/><path fill="#5ac660" stroke="#5ac660" d="M1196 161l-5 12 6-10z"/><path fill="#c0de24" stroke="#c0de24" d="M1196 161l1 2 5-8z"/><path fill="#2ab484" stroke="#2ab484" d="M1186 164l-6 13 11-4z"/><path fill="#36ba7e" stroke="#36ba7e" d="M1175 163l-5 10 10 4z"/><path fill="#b4de2a" stroke="#b4de2a" d="M1142 162l-5-5 5 6zM1066 162l-1 2 6-10z"/><path fill="#54c666" stroke="#54c666" d="M1132 163l-6 12 5-10z"/><path fill="#48c672" stroke="#48c672" d="M1088 161l-5 11 11 3z"/><path fill="#b4de30" stroke="#b4de30" d="M1077 162l-6-8 5 11z"/><path fill="#5ac666" stroke="#5ac666" d="M1077 162l-1 3 7 7z"/><path fill="#66c65a" stroke="#66c65a" d="M1066 162l-5 13 4-11z"/><path fill="#249690" stroke="#249690" d="M1310 176l6 11 5-15zM1288 174l6 14 5-15zM1245 174l6 13 5-12zM1224 175l5 13 5-14zM1180 177l6 11 5-15zM1170 173l5 15 5-11zM1104 174l6 14 5-14z"/><path fill="#249c8a" stroke="#249c8a" d="M1299 173l6 13 5-10zM1278 172l5 17 5-15zM1159 173l5 15 6-15zM1094 175l5 12 5-13zM1083 172l5 16 6-13z"/><path fill="#249090" stroke="#249090" d="M1234 174l6 15 5-15zM1213 175l5 14 6-14zM1148 175l5 13 6-15zM1115 174l6 15 5-14z"/><path fill="#c6de24" stroke="#c6de24" d="M1332 154l-5 9 7-7z"/><path fill="#cce424" stroke="#cce424" d="M1332 154l2 2 4 7zM1137 157l-1-1 6 7z"/><path fill="#1e968a" stroke="#1e968a" d="M1321 172l-5 15 6-11z"/><path fill="#36b478" stroke="#36b478" d="M1321 172l1 4 5-13zM1191 173l0 3 6-13zM1148 175l-6-12 6 12z"/><path fill="#2a8490" stroke="#2a8490" d="M1310 176l-5 10 11 1zM1245 174l-5 15 11-2zM1159 173l-6 15 11 0zM1094 175l-6 13 11-1z"/><path fill="#248a90" stroke="#248a90" d="M1299 173l-5 15 11-2zM1213 175l0 1 5 13z"/><path fill="#2a7e90" stroke="#2a7e90" d="M1288 174l-5 15 11-1zM1170 173l-6 15 11 0zM1115 174l-5 14 11 1zM1104 174l-5 13 11 1z"/><path fill="#36ba78" stroke="#36ba78" d="M1278 172l-5-8 6 12z"/><path fill="#24908a" stroke="#24908a" d="M1278 172l1 4 4 13z"/><path fill="#bade24" stroke="#bade24" d="M1267 155l-5 10 6-7z"/><path fill="#d2e424" stroke="#d2e424" d="M1267 155l1 3 5 6z"/><path fill="#248a8a" stroke="#248a8a" d="M1256 175l-5 12 6-10zM1191 173l-5 15 5-12zM1126 175l-5 14 5-12z"/><path fill="#30ae7e" stroke="#30ae7e" d="M1256 175l1 2 5-12z"/><path fill="#248490" stroke="#248490" d="M1234 174l-5 14 11 1z"/><path fill="#2a7890" stroke="#2a7890" d="M1224 175l-6 14 11-1zM1180 177l-5 11 11 0z"/><path fill="#30b47e" stroke="#30b47e" d="M1213 175l-5-11 5 12z"/><path fill="#aede36" stroke="#aede36" d="M1202 155l-5 8 11 1z"/><path fill="#24968a" stroke="#24968a" d="M1148 175l0 0 5 13zM1083 172l-1 5 6 11z"/><path fill="#2aae7e" stroke="#2aae7e" d="M1126 175l0 2 5-12z"/><path fill="#3cba78" stroke="#3cba78" d="M1083 172l-7-7 6 12z"/><path fill="#a8de30" stroke="#a8de30" d="M1071 154l-6 10 5-5z"/><path fill="#b4de30" stroke="#b4de30" d="M1071 154l-1 5 6 6z"/><path fill="#306690" stroke="#306690" d="M1305 186l5 16 6-15z"/><path fill="#366690" stroke="#366690" d="M1294 188l6 14 5-16zM1240 189l6 12 5-14zM1164 188l6 15 5-15z"/><path fill="#3c5a90" stroke="#3c5a90" d="M1283 189l6 13 5-14zM1229 188l6 15 5-14z"/><path fill="#365a90" stroke="#365a90" d="M1218 189l6 13 5-14zM1099 187l6 16 5-15z"/><path fill="#366090" stroke="#366090" d="M1175 188l6 15 5-15zM1153 188l6 14 5-14zM1110 188l5 13 6-12zM1088 188l6 15 5-16z"/><path fill="#248a90" stroke="#248a90" d="M1348 185l-4-11 5 15z"/><path fill="#366090" stroke="#366090" d="M1348 185l1 4 5 12zM1283 189l1 2 5 11zM1153 188l0 3 6 11z"/><path fill="#4ec066" stroke="#4ec066" d="M1327 163l-5 13 7-11z"/><path fill="#a8d836" stroke="#a8d836" d="M1327 163l2 2 5-9z"/><path fill="#30608a" stroke="#30608a" d="M1316 187l-6 15 7-12zM1251 187l-5 14 6-13z"/><path fill="#247e8a" stroke="#247e8a" d="M1316 187l1 3 5-14zM1251 187l1 1 5-11z"/><path fill="#3c548a" stroke="#3c548a" d="M1305 186l-5 16 10 0z"/><path fill="#3c5a90" stroke="#3c5a90" d="M1294 188l-5 14 11 0zM1099 187l-5 16 11 0z"/><path fill="#a8de36" stroke="#a8de36" d="M1273 164l-5-6 6 7z"/><path fill="#54c066" stroke="#54c066" d="M1262 165l-5 12 6-13z"/><path fill="#96d83c" stroke="#96d83c" d="M1262 165l1-1 5-6z"/><path fill="#3c5490" stroke="#3c5490" d="M1240 189l-5 14 11-2zM1229 188l-5 14 11 1zM1164 188l-5 14 11 1z"/><path fill="#2a7e90" stroke="#2a7e90" d="M1218 189l-5-13 6 14zM1153 188l-5-13 5 16zM1088 188l-6-11 6 14z"/><path fill="#306690" stroke="#306690" d="M1218 189l1 1 5 12z"/><path fill="#b4de2a" stroke="#b4de2a" d="M1208 164l-6-7 6 8z"/><path fill="#54c666" stroke="#54c666" d="M1208 164l0 1 5 11z"/><path fill="#4ec06c" stroke="#4ec06c" d="M1197 163l-6 13 6-10z"/><path fill="#aede30" stroke="#aede30" d="M1197 163l0 3 5-9z"/><path fill="#36608a" stroke="#36608a" d="M1186 188l-5 15 5-13z"/><path fill="#2a7e8a" stroke="#2a7e8a" d="M1186 188l0 2 5-14z"/><path fill="#3c4e8a" stroke="#3c4e8a" d="M1175 188l-5 15 11 0z"/><path fill="#c0e424" stroke="#c0e424" d="M1142 163l-6-7 6 8z"/><path fill="#66cc5a" stroke="#66cc5a" d="M1142 163l0 1 6 11z"/><path fill="#48c06c" stroke="#48c06c" d="M1131 165l-5 12 5-11zM1065 164l-5 12 5-8z"/><path fill="#a2d836" stroke="#a2d836" d="M1131 165l0 1 5-10zM1065 164l0 4 5-9z"/><path fill="#365a90" stroke="#365a90" d="M1110 188l-5 15 10-2z"/><path fill="#366690" stroke="#366690" d="M1088 188l0 3 6 12z"/><path fill="#a2de3c" stroke="#a2de3c" d="M1076 165l-6-6 6 7z"/><path fill="#54c66c" stroke="#54c66c" d="M1076 165l0 1 6 11z"/><path fill="#423c84" stroke="#423c84" d="M1300 202l5 15 5-15zM1289 202l5 15 6-15zM1235 203l5 15 6-17zM1224 202l6 15 5-14zM1170 203l5 14 6-14zM1159 202l5 15 6-14zM1105 203l5 14 5-16z"/><path fill="#48367e" stroke="#48367e" d="M1094 203l5 15 6-15z"/><path fill="#3cba78" stroke="#3cba78" d="M1344 174l-5-10 6 14z"/><path fill="#24908a" stroke="#24908a" d="M1344 174l1 4 4 11zM1082 177l-1 2 7 12z"/><path fill="#c6de24" stroke="#c6de24" d="M1334 156l-5 9 6-5z"/><path fill="#c0e424" stroke="#c0e424" d="M1334 156l1 4 4 4zM1202 157l-5 9 11-1z"/><path fill="#248a8a" stroke="#248a8a" d="M1322 176l-5 14 6-12zM1213 176l1 2 5 12zM1060 176l-6 13 5-10z"/><path fill="#2aae7e" stroke="#2aae7e" d="M1322 176l1 2 6-13zM1279 176l-5-11 5 12zM1191 176l1 1 5-11z"/><path fill="#423c84" stroke="#423c84" d="M1310 202l-5 15 7-14zM1224 202l0 3 6 12zM1159 202l0 3 5 12zM1115 201l-5 16 5-12z"/><path fill="#36548a" stroke="#36548a" d="M1310 202l2 1 5-13zM1115 201l0 4 5-17z"/><path fill="#482a78" stroke="#482a78" d="M1300 202l-6 15 11 0z"/><path fill="#3c548a" stroke="#3c548a" d="M1289 202l-5-11 6 14zM1246 201l0 2 6-15zM1181 203l0 2 5-15zM1159 202l-6-11 6 14zM1094 203l-6-12 5 13z"/><path fill="#42367e" stroke="#42367e" d="M1289 202l1 3 4 12zM1246 201l-6 17 6-15zM1181 203l-6 14 6-12zM1094 203l-1 1 6 14z"/><path fill="#b4de2a" stroke="#b4de2a" d="M1268 158l-5 6 6-6z"/><path fill="#1e968a" stroke="#1e968a" d="M1257 177l-5 11 6-13z"/><path fill="#36b472" stroke="#36b472" d="M1257 177l1-2 5-11z"/><path fill="#48307e" stroke="#48307e" d="M1235 203l-5 14 10 1zM1170 203l-6 14 11 0zM1105 203l-6 15 11-1z"/><path fill="#3c4e8a" stroke="#3c4e8a" d="M1224 202l-5-12 5 15z"/><path fill="#30b47e" stroke="#30b47e" d="M1213 176l-5-11 6 13z"/><path fill="#1e908a" stroke="#1e908a" d="M1191 176l-5 14 6-13z"/><path fill="#42c072" stroke="#42c072" d="M1148 175l-6-11 5 13z"/><path fill="#24968a" stroke="#24968a" d="M1148 175l-1 2 6 14z"/><path fill="#d2e424" stroke="#d2e424" d="M1136 156l0 0 6 8z"/><path fill="#30ae7e" stroke="#30ae7e" d="M1082 177l-6-11 5 13z"/><path fill="#aede30" stroke="#aede30" d="M1070 159l-1 0 7 7z"/><path fill="#36b478" stroke="#36b478" d="M1060 176l-1 3 6-11z"/><path fill="#482478" stroke="#482478" d="M1294 217l6 15 5-15zM1164 217l6 16 5-16z"/><path fill="#482a78" stroke="#482a78" d="M1230 217l5 16 5-15zM1099 218l6 14 5-15z"/><path fill="#a8de36" stroke="#a8de36" d="M1339 164l-4-4 6 9z"/><path fill="#42c072" stroke="#42c072" d="M1339 164l2 5 4 9z"/><path fill="#3cba72" stroke="#3cba72" d="M1329 165l-6 13 7-9z"/><path fill="#8ad248" stroke="#8ad248" d="M1329 165l1 4 5-9z"/><path fill="#36608a" stroke="#36608a" d="M1317 190l-5 13 6-11zM1120 188l-5 17 5-12zM1054 189l-5 16 5-12z"/><path fill="#247e8a" stroke="#247e8a" d="M1317 190l1 2 5-14zM1186 190l0 2 6-15z"/><path fill="#482a78" stroke="#482a78" d="M1305 217l-5 15 6-13zM1240 218l1 1 5-16zM1164 217l-5-12 5 15z"/><path fill="#42307e" stroke="#42307e" d="M1305 217l1 2 6-16zM1175 217l0 2 6-14z"/><path fill="#a2de3c" stroke="#a2de3c" d="M1274 165l-5-7 6 11z"/><path fill="#4ec66c" stroke="#4ec66c" d="M1274 165l1 4 4 8z"/><path fill="#66c65a" stroke="#66c65a" d="M1263 164l-5 11 6-10z"/><path fill="#c6de24" stroke="#c6de24" d="M1263 164l1 1 5-7z"/><path fill="#30608a" stroke="#30608a" d="M1252 188l-6 15 6-14z"/><path fill="#24848a" stroke="#24848a" d="M1252 188l0 1 6-14zM1054 189l0 4 5-14z"/><path fill="#481e6c" stroke="#481e6c" d="M1240 218l-5 15 6-14z"/><path fill="#2a7e90" stroke="#2a7e90" d="M1219 190l-5-12 5 13zM1153 191l-6-14 6 13z"/><path fill="#366090" stroke="#366090" d="M1219 190l0 1 5 14zM1153 191l0-1 6 15z"/><path fill="#bade2a" stroke="#bade2a" d="M1208 165l-5-7 5 8z"/><path fill="#5ac666" stroke="#5ac666" d="M1208 165l0 1 6 12z"/><path fill="#42ba72" stroke="#42ba72" d="M1197 166l-5 11 5-10z"/><path fill="#9cd83c" stroke="#9cd83c" d="M1197 166l0 1 6-9z"/><path fill="#365a8a" stroke="#365a8a" d="M1186 190l-5 15 5-13z"/><path fill="#482472" stroke="#482472" d="M1175 217l-5 16 5-14zM1110 217l-5 15 5-13zM1110 217l0 2 5-14z"/><path fill="#482478" stroke="#482478" d="M1164 217l0 3 6 13z"/><path fill="#b4de2a" stroke="#b4de2a" d="M1142 164l-6-8 6 10zM1131 166l-1 0 6-10z"/><path fill="#6ccc5a" stroke="#6ccc5a" d="M1142 164l0 2 5 11z"/><path fill="#54c066" stroke="#54c066" d="M1131 166l-6 9 5-9z"/><path fill="#2a7e8a" stroke="#2a7e8a" d="M1120 188l0 5 5-18z"/><path fill="#48307e" stroke="#48307e" d="M1099 218l-6-14 6 16zM1099 218l0 2 6 12z"/><path fill="#2a8490" stroke="#2a8490" d="M1088 191l-7-12 6 13z"/><path fill="#3c548a" stroke="#3c548a" d="M1088 191l-1 1 6 12z"/><path fill="#90d848" stroke="#90d848" d="M1076 166l-7-7 6 9z"/><path fill="#54c666" stroke="#54c666" d="M1076 166l-1 2 6 11z"/><path fill="#9cd83c" stroke="#9cd83c" d="M1335 160l-5 9 6-7z"/><path fill="#248a8a" stroke="#248a8a" d="M1323 178l-5 14 7-14zM1214 178l0 1 5 12zM1125 175l-5 18 5-13zM1081 179l-1-1 7 14z"/><path fill="#2aae7e" stroke="#2aae7e" d="M1323 178l2 0 5-9zM1059 179l-1 2 6-14z"/><path fill="#424284" stroke="#424284" d="M1312 203l-6 16 7-14z"/><path fill="#3c4e8a" stroke="#3c4e8a" d="M1312 203l1 2 5-13z"/><path fill="#bade2a" stroke="#bade2a" d="M1269 158l-5 7 6-2zM1069 159l-1 0 7 9z"/><path fill="#b4de2a" stroke="#b4de2a" d="M1269 158l1 5 5 6z"/><path fill="#249c8a" stroke="#249c8a" d="M1258 175l-6 14 6-12z"/><path fill="#3cba72" stroke="#3cba72" d="M1258 175l0 2 6-12z"/><path fill="#423078" stroke="#423078" d="M1246 203l-5 16 6-14z"/><path fill="#365a8a" stroke="#365a8a" d="M1246 203l1 2 5-16zM1159 205l-6-15 6 15z"/><path fill="#3cba78" stroke="#3cba78" d="M1214 178l-6-12 6 13zM1147 177l-5-11 5 11z"/><path fill="#c0de24" stroke="#c0de24" d="M1203 158l-6 9 6-8z"/><path fill="#a8de36" stroke="#a8de36" d="M1203 158l0 1 5 7z"/><path fill="#1e908a" stroke="#1e908a" d="M1192 177l-6 15 6-13z"/><path fill="#36b478" stroke="#36b478" d="M1192 177l0 2 5-12zM1125 175l0 5 5-14z"/><path fill="#42367e" stroke="#42367e" d="M1181 205l-6 14 6-13zM1115 205l-5 14 4-13z"/><path fill="#3c548a" stroke="#3c548a" d="M1181 205l0 1 5-14zM1115 205l-1 1 6-13zM1093 204l-6-12 5 14z"/><path fill="#423c84" stroke="#423c84" d="M1159 205l0 0 5 15z"/><path fill="#24968a" stroke="#24968a" d="M1147 177l0 0 6 13z"/><path fill="#a8d830" stroke="#a8d830" d="M1136 156l-6 10 6-7z"/><path fill="#aede36" stroke="#aede36" d="M1136 156l0 3 6 7z"/><path fill="#42428a" stroke="#42428a" d="M1093 204l-1 2 7 14z"/><path fill="#30b47e" stroke="#30b47e" d="M1081 179l-6-11 5 10z"/><path fill="#24848a" stroke="#24848a" d="M1059 179l-5 14 4-12z"/><path fill="#4ec066" stroke="#4ec066" d="M1330 169l-5 9 6-11zM1130 166l-5 14 5-11z"/><path fill="#36608a" stroke="#36608a" d="M1318 192l-5 13 6-12zM1186 192l-5 14 5-14z"/><path fill="#2a7e8a" stroke="#2a7e8a" d="M1318 192l1 1 6-15z"/><path fill="#248a90" stroke="#248a90" d="M1285 189l-5-12 6 15z"/><path fill="#366090" stroke="#366090" d="M1285 189l1 3 5 12zM1087 192l-1 1 6 13z"/><path fill="#72d25a" stroke="#72d25a" d="M1275 169l-5-6 5 7z"/><path fill="#54c66c" stroke="#54c66c" d="M1275 169l0 1 5 7z"/><path fill="#60c660" stroke="#60c660" d="M1264 165l-6 12 6-9zM1075 168l-1-1 6 11z"/><path fill="#a2de3c" stroke="#a2de3c" d="M1264 165l0 3 6-5z"/><path fill="#30608a" stroke="#30608a" d="M1252 189l-5 16 6-12z"/><path fill="#24848a" stroke="#24848a" d="M1252 189l1 4 5-16z"/><path fill="#aede30" stroke="#aede30" d="M1208 166l-5-7 6 9z"/><path fill="#66cc60" stroke="#66cc60" d="M1208 166l1 2 5 11z"/><path fill="#42ba72" stroke="#42ba72" d="M1197 167l-5 12 5-9z"/><path fill="#9cd83c" stroke="#9cd83c" d="M1197 167l0 3 6-11zM1130 166l0 3 6-10zM1064 167l-1 3 5-11z"/><path fill="#247e8a" stroke="#247e8a" d="M1186 192l0 0 6-13z"/><path fill="#248490" stroke="#248490" d="M1153 190l-6-13 6 15zM1087 192l-7-14 6 15z"/><path fill="#306690" stroke="#306690" d="M1153 190l0 2 6 13z"/><path fill="#bade2a" stroke="#bade2a" d="M1142 166l-6-7 5 7z"/><path fill="#78d254" stroke="#78d254" d="M1142 166l-1 0 6 11z"/><path fill="#b4de2a" stroke="#b4de2a" d="M1075 168l-7-9 6 8z"/><path fill="#48c06c" stroke="#48c06c" d="M1064 167l-6 14 5-11z"/><path fill="#30ae7e" stroke="#30ae7e" d="M1347 178l-5-10 6 14zM1192 179l0 0 5-9zM1125 180l0 1 5-12z"/><path fill="#24908a" stroke="#24908a" d="M1347 178l1 4 4 11z"/><path fill="#b4de2a" stroke="#b4de2a" d="M1336 162l-5 5 7-6zM1068 159l-1 1 7 7z"/><path fill="#1e908a" stroke="#1e908a" d="M1325 178l-6 15 7-13zM1258 177l-5 16 6-13z"/><path fill="#36b478" stroke="#36b478" d="M1325 178l1 2 5-13z"/><path fill="#24ae84" stroke="#24ae84" d="M1280 177l-5-7 6 12z"/><path fill="#248a90" stroke="#248a90" d="M1280 177l1 5 5 10z"/><path fill="#3cba72" stroke="#3cba72" d="M1258 177l1 3 5-12zM1147 177l-6-11 6 13z"/><path fill="#a8de36" stroke="#a8de36" d="M1203 159l-6 11 12-2z"/><path fill="#1e968a" stroke="#1e968a" d="M1192 179l-6 13 6-13zM1125 180l-6 13 6-12z"/><path fill="#24968a" stroke="#24968a" d="M1147 177l0 2 6 13z"/><path fill="#c6de24" stroke="#c6de24" d="M1136 159l-6 10 5-7z"/><path fill="#c0e42a" stroke="#c0e42a" d="M1136 159l-1 3 6 4z"/><path fill="#3cba78" stroke="#3cba78" d="M1080 178l-6-11 6 14z"/><path fill="#249090" stroke="#249090" d="M1080 178l0 3 6 12z"/><path fill="#9cd83c" stroke="#9cd83c" d="M1342 168l-4-7 6 11z"/><path fill="#48c072" stroke="#48c072" d="M1342 168l2 4 4 10z"/><path fill="#60c660" stroke="#60c660" d="M1331 167l-5 13 7-11z"/><path fill="#c0de24" stroke="#c0de24" d="M1331 167l2 2 5-8z"/><path fill="#5ac660" stroke="#5ac660" d="M1264 168l-5 12 6-12z"/><path fill="#a2d836" stroke="#a2d836" d="M1264 168l1 0 6-7z"/><path fill="#aede30" stroke="#aede30" d="M1209 168l-6-6 6 7z"/><path fill="#66cc60" stroke="#66cc60" d="M1209 168l0 1 5 8z"/><path fill="#a8de36" stroke="#a8de36" d="M1141 166l-6-4 6 9z"/><path fill="#5ac666" stroke="#5ac666" d="M1141 166l0 5 6 8zM1074 167l-1 1 7 13z"/><path fill="#48c06c" stroke="#48c06c" d="M1130 169l-5 12 5-10z"/><path fill="#96d83c" stroke="#96d83c" d="M1130 169l0 2 5-9zM1063 170l-1 2 5-12z"/><path fill="#c0e42a" stroke="#c0e42a" d="M1074 167l-7-7 6 8z"/><path fill="#54c066" stroke="#54c066" d="M1063 170l-6 12 5-10z"/><path fill="#b4e430" stroke="#b4e430" d="M1338 161l-5 8 11 3z"/><path fill="#aede36" stroke="#aede36" d="M1271 161l-6 7 11 1zM1203 162l-5 7 11 0z"/><path fill="#9cde3c" stroke="#9cde3c" d="M1135 162l-5 9 11 0z"/><path fill="#a2de3c" stroke="#a2de3c" d="M1067 160l-5 12 11-4z"/><path fill="#a8d830" stroke="#a8d830" d="M1377 170l2 1 6-14z"/><path fill="#aede30" stroke="#aede30" d="M1333 169l1 1 5-8zM1209 169l-6-5 6 5zM1209 169l0 0 6-5zM1198 169l-6-9 6 11z"/><path fill="#9cd83c" stroke="#9cd83c" d="M1276 169l-5-8 6 10zM1198 169l0 2 5-7zM1028 171l-7-7 5 9z"/><path fill="#96d83c" stroke="#96d83c" d="M1276 169l1 2 6-7zM1028 171l-2 2 6-9z"/><path fill="#a2de3c" stroke="#a2de3c" d="M1265 168l-5-6 6 9z"/><path fill="#c0de24" stroke="#c0de24" d="M1265 168l1 3 5-10zM1073 168l-1 4 6-10z"/><path fill="#b4de30" stroke="#b4de30" d="M1141 171l-6-7 6 8z"/><path fill="#a2d836" stroke="#a2d836" d="M1141 171l0 1 5-9z"/><path fill="#a2d83c" stroke="#a2d83c" d="M1130 171l-6-9 5 9z"/><path fill="#8ad248" stroke="#8ad248" d="M1130 171l-1 0 6-7z"/><path fill="#aede36" stroke="#aede36" d="M1073 168l-6-3 5 7z"/><path fill="#90d842" stroke="#90d842" d="M1062 172l-7-6 6 6z"/><path fill="#bae42a" stroke="#bae42a" d="M1396 161l6 5 5-6zM1317 160l6 9 5-8zM1294 162l6 11 5-14zM1044 161l5 12 6-7z"/><path fill="#cce424" stroke="#cce424" d="M1385 157l6 13 5-9zM1351 162l6 9 5-12zM1237 160l6 11 6-8zM1169 162l6 9 6-11zM1032 164l6 6 6-9z"/><path fill="#c0e42a" stroke="#c0e42a" d="M1362 159l6 12 5-7zM1283 164l6 6 5-8zM1181 160l5 12 6-12zM1078 162l6 8 5-8zM1009 162l6 9 6-7zM998 160l5 13 6-11z"/><path fill="#b4e430" stroke="#b4e430" d="M1305 159l6 10 6-9zM1146 163l6 10 6-8zM1112 165l6 6 6-9z"/><path fill="#d2e424" stroke="#d2e424" d="M1249 163l6 9 5-10zM1226 166l6 3 5-9zM1089 162l6 12 6-13z"/><path fill="#bae430" stroke="#bae430" d="M1215 164l6 7 5-5z"/><path fill="#c6e424" stroke="#c6e424" d="M1158 165l6 6 5-9z"/><path fill="#c6e42a" stroke="#c6e42a" d="M1101 161l5 7 6-3z"/><path fill="#dee424" stroke="#dee424" d="M1407 160l-5 6 7-4z"/><path fill="#cce424" stroke="#cce424" d="M1396 161l-5 9 11-4zM1237 160l-5 9 11 2z"/><path fill="#c0e424" stroke="#c0e424" d="M1385 157l-6 14 12-1zM1101 161l-6 13 11-6z"/><path fill="#90d848" stroke="#90d848" d="M1373 164l-5 7 11 0zM1055 166l-6 7 12-1z"/><path fill="#c6e424" stroke="#c6e424" d="M1362 159l-5 12 11 0z"/><path fill="#b4e430" stroke="#b4e430" d="M1351 162l-5 6 11 3z"/><path fill="#d2e424" stroke="#d2e424" d="M1339 162l-5 8 12-2z"/><path fill="#bae430" stroke="#bae430" d="M1328 161l-5 8 11 1z"/><path fill="#c0e42a" stroke="#c0e42a" d="M1317 160l-6 9 12 0zM1089 162l-5 8 11 4zM1078 162l-6 10 12-2zM1044 161l-6 9 11 3zM1009 162l-6 11 12-2z"/><path fill="#bae42a" stroke="#bae42a" d="M1305 159l-5 14 11-4zM1192 160l-6 12 12-1zM1181 160l-6 11 11 1z"/><path fill="#9cde42" stroke="#9cde42" d="M1294 162l-5 8 11 3zM1226 166l-5 5 11-2z"/><path fill="#96de42" stroke="#96de42" d="M1283 164l-6 7 12-1zM1067 165l-6 7 11 0z"/><path fill="#a8de3c" stroke="#a8de3c" d="M1271 161l-5 10 11 0zM1112 165l-6 3 12 3z"/><path fill="#8ad848" stroke="#8ad848" d="M1260 162l-5 10 11-1z"/><path fill="#a2de3c" stroke="#a2de3c" d="M1249 163l-6 8 12 1zM1158 165l-6 8 12-2zM1135 164l-6 7 12 1zM1124 162l-6 9 11 0z"/><path fill="#9cde3c" stroke="#9cde3c" d="M1215 164l-6 5 12 2zM1146 163l-5 9 11 1z"/><path fill="#aede36" stroke="#aede36" d="M1203 164l-5 7 11-2zM1169 162l-5 9 11 0z"/><path fill="#a8de36" stroke="#a8de36" d="M1032 164l-6 9 12-3zM1021 164l-6 7 11 2z"/><path fill="#c0de24" stroke="#c0de24" d="M998 160l-2 1 7 12z"/><path fill="#6cd25a" stroke="#6cd25a" d="M1391 170l6 14 5-18z"/><path fill="#54c66c" stroke="#54c66c" d="M1379 171l6 13 6-14zM1346 168l5 15 6-12zM1255 172l6 11 5-12zM1232 169l6 12 5-10zM1221 171l5 13 6-15zM1175 171l6 14 5-13zM1141 172l6 11 5-10zM1118 171l6 14 5-14z"/><path fill="#48c672" stroke="#48c672" d="M1368 171l6 13 5-13zM1323 169l6 15 5-14zM1289 170l6 13 5-10zM1243 171l6 14 6-13zM1186 172l6 12 6-13z"/><path fill="#4ec66c" stroke="#4ec66c" d="M1357 171l6 12 5-12zM1300 173l6 8 5-12zM1095 174l6 9 5-15zM1015 171l6 15 5-13zM1003 173l6 10 6-12z"/><path fill="#6cd260" stroke="#6cd260" d="M1311 169l6 12 6-12z"/><path fill="#5acc66" stroke="#5acc66" d="M1277 171l6 10 6-11zM1209 169l6 13 6-11z"/><path fill="#60cc66" stroke="#60cc66" d="M1164 171l5 13 6-13z"/><path fill="#42c072" stroke="#42c072" d="M1152 173l6 12 6-14zM1026 173l6 11 6-14z"/><path fill="#66cc60" stroke="#66cc60" d="M1106 168l6 15 6-12z"/><path fill="#60cc60" stroke="#60cc60" d="M1084 170l5 13 6-9zM1038 170l6 16 5-13z"/><path fill="#66d260" stroke="#66d260" d="M1072 172l6 10 6-12z"/><path fill="#54cc66" stroke="#54cc66" d="M1049 173l6 12 6-13z"/><path fill="#6ccc5a" stroke="#6ccc5a" d="M1402 166l-5 18 7-12z"/><path fill="#bade2a" stroke="#bade2a" d="M1402 166l2 6 5-10z"/><path fill="#30b47e" stroke="#30b47e" d="M1391 170l-6 14 12 0zM1379 171l-5 13 11 0zM1186 172l-5 13 11-1z"/><path fill="#36ba7e" stroke="#36ba7e" d="M1368 171l-5 12 11 1zM1357 171l-6 12 12 0zM1300 173l-5 10 11-2zM1221 171l-6 11 11 2zM1152 173l-5 10 11 2zM1118 171l-6 12 12 2zM1106 168l-5 15 11 0zM1015 171l-6 12 12 3z"/><path fill="#c6e424" stroke="#c6e424" d="M1346 168l-5-8 6 12z"/><path fill="#60c660" stroke="#60c660" d="M1346 168l1 4 4 11zM1003 173l-1-2 7 12z"/><path fill="#48c06c" stroke="#48c06c" d="M1334 170l-5 14 7-13z"/><path fill="#c0de24" stroke="#c0de24" d="M1334 170l2 1 5-11z"/><path fill="#3cba78" stroke="#3cba78" d="M1323 169l-6 12 12 3zM1311 169l-5 12 11 0z"/><path fill="#3cc078" stroke="#3cc078" d="M1289 170l-6 11 12 2z"/><path fill="#a2de3c" stroke="#a2de3c" d="M1277 171l-5-7 6 8z"/><path fill="#66cc60" stroke="#66cc60" d="M1277 171l1 1 5 9z"/><path fill="#54c066" stroke="#54c066" d="M1266 171l-5 12 6-10zM1129 171l-5 14 5-12z"/><path fill="#9cd83c" stroke="#9cd83c" d="M1266 171l1 2 5-9z"/><path fill="#24ae84" stroke="#24ae84" d="M1255 172l-6 13 12-2zM1095 174l-6 9 12 0z"/><path fill="#36ba78" stroke="#36ba78" d="M1243 171l-5 10 11 4zM1232 169l-6 15 12-3z"/><path fill="#aede30" stroke="#aede30" d="M1209 169l-5-5 5 9zM1141 172l-6-8 5 9zM1072 172l-6-7 5 6z"/><path fill="#5ac666" stroke="#5ac666" d="M1209 169l0 4 6 9z"/><path fill="#5ac660" stroke="#5ac660" d="M1198 171l-6 13 6-10z"/><path fill="#b4de2a" stroke="#b4de2a" d="M1198 171l0 3 6-10z"/><path fill="#36b47e" stroke="#36b47e" d="M1175 171l-6 13 12 1zM1038 170l-6 14 12 2z"/><path fill="#2ab484" stroke="#2ab484" d="M1164 171l-6 14 11-1z"/><path fill="#54c666" stroke="#54c666" d="M1141 172l-1 1 7 10z"/><path fill="#a8d836" stroke="#a8d836" d="M1129 171l0 2 6-9z"/><path fill="#42c072" stroke="#42c072" d="M1084 170l-6 12 11 1z"/><path fill="#60cc60" stroke="#60cc60" d="M1072 172l-1-1 7 11z"/><path fill="#2aae84" stroke="#2aae84" d="M1049 173l-5 13 11-1zM1026 173l-5 13 11-2z"/><path fill="#c6de24" stroke="#c6de24" d="M1003 173l-7-12 6 10z"/><path fill="#a8d830" stroke="#a8d830" d="M992 169l-2 3 6-11z"/><path fill="#249090" stroke="#249090" d="M1385 184l6 12 6-12zM1249 185l6 12 6-14zM1158 185l6 12 5-13z"/><path fill="#249690" stroke="#249690" d="M1374 184l6 13 5-13zM1295 183l6 14 5-16zM1215 182l6 16 5-14zM1181 185l6 14 5-15zM1147 183l5 14 6-12zM1112 183l6 15 6-13zM1101 183l6 14 5-14zM1089 183l6 15 6-15zM1078 182l6 16 5-15zM1044 186l5 12 6-13zM1032 184l6 14 6-12zM1021 186l5 12 6-14zM1009 183l6 15 6-12z"/><path fill="#248a90" stroke="#248a90" d="M1363 183l6 14 5-13z"/><path fill="#249c8a" stroke="#249c8a" d="M1351 183l6 14 6-14zM1317 181l6 16 6-13zM1306 181l6 16 5-16zM1238 181l6 16 5-12zM1226 184l6 12 6-15zM1169 184l6 12 6-11z"/><path fill="#249c90" stroke="#249c90" d="M1283 181l6 14 6-12z"/><path fill="#b4de2a" stroke="#b4de2a" d="M1409 162l-5 10 7-7z"/><path fill="#bae42a" stroke="#bae42a" d="M1409 162l2 3 5 5zM1204 164l-6 10 11-1z"/><path fill="#248a8a" stroke="#248a8a" d="M1397 184l-6 12 8-11z"/><path fill="#2aa87e" stroke="#2aa87e" d="M1397 184l2 1 5-13z"/><path fill="#2a7e90" stroke="#2a7e90" d="M1385 184l-5 13 11-1zM1363 183l-6 14 12 0zM1306 181l-5 16 11 0zM1181 185l-6 11 12 3zM1032 184l-6 14 12 0zM1021 186l-6 12 11 0z"/><path fill="#2a8490" stroke="#2a8490" d="M1374 184l-5 13 11 0zM1249 185l-5 12 11 0zM1158 185l-6 12 12 0zM1112 183l-5 14 11 1zM1089 183l-5 15 11 0zM1044 186l-6 12 11 0z"/><path fill="#aede30" stroke="#aede30" d="M1341 160l-5 11 6-6zM1135 164l-6 9 5-6z"/><path fill="#b4de30" stroke="#b4de30" d="M1341 160l1 5 5 7z"/><path fill="#1e908a" stroke="#1e908a" d="M1329 184l-6 13 7-13z"/><path fill="#42ba72" stroke="#42ba72" d="M1329 184l1 0 6-13z"/><path fill="#248a90" stroke="#248a90" d="M1317 181l-5 16 11 0zM1295 183l-6 12 12 2zM1226 184l-5 14 11-2zM1169 184l-5 13 11-1z"/><path fill="#36ba78" stroke="#36ba78" d="M1283 181l-5-9 6 14z"/><path fill="#249c8a" stroke="#249c8a" d="M1283 181l1 5 5 9z"/><path fill="#bade24" stroke="#bade24" d="M1272 164l-5 9 6-9zM996 161l-6 11 5-8z"/><path fill="#24908a" stroke="#24908a" d="M1261 183l-6 14 6-10zM1078 182l-1 2 7 14zM1055 185l-6 13 5-10z"/><path fill="#36b478" stroke="#36b478" d="M1261 183l0 4 6-14zM1078 182l-7-11 6 13z"/><path fill="#248490" stroke="#248490" d="M1238 181l-6 15 12 1zM1101 183l-6 15 12-1z"/><path fill="#3cba78" stroke="#3cba78" d="M1215 182l-6-9 6 12zM1009 183l-7-12 6 16z"/><path fill="#24968a" stroke="#24968a" d="M1215 182l0 3 6 13zM1147 183l-1 2 6 12zM1009 183l-1 4 7 11z"/><path fill="#1e968a" stroke="#1e968a" d="M1192 184l-5 15 5-15z"/><path fill="#2aae7e" stroke="#2aae7e" d="M1192 184l0 0 6-10z"/><path fill="#2aae84" stroke="#2aae84" d="M1147 183l-7-10 6 12z"/><path fill="#c0e424" stroke="#c0e424" d="M1135 164l-1 3 6 6z"/><path fill="#c0de24" stroke="#c0de24" d="M1066 165l-6 7 5-6z"/><path fill="#bade2a" stroke="#bade2a" d="M1066 165l-1 1 6 5z"/><path fill="#30ae7e" stroke="#30ae7e" d="M1055 185l-1 3 6-16z"/><path fill="#c6e424" stroke="#c6e424" d="M996 161l-1 3 7 7z"/><path fill="#366690" stroke="#366690" d="M1380 197l6 13 5-14zM1357 197l6 15 6-15zM1301 197l5 16 6-16zM1289 195l6 18 6-16zM1164 197l6 16 5-17zM1152 197l6 15 6-15zM1095 198l6 15 6-16zM1015 198l6 15 5-15z"/><path fill="#365a90" stroke="#365a90" d="M1369 197l6 15 5-15z"/><path fill="#366090" stroke="#366090" d="M1312 197l6 14 5-14zM1244 197l6 15 5-15zM1232 196l6 17 6-16zM1221 198l6 14 5-16zM1107 197l5 15 6-14z"/><path fill="#306c90" stroke="#306c90" d="M1175 196l6 17 6-14zM1038 198l5 14 6-14zM1026 198l6 14 6-14z"/><path fill="#306690" stroke="#306690" d="M1084 198l5 14 6-14z"/><path fill="#c0e424" stroke="#c0e424" d="M1416 170l-5-5 7 7z"/><path fill="#5ac660" stroke="#5ac660" d="M1404 172l-5 13 7-12zM1060 172l-6 16 5-14zM1002 171l-2 3 8 13z"/><path fill="#a8d830" stroke="#a8d830" d="M1404 172l2 1 5-8z"/><path fill="#30668a" stroke="#30668a" d="M1391 196l-5 14 7-12z"/><path fill="#2a7e8a" stroke="#2a7e8a" d="M1391 196l2 2 6-13zM1049 198l-1 2 6-12z"/><path fill="#3c5a90" stroke="#3c5a90" d="M1380 197l-5 15 11-2zM1369 197l-6 15 12 0zM1232 196l-5 16 11 1zM1026 198l-5 15 11-1z"/><path fill="#66cc5a" stroke="#66cc5a" d="M1336 171l-6 13 7-12z"/><path fill="#bade24" stroke="#bade24" d="M1336 171l1 1 5-7zM1060 172l-1 2 6-8z"/><path fill="#36608a" stroke="#36608a" d="M1323 197l-5 14 7-13zM1255 197l-5 15 6-13z"/><path fill="#248a8a" stroke="#248a8a" d="M1323 197l2 1 5-14z"/><path fill="#3c4e8a" stroke="#3c4e8a" d="M1312 197l-6 16 12-2zM1301 197l-6 16 11 0z"/><path fill="#248490" stroke="#248490" d="M1289 195l-5-9 6 13zM1221 198l-6-13 6 14zM1084 198l-7-14 6 15z"/><path fill="#366090" stroke="#366090" d="M1289 195l1 4 5 14zM1221 198l0 1 6 13z"/><path fill="#48c06c" stroke="#48c06c" d="M1267 173l-6 14 7-13z"/><path fill="#b4de2a" stroke="#b4de2a" d="M1267 173l1 1 5-10z"/><path fill="#2a788a" stroke="#2a788a" d="M1255 197l1 2 5-12z"/><path fill="#3c5490" stroke="#3c5490" d="M1244 197l-6 16 12-1zM1164 197l-6 15 12 1zM1038 198l-6 14 11 0z"/><path fill="#365a8a" stroke="#365a8a" d="M1187 199l-6 14 6-13z"/><path fill="#247e8a" stroke="#247e8a" d="M1187 199l0 1 5-16z"/><path fill="#365a90" stroke="#365a90" d="M1175 196l-5 17 11 0zM1095 198l-6 14 12 1z"/><path fill="#2a7e90" stroke="#2a7e90" d="M1152 197l-6-12 6 15z"/><path fill="#366690" stroke="#366690" d="M1152 197l0 3 6 12z"/><path fill="#a2de36" stroke="#a2de36" d="M1140 173l-6-6 6 6z"/><path fill="#54c666" stroke="#54c666" d="M1140 173l0 0 6 12z"/><path fill="#3c548a" stroke="#3c548a" d="M1107 197l-6 16 11-1z"/><path fill="#306690" stroke="#306690" d="M1084 198l-1 1 6 13zM1015 198l-2 2 8 13z"/><path fill="#b4de30" stroke="#b4de30" d="M1071 171l-6-5 5 9z"/><path fill="#72d254" stroke="#72d254" d="M1071 171l-1 4 7 9z"/><path fill="#2a7890" stroke="#2a7890" d="M1015 198l-7-11 5 13z"/><path fill="#bade2a" stroke="#bade2a" d="M1002 171l-7-7 5 10z"/><path fill="#423c84" stroke="#423c84" d="M1375 212l5 15 6-17zM1363 212l6 15 6-15zM1238 213l6 15 6-16zM1170 213l5 15 6-15zM1158 212l6 17 6-16z"/><path fill="#483684" stroke="#483684" d="M1306 213l6 15 6-17zM1295 213l6 15 5-15z"/><path fill="#42428a" stroke="#42428a" d="M1227 212l6 17 5-16zM1101 213l6 16 5-17zM1021 213l5 16 6-17z"/><path fill="#42488a" stroke="#42488a" d="M1089 212l6 16 6-15z"/><path fill="#48367e" stroke="#48367e" d="M1032 212l6 17 5-17z"/><path fill="#bade2a" stroke="#bade2a" d="M1411 165l-5 8 8-9zM1342 165l-5 7 7-8zM1065 166l-1-1 6 10z"/><path fill="#1e968a" stroke="#1e968a" d="M1399 185l-6 13 8-11zM1330 184l-5 14 7-13z"/><path fill="#30ae78" stroke="#30ae78" d="M1399 185l2 2 5-14z"/><path fill="#423c7e" stroke="#423c7e" d="M1386 210l-6 17 8-13z"/><path fill="#3c548a" stroke="#3c548a" d="M1386 210l2 4 5-16zM1158 212l-6-12 6 15zM1112 212l0 4 6-17zM1089 212l-6-13 6 18zM1021 213l-8-13 6 16z"/><path fill="#483684" stroke="#483684" d="M1375 212l-6 15 11 0zM1238 213l-5 16 11-1z"/><path fill="#3cb472" stroke="#3cb472" d="M1330 184l2 1 5-13z"/><path fill="#424284" stroke="#424284" d="M1318 211l-6 17 7-14zM1250 212l-6 16 6-13zM1227 212l0 3 6 14zM1158 212l0 3 6 14z"/><path fill="#365a8a" stroke="#365a8a" d="M1318 211l1 3 6-16z"/><path fill="#482a78" stroke="#482a78" d="M1306 213l-5 15 11 0z"/><path fill="#bade24" stroke="#bade24" d="M1273 164l-5 10 6-11z"/><path fill="#1e908a" stroke="#1e908a" d="M1261 187l-5 12 6-14zM1123 185l-5 14 5-12z"/><path fill="#36b478" stroke="#36b478" d="M1261 187l1-2 6-11zM1123 185l0 2 6-14z"/><path fill="#3c4e8a" stroke="#3c4e8a" d="M1250 212l0 3 6-16zM1227 212l-6-13 6 16z"/><path fill="#3cba78" stroke="#3cba78" d="M1215 185l-5-12 6 13z"/><path fill="#24908a" stroke="#24908a" d="M1215 185l1 1 5 13zM1192 184l-5 16 6-15z"/><path fill="#bae42a" stroke="#bae42a" d="M1204 166l-6 6 12 1z"/><path fill="#48c06c" stroke="#48c06c" d="M1192 184l1 1 5-13z"/><path fill="#423c84" stroke="#423c84" d="M1181 213l-6 15 6-14zM1112 212l-5 17 5-13zM1021 213l-2 3 7 13z"/><path fill="#3c488a" stroke="#3c488a" d="M1181 213l0 1 6-14z"/><path fill="#48367e" stroke="#48367e" d="M1170 213l-6 16 11-1zM1101 213l-6 15 12 1zM1032 212l-6 17 12 0z"/><path fill="#42c072" stroke="#42c072" d="M1146 185l-6-12 6 13z"/><path fill="#24968a" stroke="#24968a" d="M1146 185l0 1 6 14zM1077 184l-1 3 7 12z"/><path fill="#42367e" stroke="#42367e" d="M1089 212l0 5 6 11z"/><path fill="#36ba78" stroke="#36ba78" d="M1077 184l-7-9 6 12zM1008 187l-8-13 6 12z"/><path fill="#248a8a" stroke="#248a8a" d="M1008 187l-2-1 7 14z"/><path fill="#b4de30" stroke="#b4de30" d="M995 164l-2 2 7 8z"/><path fill="#482478" stroke="#482478" d="M1369 227l6 18 5-18zM1233 229l5 15 6-16zM1026 229l6 17 6-17z"/><path fill="#48307e" stroke="#48307e" d="M1301 228l6 16 5-16zM1164 229l6 15 5-16z"/><path fill="#482a78" stroke="#482a78" d="M1095 228l6 17 6-16z"/><path fill="#4ec066" stroke="#4ec066" d="M1406 173l-5 14 7-11z"/><path fill="#a2d836" stroke="#a2d836" d="M1406 173l2 3 6-12z"/><path fill="#36608a" stroke="#36608a" d="M1393 198l-5 16 7-13zM1048 200l-6 14 5-12z"/><path fill="#2a7e8a" stroke="#2a7e8a" d="M1393 198l2 3 6-14zM1187 200l0 0 6-15z"/><path fill="#482a78" stroke="#482a78" d="M1380 227l-5 18 7-15zM1244 228l-6 16 7-14zM1175 228l-5 16 6-14zM1164 229l-6-14 6 15zM1164 229l0 1 6 14zM1107 229l-6 16 5-14z"/><path fill="#42367e" stroke="#42367e" d="M1380 227l2 3 6-16zM1107 229l-1 2 6-15zM1095 228l-6-11 6 14z"/><path fill="#60c660" stroke="#60c660" d="M1337 172l-5 13 7-13z"/><path fill="#c0de24" stroke="#c0de24" d="M1337 172l2 0 5-8zM1268 174l1 1 5-12z"/><path fill="#30668a" stroke="#30668a" d="M1325 198l-6 16 7-13z"/><path fill="#24848a" stroke="#24848a" d="M1325 198l1 3 6-16z"/><path fill="#481e72" stroke="#481e72" d="M1312 228l-5 16 7-14z"/><path fill="#423078" stroke="#423078" d="M1312 228l2 2 5-16zM1244 228l1 2 5-15z"/><path fill="#c0e424" stroke="#c0e424" d="M1279 173l-5-10 6 13z"/><path fill="#5ac666" stroke="#5ac666" d="M1279 173l1 3 5 11zM1268 174l-6 11 7-10z"/><path fill="#30608a" stroke="#30608a" d="M1256 199l-6 16 7-14zM1118 199l-6 17 5-14z"/><path fill="#247e8a" stroke="#247e8a" d="M1256 199l1 2 5-16zM1118 199l-1 3 6-15z"/><path fill="#48307e" stroke="#48307e" d="M1233 229l-6-14 6 16zM1026 229l-7-13 6 15zM1026 229l-1 2 7 15z"/><path fill="#482472" stroke="#482472" d="M1233 229l0 2 5 13z"/><path fill="#248490" stroke="#248490" d="M1221 199l-5-13 6 15zM1013 200l-7-14 6 17z"/><path fill="#306690" stroke="#306690" d="M1221 199l1 2 5 14zM1013 200l-1 3 7 13z"/><path fill="#aede30" stroke="#aede30" d="M1210 173l-6-6 6 8zM1198 172l0 3 6-8zM1000 174l-7-8 6 12z"/><path fill="#5ac660" stroke="#5ac660" d="M1210 173l0 2 6 11z"/><path fill="#66cc5a" stroke="#66cc5a" d="M1198 172l-5 13 5-10z"/><path fill="#306c8a" stroke="#306c8a" d="M1187 200l-6 14 6-14z"/><path fill="#42307e" stroke="#42307e" d="M1175 228l1 2 5-16z"/><path fill="#2a7e90" stroke="#2a7e90" d="M1152 200l-6-14 6 14z"/><path fill="#366090" stroke="#366090" d="M1152 200l0 0 6 15zM1083 199l-1 2 7 16z"/><path fill="#a8de36" stroke="#a8de36" d="M1140 173l-6-7 6 9z"/><path fill="#54c666" stroke="#54c666" d="M1140 173l0 2 6 11zM1070 175l-1 1 7 11z"/><path fill="#54c066" stroke="#54c066" d="M1129 173l-6 14 5-12z"/><path fill="#a8d830" stroke="#a8d830" d="M1129 173l-1 2 6-9z"/><path fill="#482478" stroke="#482478" d="M1095 228l0 3 6 14z"/><path fill="#248a90" stroke="#248a90" d="M1083 199l-7-12 6 14z"/><path fill="#bade2a" stroke="#bade2a" d="M1070 175l-6-10 5 11z"/><path fill="#248a8a" stroke="#248a8a" d="M1048 200l-1 2 6-14z"/><path fill="#60cc60" stroke="#60cc60" d="M1000 174l-1 4 7 8z"/><path fill="#c0de24" stroke="#c0de24" d="M1414 164l-6 12 8-8zM1204 167l-6 8 6-6zM993 166l-6 8 4-6zM993 166l-2 2 8 10z"/><path fill="#c0e424" stroke="#c0e424" d="M1414 164l2 4 4 6z"/><path fill="#1e908a" stroke="#1e908a" d="M1401 187l-6 14 8-13zM1332 185l-6 16 7-12z"/><path fill="#30ae7e" stroke="#30ae7e" d="M1401 187l2 1 5-12z"/><path fill="#423c7e" stroke="#423c7e" d="M1388 214l-6 16 8-16zM1319 214l-5 16 7-16zM1250 215l-5 15 6-14z"/><path fill="#365a8a" stroke="#365a8a" d="M1388 214l2 0 5-13zM1319 214l2 0 5-13zM1181 214l0 3 6-17zM1019 216l-7-13 6 15z"/><path fill="#36b478" stroke="#36b478" d="M1355 185l-5-11 6 15zM1332 185l1 4 6-17zM1262 185l1 0 6-10zM1076 187l-7-11 6 14z"/><path fill="#249090" stroke="#249090" d="M1355 185l1 4 5 10zM1146 186l0 5 6 9z"/><path fill="#b4de2a" stroke="#b4de2a" d="M1344 164l-5 8 7-6z"/><path fill="#c6de24" stroke="#c6de24" d="M1274 163l-5 12 6-6z"/><path fill="#c6e424" stroke="#c6e424" d="M1274 163l1 6 5 7z"/><path fill="#1e9c84" stroke="#1e9c84" d="M1262 185l-5 16 6-16z"/><path fill="#3c548a" stroke="#3c548a" d="M1250 215l1 1 6-15zM1158 215l-6-15 6 16zM1089 217l-7-16 6 15z"/><path fill="#30b47e" stroke="#30b47e" d="M1216 186l-6-11 6 13zM1146 186l-6-11 6 16z"/><path fill="#24968a" stroke="#24968a" d="M1216 186l0 2 6 13zM1076 187l-1 3 7 11zM1006 186l-2 3 8 14z"/><path fill="#bade2a" stroke="#bade2a" d="M1204 167l0 2 6 6zM1064 165l-6 10 5-5z"/><path fill="#1e968a" stroke="#1e968a" d="M1193 185l-6 15 6-14z"/><path fill="#3cba72" stroke="#3cba72" d="M1193 185l0 1 5-11zM1123 187l-1 2 6-14z"/><path fill="#423c84" stroke="#423c84" d="M1181 214l-5 16 5-13z"/><path fill="#42367e" stroke="#42367e" d="M1158 215l0 1 6 14zM1089 217l-1-1 7 15z"/><path fill="#aede36" stroke="#aede36" d="M1134 166l-6 9 12 0z"/><path fill="#248a8a" stroke="#248a8a" d="M1123 187l-6 15 5-13z"/><path fill="#42307e" stroke="#42307e" d="M1112 216l-6 15 5-13z"/><path fill="#3c4e8a" stroke="#3c4e8a" d="M1112 216l-1 2 6-16z"/><path fill="#b4de30" stroke="#b4de30" d="M1064 165l-1 5 6 6z"/><path fill="#30ae78" stroke="#30ae78" d="M1053 188l-1 2 6-15z"/><path fill="#36548a" stroke="#36548a" d="M1042 214l-1 3 6-15z"/><path fill="#42488a" stroke="#42488a" d="M1019 216l-1 2 7 13z"/><path fill="#36b47e" stroke="#36b47e" d="M1006 186l-7-8 5 11z"/><path fill="#48c06c" stroke="#48c06c" d="M1408 176l-5 12 7-10zM1339 172l-6 17 7-11zM1140 175l0 3 6 13z"/><path fill="#90d242" stroke="#90d242" d="M1408 176l2 2 6-10z"/><path fill="#30668a" stroke="#30668a" d="M1395 201l-5 13 7-13zM1326 201l-5 13 6-12zM1257 201l-6 15 6-14z"/><path fill="#247e8a" stroke="#247e8a" d="M1395 201l2 0 6-13zM1117 202l0 2 5-15z"/><path fill="#248490" stroke="#248490" d="M1361 199l-5-10 6 14zM1152 200l-6-9 6 14zM1082 201l-7-11 6 13zM1012 203l-8-14 6 12z"/><path fill="#a8de36" stroke="#a8de36" d="M1350 174l-4-8 6 13z"/><path fill="#48c072" stroke="#48c072" d="M1350 174l2 5 4 10z"/><path fill="#c0de24" stroke="#c0de24" d="M1339 172l1 6 6-12z"/><path fill="#2a7e8a" stroke="#2a7e8a" d="M1326 201l1 1 6-13z"/><path fill="#b4de2a" stroke="#b4de2a" d="M1280 176l-5-7 6 9z"/><path fill="#4ec66c" stroke="#4ec66c" d="M1280 176l1 2 5 9zM1069 176l-1 2 7 12z"/><path fill="#60c660" stroke="#60c660" d="M1269 175l-6 10 7-10zM987 174l-6 13 4-9z"/><path fill="#aede30" stroke="#aede30" d="M1269 175l1 0 5-6zM1210 175l-6-6 7 9zM1140 175l-6-7 6 10zM1128 175l0 5 6-12zM987 174l-2 4 6-10z"/><path fill="#24848a" stroke="#24848a" d="M1257 201l0 1 6-17zM1187 200l0 3 6-17z"/><path fill="#2a7e90" stroke="#2a7e90" d="M1222 201l-6-13 6 15z"/><path fill="#366690" stroke="#366690" d="M1222 201l0 2 6 12z"/><path fill="#54c666" stroke="#54c666" d="M1210 175l1 3 5 10z"/><path fill="#66cc5a" stroke="#66cc5a" d="M1198 175l-5 11 6-9z"/><path fill="#a2d836" stroke="#a2d836" d="M1198 175l1 2 5-8z"/><path fill="#36608a" stroke="#36608a" d="M1187 200l-6 17 6-14zM1117 202l-6 16 6-14zM1012 203l-2-2 8 17z"/><path fill="#365a8a" stroke="#365a8a" d="M1152 200l0 5 6 11z"/><path fill="#54c066" stroke="#54c066" d="M1128 175l-6 14 6-9z"/><path fill="#366090" stroke="#366090" d="M1082 201l-1 2 7 13z"/><path fill="#a2de3c" stroke="#a2de3c" d="M1069 176l-6-6 5 8z"/><path fill="#4ec06c" stroke="#4ec06c" d="M1058 175l-6 15 5-12z"/><path fill="#b4de30" stroke="#b4de30" d="M1058 175l-1 3 6-8z"/><path fill="#a2d83c" stroke="#a2d83c" d="M999 178l-8-10 6 10z"/><path fill="#5ac666" stroke="#5ac666" d="M999 178l-2 0 7 11z"/><path fill="#a8d836" stroke="#a8d836" d="M1416 168l-6 10 8-9z"/><path fill="#1e968a" stroke="#1e968a" d="M1403 188l-6 13 8-12zM1263 185l-6 17 7-13zM1193 186l-6 17 6-15z"/><path fill="#36b478" stroke="#36b478" d="M1403 188l2 1 5-11zM1193 186l0 2 6-11zM1075 190l-7-12 6 11z"/><path fill="#c6de24" stroke="#c6de24" d="M1346 166l-6 12 7-7z"/><path fill="#aede30" stroke="#aede30" d="M1346 166l1 5 5 8z"/><path fill="#24908a" stroke="#24908a" d="M1333 189l-6 13 8-14zM1075 190l-1-1 7 14z"/><path fill="#2aae7e" stroke="#2aae7e" d="M1333 189l2-1 5-10zM1146 191l-6-13 6 14z"/><path fill="#30b47e" stroke="#30b47e" d="M1286 187l-5-9 6 11zM1216 188l-5-10 6 14z"/><path fill="#c6e424" stroke="#c6e424" d="M1275 169l-5 6 6-4zM1275 169l1 2 5 7zM1134 168l-1 5 7 5zM1063 170l-1-1 6 9z"/><path fill="#42ba72" stroke="#42ba72" d="M1263 185l1 4 6-14z"/><path fill="#249090" stroke="#249090" d="M1216 188l1 4 5 11z"/><path fill="#90d848" stroke="#90d848" d="M1204 169l-5 8 12 1z"/><path fill="#248a90" stroke="#248a90" d="M1146 191l0 1 6 13z"/><path fill="#bade2a" stroke="#bade2a" d="M1134 168l-6 12 5-7z"/><path fill="#248a8a" stroke="#248a8a" d="M1122 189l-5 15 5-13zM1052 190l-6 13 5-11z"/><path fill="#30ae7e" stroke="#30ae7e" d="M1122 189l0 2 6-11z"/><path fill="#3cba78" stroke="#3cba78" d="M1004 189l-7-11 6 10z"/><path fill="#249c8a" stroke="#249c8a" d="M1004 189l-1-1 7 13z"/><path fill="#b4de30" stroke="#b4de30" d="M991 168l-1 2 7 8z"/><path fill="#3cba72" stroke="#3cba72" d="M981 187l-2 3 6-12z"/><path fill="#c0e424" stroke="#c0e424" d="M1422 175l-4-6 6 9zM997 178l-7-8 5 9z"/><path fill="#54c666" stroke="#54c666" d="M1410 178l-5 11 8-11zM997 178l-2 1 8 9z"/><path fill="#90d242" stroke="#90d242" d="M1410 178l3 0 5-9z"/><path fill="#5ac660" stroke="#5ac660" d="M1340 178l-5 10 7-12z"/><path fill="#60c660" stroke="#60c660" d="M1270 175l-6 14 6-12zM1199 177l-6 11 6-7z"/><path fill="#bade2a" stroke="#bade2a" d="M1270 175l0 2 6-6z"/><path fill="#a8de36" stroke="#a8de36" d="M1211 178l-6-7 6 7z"/><path fill="#96d842" stroke="#96d842" d="M1199 177l0 4 6-10zM1140 178l-7-5 6 5z"/><path fill="#48c06c" stroke="#48c06c" d="M1140 178l-1 0 7 14zM1068 178l-1 0 7 11z"/><path fill="#aede30" stroke="#aede30" d="M1068 178l-6-9 5 9z"/><path fill="#b4e430" stroke="#b4e430" d="M1418 169l-5 9 11 0zM1062 169l-7 10 12-1z"/><path fill="#c0e42a" stroke="#c0e42a" d="M1347 171l-5 5 12 1zM990 170l-7 7 12 2z"/><path fill="#bae430" stroke="#bae430" d="M1276 171l-6 6 12 1z"/><path fill="#a2de3c" stroke="#a2de3c" d="M1205 171l-6 10 12-3z"/><path fill="#9cde42" stroke="#9cde42" d="M1133 173l-6 7 12-2z"/><path fill="#78d254" stroke="#78d254" d="M1483 179l-4-6 7 11zM1483 179l3 5 5-9z"/><path fill="#b4de2a" stroke="#b4de2a" d="M1424 178l3 2 5-10z"/><path fill="#aede30" stroke="#aede30" d="M1413 178l-5-7 7 12z"/><path fill="#90d842" stroke="#90d842" d="M1413 178l2 5 5-11z"/><path fill="#9cd83c" stroke="#9cd83c" d="M1389 179l2 1 5-10z"/><path fill="#c0de24" stroke="#c0de24" d="M1354 177l1 1 6-9z"/><path fill="#c0e42a" stroke="#c0e42a" d="M1342 176l-5-5 6 8z"/><path fill="#bade2a" stroke="#bade2a" d="M1342 176l1 3 6-11zM983 177l-1 3 6-6zM923 177l-2 9 6-14z"/><path fill="#bade24" stroke="#bade24" d="M1282 178l1 0 6-9z"/><path fill="#a8de36" stroke="#a8de36" d="M1270 177l-5-5 6 10zM1139 178l-6-6 6 8zM1020 180l-8-6 6 8z"/><path fill="#a2d836" stroke="#a2d836" d="M1270 177l1 5 6-11z"/><path fill="#d2e424" stroke="#d2e424" d="M1211 178l-6-8 6 8z"/><path fill="#aed830" stroke="#aed830" d="M1211 178l0 0 6-9z"/><path fill="#84d24e" stroke="#84d24e" d="M1199 181l-6-9 6 11z"/><path fill="#84d248" stroke="#84d248" d="M1199 181l0 2 6-13z"/><path fill="#a8d836" stroke="#a8d836" d="M1139 178l0 2 6-8z"/><path fill="#a2de36" stroke="#a2de36" d="M1127 180l-6-9 6 9zM1055 179l-7-9 6 10z"/><path fill="#a8d830" stroke="#a8d830" d="M1127 180l0 0 6-8zM1067 178l-1 2 7-10z"/><path fill="#aede36" stroke="#aede36" d="M1067 178l-6-5 5 7z"/><path fill="#a2d83c" stroke="#a2d83c" d="M1055 179l-1 1 7-7z"/><path fill="#b4de30" stroke="#b4de30" d="M995 179l-7-5 6 6zM995 179l-1 1 6-6z"/><path fill="#bae42a" stroke="#bae42a" d="M983 177l-7-7 6 10z"/><path fill="#96d842" stroke="#96d842" d="M923 177l-8-7 6 16z"/><path fill="#c0e42a" stroke="#c0e42a" d="M1468 169l6 11 5-7zM1456 167l7 12 5-10zM1432 170l7 9 5-12zM1396 170l7 9 5-8zM1373 170l6 9 6-9zM1313 172l6 8 6-9zM1301 173l6 7 6-8zM1036 172l6 10 6-12zM940 175l5 7 7-10z"/><path fill="#cce424" stroke="#cce424" d="M1444 167l7 9 5-9zM1289 169l6 11 6-7zM1229 169l6 11 6-8zM1000 174l6 6 6-6z"/><path fill="#bae42a" stroke="#bae42a" d="M1361 169l6 13 6-12z"/><path fill="#c6e424" stroke="#c6e424" d="M1325 171l6 8 6-8zM1253 174l6 6 6-8zM1181 175l6 8 6-11zM1109 170l6 13 6-12zM1024 170l6 13 6-11z"/><path fill="#c6e42a" stroke="#c6e42a" d="M1241 172l6 6 6-4zM1097 171l6 7 6-8zM1073 170l6 9 6-5zM927 172l6 8 7-5z"/><path fill="#b4e430" stroke="#b4e430" d="M1217 169l6 11 6-11zM1157 173l6 9 6-10zM964 172l6 11 6-13z"/><path fill="#bae430" stroke="#bae430" d="M1169 172l6 11 6-8z"/><path fill="#d2e424" stroke="#d2e424" d="M1145 172l6 8 6-7zM952 172l5 10 7-10z"/><path fill="#d8ea24" stroke="#d8ea24" d="M1085 174l6 8 6-11z"/><path fill="#96de42" stroke="#96de42" d="M1479 173l-5 7 12 4zM1325 171l-6 9 12-1zM1157 173l-6 7 12 2zM1036 172l-6 11 12-1zM927 172l-6 14 12-6z"/><path fill="#a2de3c" stroke="#a2de3c" d="M1468 169l-5 10 11 1zM1301 173l-6 7 12 0zM1265 172l-6 8 12 2zM1012 174l-6 6 12 2zM988 174l-6 6 12 0z"/><path fill="#c0e42a" stroke="#c0e42a" d="M1456 167l-5 9 12 3zM1361 169l-6 9 12 4zM1133 172l-6 8 12 0zM1109 170l-6 8 12 5zM1085 174l-6 5 12 3z"/><path fill="#cce424" stroke="#cce424" d="M1444 167l-5 12 12-3zM1229 169l-6 11 12 0z"/><path fill="#bae42a" stroke="#bae42a" d="M1432 170l-5 10 12-1zM1385 170l-6 9 12 1zM964 172l-7 10 13 1zM952 172l-7 10 12 0z"/><path fill="#9cde3c" stroke="#9cde3c" d="M1420 172l-5 11 12-3z"/><path fill="#a8de36" stroke="#a8de36" d="M1408 171l-5 8 12 4zM1373 170l-6 12 12-3zM1121 171l-6 12 12-3zM1024 170l-6 12 12 1zM1000 174l-6 6 12 0z"/><path fill="#9cde42" stroke="#9cde42" d="M1396 170l-5 10 12-1zM1313 172l-6 8 12 0z"/><path fill="#c6e424" stroke="#c6e424" d="M1349 168l-6 11 12-1zM1289 169l-6 9 12 2zM1217 169l-6 9 12 2zM1073 170l-7 10 13-1z"/><path fill="#b4e430" stroke="#b4e430" d="M1337 171l-6 8 12 0zM1097 171l-6 11 12-4zM1061 173l-7 7 12 0zM1048 170l-6 12 12-2zM976 170l-6 13 12-3z"/><path fill="#aede36" stroke="#aede36" d="M1277 171l-6 11 12-4zM1205 170l-6 13 12-5z"/><path fill="#bae430" stroke="#bae430" d="M1253 174l-6 4 12 2zM1241 172l-6 8 12-2z"/><path fill="#96d842" stroke="#96d842" d="M1193 172l-6 11 12 0z"/><path fill="#8ad84e" stroke="#8ad84e" d="M1181 175l-6 8 12 0z"/><path fill="#90d848" stroke="#90d848" d="M1169 172l-6 10 12 1z"/><path fill="#aee430" stroke="#aee430" d="M1145 172l-6 8 12 0z"/><path fill="#aee436" stroke="#aee436" d="M940 175l-7 5 12 2z"/><path fill="#48c672" stroke="#48c672" d="M1474 180l7 11 5-7zM1379 179l6 15 6-14zM1295 180l7 13 5-13z"/><path fill="#54c66c" stroke="#54c66c" d="M1463 179l6 15 5-14zM1355 178l7 15 5-11zM1139 180l6 13 6-13zM1030 183l6 11 6-12zM933 180l6 15 6-13z"/><path fill="#66cc60" stroke="#66cc60" d="M1451 176l6 16 6-13zM1439 179l6 15 6-18zM1403 179l6 14 6-10zM1091 182l6 11 6-15zM1066 180l6 12 7-13zM957 182l6 11 7-10z"/><path fill="#6cd260" stroke="#6cd260" d="M1427 180l6 11 6-12zM1006 180l6 13 6-11z"/><path fill="#60cc66" stroke="#60cc66" d="M1391 180l7 11 5-12zM1319 180l7 12 5-13zM1283 178l7 15 5-13zM1235 180l7 14 5-16zM1079 179l6 15 6-12z"/><path fill="#60cc60" stroke="#60cc60" d="M1367 182l7 10 5-13zM1259 180l7 12 5-10zM1247 178l7 16 5-14zM970 183l5 9 7-12z"/><path fill="#5ac666" stroke="#5ac666" d="M1331 179l7 14 5-14z"/><path fill="#42c072" stroke="#42c072" d="M1307 180l7 16 5-16zM1187 183l6 12 6-12z"/><path fill="#5acc66" stroke="#5acc66" d="M1223 180l7 12 5-12zM1211 178l6 16 6-14zM1103 178l6 16 6-11zM1042 182l6 12 6-14zM945 182l6 12 6-12z"/><path fill="#3cba78" stroke="#3cba78" d="M1175 183l6 12 6-12zM921 186l6 10 6-16z"/><path fill="#4ec66c" stroke="#4ec66c" d="M1163 182l6 11 6-10zM1151 180l6 14 6-12zM1115 183l6 11 6-14zM1018 182l6 14 6-13z"/><path fill="#6cd25a" stroke="#6cd25a" d="M994 180l6 13 6-13z"/><path fill="#36b47e" stroke="#36b47e" d="M1474 180l-5 14 12-3z"/><path fill="#2ab484" stroke="#2ab484" d="M1463 179l-6 13 12 2z"/><path fill="#36ba78" stroke="#36ba78" d="M1451 176l-6 18 12-2zM1295 180l-5 13 12 0zM1042 182l-6 12 12 0z"/><path fill="#3cc078" stroke="#3cc078" d="M1439 179l-6 12 12 3zM1331 179l-5 13 12 1zM957 182l-6 12 12-1z"/><path fill="#54c066" stroke="#54c066" d="M1415 183l-6 10 8-12zM1127 180l-6 14 5-13z"/><path fill="#84d248" stroke="#84d248" d="M1415 183l2-2 5-6z"/><path fill="#36ba7e" stroke="#36ba7e" d="M1403 179l-5 12 11 2zM1379 179l-5 13 11 2zM1151 180l-6 13 12 1zM1030 183l-6 13 12-2z"/><path fill="#30b47e" stroke="#30b47e" d="M1391 180l-6 14 13-3zM1367 182l-5 11 12-1zM1235 180l-5 12 12 2zM1175 183l-6 10 12 2zM1163 182l-6 12 12-1zM1115 183l-6 11 12 0zM1091 182l-6 12 12-1zM1018 182l-6 11 12 3zM1006 180l-6 13 12 0z"/><path fill="#cce424" stroke="#cce424" d="M1355 178l-5-6 7 9zM1283 178l-5-7 6 11z"/><path fill="#4ec06c" stroke="#4ec06c" d="M1343 179l-5 14 7-11z"/><path fill="#a2d836" stroke="#a2d836" d="M1343 179l2 3 5-10z"/><path fill="#2ab47e" stroke="#2ab47e" d="M1319 180l-5 16 12-4z"/><path fill="#2aae84" stroke="#2aae84" d="M1307 180l-5 13 12 3zM933 180l-6 16 12-1z"/><path fill="#60cc60" stroke="#60cc60" d="M1283 178l1 4 6 11zM1066 180l-1 1 7 11z"/><path fill="#54c666" stroke="#54c666" d="M1271 182l-5 10 6-12zM1054 180l-6 14 5-12z"/><path fill="#b4de2a" stroke="#b4de2a" d="M1271 182l1-2 6-9z"/><path fill="#3cba78" stroke="#3cba78" d="M1259 180l-5 14 12-2zM1247 178l-5 16 12 0zM1103 178l-6 15 12 1zM945 182l-6 13 12-1z"/><path fill="#42c078" stroke="#42c078" d="M1223 180l-6 14 13-2zM970 183l-7 10 12-1z"/><path fill="#a8de36" stroke="#a8de36" d="M1211 178l-6-4 7 8z"/><path fill="#60c660" stroke="#60c660" d="M1211 178l1 4 5 12z"/><path fill="#48c06c" stroke="#48c06c" d="M1199 183l-6 12 6-13z"/><path fill="#9cd83c" stroke="#9cd83c" d="M1199 183l0-1 6-8z"/><path fill="#24ae84" stroke="#24ae84" d="M1187 183l-6 12 12 0z"/><path fill="#c0de24" stroke="#c0de24" d="M1139 180l-6-10 6 11z"/><path fill="#66cc60" stroke="#66cc60" d="M1139 180l0 1 6 12zM994 180l-2 3 8 10z"/><path fill="#aede2a" stroke="#aede2a" d="M1127 180l-1 1 7-11z"/><path fill="#48c672" stroke="#48c672" d="M1079 179l-7 13 13 2z"/><path fill="#bade2a" stroke="#bade2a" d="M1066 180l-7-9 6 10zM994 180l-8-10 6 13z"/><path fill="#ccde24" stroke="#ccde24" d="M1054 180l-1 2 6-11z"/><path fill="#249690" stroke="#249690" d="M1469 194l6 13 6-16zM1374 192l6 14 5-12zM1326 192l6 17 6-16zM1314 196l6 13 6-17zM1242 194l6 16 6-16zM1230 192l6 17 6-15zM1157 194l6 14 6-15zM1145 193l6 16 6-15zM1085 194l6 17 6-18zM1036 194l6 14 6-14zM1024 196l6 13 6-15zM1012 193l6 17 6-14zM951 194l6 15 6-16zM939 195l6 14 6-15zM927 196l6 14 6-15z"/><path fill="#249c90" stroke="#249c90" d="M1457 192l7 14 5-12zM1398 191l6 15 5-13zM1254 194l6 14 6-16zM1109 194l6 14 6-14z"/><path fill="#249090" stroke="#249090" d="M1445 194l7 13 5-15zM1302 193l6 15 6-12zM1217 194l7 15 6-17zM1181 195l6 13 6-13zM1169 193l6 17 6-15z"/><path fill="#249c8a" stroke="#249c8a" d="M1433 191l7 15 5-12zM1385 194l7 14 6-17zM1362 193l6 15 6-16zM1290 193l6 14 6-14zM1097 193l6 13 6-12zM1072 192l7 16 6-14zM1000 193l6 17 6-17zM963 193l6 15 6-16z"/><path fill="#2a8490" stroke="#2a8490" d="M1469 194l-5 12 11 1zM1445 194l-5 12 12 1zM1254 194l-6 16 12-2zM1230 192l-6 17 12 0zM1097 193l-6 18 12-5zM939 195l-6 15 12-1z"/><path fill="#248a90" stroke="#248a90" d="M1457 192l-5 15 12-1zM1398 191l-6 17 12-2zM1385 194l-5 12 12 2zM1374 192l-6 16 12-2zM1302 193l-6 14 12 1zM1157 194l-6 15 12-1zM1109 194l-6 12 12 2zM1036 194l-6 15 12-1zM963 193l-6 16 12-1z"/><path fill="#d2de24" stroke="#d2de24" d="M1422 175l-5 6 8-8z"/><path fill="#1e968a" stroke="#1e968a" d="M1409 193l-5 13 8-10zM1048 194l-6 14 5-12z"/><path fill="#36b478" stroke="#36b478" d="M1409 193l3 3 5-15zM1338 193l1 3 6-14zM1266 192l0 4 6-16zM1048 194l-1 2 6-14z"/><path fill="#bade2a" stroke="#bade2a" d="M1350 172l-5 10 7-8zM1278 171l-6 9 7-5zM1278 171l1 4 5 7zM1133 170l-1 3 7 8zM986 170l-2 0 8 13z"/><path fill="#c0e424" stroke="#c0e424" d="M1350 172l2 2 5 7z"/><path fill="#1e908a" stroke="#1e908a" d="M1338 193l-6 16 7-13z"/><path fill="#2a7e90" stroke="#2a7e90" d="M1326 192l-6 17 12 0zM1314 196l-6 12 12 1zM1242 194l-6 15 12 1zM1181 195l-6 15 12-2zM1085 194l-6 14 12 3zM1024 196l-6 14 12-1z"/><path fill="#30b47e" stroke="#30b47e" d="M1290 193l-6-11 7 14zM1217 194l-5-12 6 13z"/><path fill="#24968a" stroke="#24968a" d="M1290 193l1 3 5 11zM1266 192l-6 16 6-12zM1000 193l-2 2 8 15z"/><path fill="#24908a" stroke="#24908a" d="M1217 194l1 1 6 14zM1145 193l0 2 6 14z"/><path fill="#a8de36" stroke="#a8de36" d="M1205 174l-6 8 13 0z"/><path fill="#248a8a" stroke="#248a8a" d="M1193 195l-6 13 7-10zM1121 194l-6 14 5-13z"/><path fill="#2aae7e" stroke="#2aae7e" d="M1193 195l1 3 5-16z"/><path fill="#248490" stroke="#248490" d="M1169 193l-6 15 12 2zM1012 193l-6 17 12 0zM951 194l-6 15 12 0z"/><path fill="#3cba78" stroke="#3cba78" d="M1145 193l-6-12 6 14z"/><path fill="#c0de24" stroke="#c0de24" d="M1133 170l-7 11 6-8z"/><path fill="#3cba72" stroke="#3cba72" d="M1121 194l-1 1 6-14zM1000 193l-8-10 6 12z"/><path fill="#36ba78" stroke="#36ba78" d="M1072 192l-7-11 7 16z"/><path fill="#249c8a" stroke="#249c8a" d="M1072 192l0 5 7 11z"/><path fill="#c6de24" stroke="#c6de24" d="M1059 171l-6 11 6-6z"/><path fill="#c6e424" stroke="#c6e424" d="M1059 171l0 5 6 5z"/><path fill="#366090" stroke="#366090" d="M1464 206l6 17 5-16zM1308 208l6 17 6-16zM1224 209l6 15 6-15zM1175 210l7 14 5-16zM1163 208l7 17 5-15zM1091 211l6 15 6-20zM1079 208l6 17 6-14zM1030 209l6 16 6-17zM1006 210l6 15 6-15zM945 209l6 16 6-16zM933 210l6 15 6-16z"/><path fill="#306c90" stroke="#306c90" d="M1452 207l6 14 6-15zM1380 206l6 18 6-16zM1368 208l6 17 6-19zM1296 207l6 15 6-14zM1103 206l6 18 6-16z"/><path fill="#366690" stroke="#366690" d="M1440 206l6 17 6-16zM1248 210l6 14 6-16zM1151 209l6 15 6-16zM1018 210l6 17 6-18z"/><path fill="#306690" stroke="#306690" d="M1392 208l6 16 6-18zM957 209l6 17 6-18z"/><path fill="#365a90" stroke="#365a90" d="M1320 209l6 16 6-16zM1236 209l6 15 6-14z"/><path fill="#366090" stroke="#366090" d="M1464 206l-6 15 12 2zM1380 206l-6 19 12-1zM1296 207l1 3 5 12z"/><path fill="#3c5490" stroke="#3c5490" d="M1452 207l-6 16 12-2zM1320 209l-6 16 12 0zM1308 208l-6 14 12 3zM1163 208l-6 16 13 1zM1103 206l-6 20 12-2zM945 209l-6 16 12 0z"/><path fill="#4ec06c" stroke="#4ec06c" d="M1417 181l-5 15 8-12z"/><path fill="#aede30" stroke="#aede30" d="M1417 181l3 3 5-11zM1357 181l-5-7 7 10zM992 183l-8-13 6 12z"/><path fill="#365a8a" stroke="#365a8a" d="M1404 206l-6 18 8-13z"/><path fill="#247e8a" stroke="#247e8a" d="M1404 206l2 5 6-15zM1042 208l-1 5 6-17z"/><path fill="#3c548a" stroke="#3c548a" d="M1392 208l-6 16 12 0zM1236 209l-6 15 12 0zM1175 210l-5 15 12-1z"/><path fill="#48c06c" stroke="#48c06c" d="M1357 181l2 3 4 10zM1272 180l-6 16 7-11zM1053 182l-6 14 5-11z"/><path fill="#4ec066" stroke="#4ec066" d="M1345 182l-6 14 7-12z"/><path fill="#9cd83c" stroke="#9cd83c" d="M1345 182l1 2 6-10zM1199 182l1 4 6-8z"/><path fill="#36608a" stroke="#36608a" d="M1332 209l-6 16 7-13zM1042 208l-6 17 5-12z"/><path fill="#2a788a" stroke="#2a788a" d="M1332 209l1 3 6-16z"/><path fill="#2a7290" stroke="#2a7290" d="M1296 207l-5-11 6 14z"/><path fill="#a2d836" stroke="#a2d836" d="M1272 180l1 5 6-10z"/><path fill="#30668a" stroke="#30668a" d="M1260 208l-6 16 7-14zM1187 208l-5 16 6-14zM1115 208l-6 16 5-13z"/><path fill="#24848a" stroke="#24848a" d="M1260 208l1 2 5-14zM1187 208l1 2 6-12z"/><path fill="#3c5a90" stroke="#3c5a90" d="M1248 210l-6 14 12 0zM957 209l-6 16 12 1z"/><path fill="#a2de3c" stroke="#a2de3c" d="M1212 182l-6-4 6 6z"/><path fill="#54c666" stroke="#54c666" d="M1212 182l0 2 6 11z"/><path fill="#42c06c" stroke="#42c06c" d="M1199 182l-5 16 6-12z"/><path fill="#2a7e90" stroke="#2a7e90" d="M1151 209l-6-14 6 16zM1006 210l-8-15 6 16z"/><path fill="#366690" stroke="#366690" d="M1151 209l0 2 6 13z"/><path fill="#bade2a" stroke="#bade2a" d="M1139 181l-7-8 6 10z"/><path fill="#5ac666" stroke="#5ac666" d="M1139 181l-1 2 7 12zM1065 181l-1 4 8 12zM992 183l-2-1 8 13z"/><path fill="#66cc5a" stroke="#66cc5a" d="M1126 181l-6 14 6-11z"/><path fill="#bade24" stroke="#bade24" d="M1126 181l0 3 6-11z"/><path fill="#248a8a" stroke="#248a8a" d="M1115 208l-1 3 6-16z"/><path fill="#3c4e8a" stroke="#3c4e8a" d="M1091 211l-6 14 12 1z"/><path fill="#248a90" stroke="#248a90" d="M1079 208l-7-11 6 15z"/><path fill="#306690" stroke="#306690" d="M1079 208l-1 4 7 13zM1006 210l-2 1 8 14z"/><path fill="#b4de30" stroke="#b4de30" d="M1065 181l-6-5 5 9z"/><path fill="#b4de2a" stroke="#b4de2a" d="M1053 182l-1 3 7-9z"/><path fill="#365a90" stroke="#365a90" d="M1030 209l-6 18 12-2zM1018 210l-6 15 12 2z"/><path fill="#66c65a" stroke="#66c65a" d="M980 180l-7 13 5-9z"/><path fill="#a8d836" stroke="#a8d836" d="M980 180l-2 4 6-14z"/><path fill="#42428a" stroke="#42428a" d="M1458 221l6 19 6-17zM1170 225l6 18 6-19z"/><path fill="#423c84" stroke="#423c84" d="M1446 223l6 17 6-19zM1386 224l6 17 6-17zM1242 224l6 17 6-17zM1230 224l6 17 6-17zM1012 225l6 17 6-15zM951 225l6 17 6-16zM939 225l6 18 6-18z"/><path fill="#483684" stroke="#483684" d="M1374 225l6 15 6-16zM1314 225l6 16 6-16zM1024 227l6 15 6-17z"/><path fill="#42488a" stroke="#42488a" d="M1302 222l6 20 6-17z"/><path fill="#424284" stroke="#424284" d="M1157 224l7 18 6-17zM1097 226l6 15 6-17zM1085 225l6 17 6-16z"/><path fill="#48367e" stroke="#48367e" d="M1458 221l-6 19 12 0zM1097 226l-6 16 12-1z"/><path fill="#42c072" stroke="#42c072" d="M1436 191l-4-9 6 14zM998 195l-8-13 6 14z"/><path fill="#c0de24" stroke="#c0de24" d="M1425 173l-5 11 7-7z"/><path fill="#c0e42a" stroke="#c0e42a" d="M1425 173l2 4 5 5z"/><path fill="#248a8a" stroke="#248a8a" d="M1412 196l-6 15 8-15zM1339 196l-6 16 8-15zM1194 198l-6 12 6-9z"/><path fill="#30ae78" stroke="#30ae78" d="M1412 196l2 0 6-12z"/><path fill="#42367e" stroke="#42367e" d="M1398 224l-6 17 8-15zM1036 225l-6 17 5-14z"/><path fill="#3c4e8a" stroke="#3c4e8a" d="M1398 224l2 2 6-15zM1254 224l1 3 6-17zM1109 224l-1 4 6-17zM1012 225l-8-14 6 18z"/><path fill="#423c84" stroke="#423c84" d="M1386 224l-6 16 12 1zM1326 225l-6 16 8-15zM1302 222l1 3 5 17zM1230 224l0 3 6 14zM1182 224l-6 19 6-16zM1109 224l-6 17 5-13zM1085 225l-1 2 7 15zM1012 225l-2 4 8 13z"/><path fill="#36ba78" stroke="#36ba78" d="M1363 194l-4-10 6 14z"/><path fill="#24968a" stroke="#24968a" d="M1363 194l2 4 5 11zM1218 195l0 3 6 11zM973 193l-6 19 5-12z"/><path fill="#bade24" stroke="#bade24" d="M1352 174l-6 10 8-7zM1279 175l-6 10 7-8z"/><path fill="#b4de30" stroke="#b4de30" d="M1352 174l2 3 5 7z"/><path fill="#2aae7e" stroke="#2aae7e" d="M1339 196l2 1 5-13z"/><path fill="#36548a" stroke="#36548a" d="M1326 225l2 1 5-14zM1182 224l0 3 6-17zM1157 224l-6-13 6 17zM1036 225l-1 3 6-15z"/><path fill="#48307e" stroke="#48307e" d="M1314 225l-6 17 12-1zM1242 224l-6 17 12 0zM1170 225l-6 17 12 1zM951 225l-6 18 12-1z"/><path fill="#3c548a" stroke="#3c548a" d="M1302 222l-5-12 6 15zM1230 224l-6-15 6 18z"/><path fill="#aede36" stroke="#aede36" d="M1279 175l1 2 6 5z"/><path fill="#1e908a" stroke="#1e908a" d="M1266 196l-5 14 6-14z"/><path fill="#36b478" stroke="#36b478" d="M1266 196l1 0 6-11z"/><path fill="#424284" stroke="#424284" d="M1254 224l-6 17 7-14zM1157 224l0 4 7 14z"/><path fill="#30ae7e" stroke="#30ae7e" d="M1218 195l-6-11 6 14z"/><path fill="#a2d836" stroke="#a2d836" d="M1206 178l-6 8 6-7z"/><path fill="#aede30" stroke="#aede30" d="M1206 178l0 1 6 5z"/><path fill="#24a284" stroke="#24a284" d="M1194 198l0 3 6-15z"/><path fill="#3cba78" stroke="#3cba78" d="M1145 195l-7-12 7 15z"/><path fill="#249090" stroke="#249090" d="M1145 195l0 3 6 13z"/><path fill="#b4de2a" stroke="#b4de2a" d="M1132 173l-6 11 6-9z"/><path fill="#cce424" stroke="#cce424" d="M1132 173l0 2 6 8zM1059 176l-2-2 7 11zM984 170l-1 7 7 5z"/><path fill="#365a8a" stroke="#365a8a" d="M1085 225l-7-13 6 15z"/><path fill="#2aae84" stroke="#2aae84" d="M1072 197l-8-12 7 14z"/><path fill="#248a90" stroke="#248a90" d="M1072 197l-1 2 7 13z"/><path fill="#483684" stroke="#483684" d="M1024 227l-6 15 12 0z"/><path fill="#249c8a" stroke="#249c8a" d="M998 195l-2 1 8 15z"/><path fill="#d2e424" stroke="#d2e424" d="M984 170l-6 14 5-7z"/><path fill="#3cba72" stroke="#3cba72" d="M973 193l-1 7 6-16z"/><path fill="#482478" stroke="#482478" d="M1452 240l6 17 6-17zM1380 240l6 17 6-16zM1308 242l6 17 6-18z"/><path fill="#482a7e" stroke="#482a7e" d="M1236 241l6 17 6-17z"/><path fill="#482a78" stroke="#482a78" d="M1164 242l6 17 6-16zM1091 242l6 17 6-18zM1018 242l6 15 6-15zM945 243l6 18 6-19z"/><path fill="#48307e" stroke="#48307e" d="M1452 240l-4-14 7 17zM1236 241l-6-14 7 16zM1091 242l-7-15 6 18z"/><path fill="#482a78" stroke="#482a78" d="M1452 240l3 3 3 14zM1392 241l2 2 6-17zM1320 241l-6 18 8-15zM1236 241l1 2 5 15zM1103 241l-1 3 6-16zM1018 242l-1 2 7 13z"/><path fill="#a8de36" stroke="#a8de36" d="M1432 182l-5-5 7 9z"/><path fill="#4ec066" stroke="#4ec066" d="M1420 184l-6 12 8-13z"/><path fill="#a8d830" stroke="#a8d830" d="M1420 184l2-1 5-6z"/><path fill="#365a8a" stroke="#365a8a" d="M1406 211l-6 15 8-12zM1333 212l-5 14 7-16zM1261 210l-6 17 6-15zM1188 210l-6 17 6-14z"/><path fill="#2a788a" stroke="#2a788a" d="M1406 211l2 3 6-18z"/><path fill="#482472" stroke="#482472" d="M1392 241l-6 16 8-14zM1248 241l-6 17 7-15zM957 242l-6 19 4-16z"/><path fill="#2a7890" stroke="#2a7890" d="M1370 209l-5-11 6 16z"/><path fill="#366090" stroke="#366090" d="M1370 209l1 5 5 11zM1151 211l0 2 6 15zM1078 212l-1 0 7 15zM1004 211l-1 2 7 16z"/><path fill="#5ac660" stroke="#5ac660" d="M1346 184l-5 13 7-12zM1126 184l-6 12 6-11z"/><path fill="#9cd836" stroke="#9cd836" d="M1346 184l2 1 6-8z"/><path fill="#2a7e8a" stroke="#2a7e8a" d="M1333 212l2-2 6-13z"/><path fill="#42367e" stroke="#42367e" d="M1320 241l2 3 6-18zM1164 242l-7-14 7 15zM957 242l-2 3 6-17z"/><path fill="#bae42a" stroke="#bae42a" d="M1286 182l-6-5 7 6z"/><path fill="#42c072" stroke="#42c072" d="M1273 185l-6 11 7-10zM1212 184l0 3 6 11zM978 184l-6 16 4-12z"/><path fill="#90d242" stroke="#90d242" d="M1273 185l1 1 6-9z"/><path fill="#247e8a" stroke="#247e8a" d="M1261 210l0 2 6-16zM1114 211l0 2 6-17z"/><path fill="#423c7e" stroke="#423c7e" d="M1248 241l1 2 6-16z"/><path fill="#248490" stroke="#248490" d="M1224 209l-6-11 7 13zM1151 211l-6-13 6 15zM1078 212l-7-13 6 13zM1004 211l-8-15 7 17z"/><path fill="#306c90" stroke="#306c90" d="M1224 209l1 2 5 16z"/><path fill="#90d842" stroke="#90d842" d="M1212 184l-6-5 6 8z"/><path fill="#48c06c" stroke="#48c06c" d="M1200 186l-6 15 6-16zM1064 185l-1 0 8 14z"/><path fill="#a2d836" stroke="#a2d836" d="M1200 186l0-1 6-6z"/><path fill="#24848a" stroke="#24848a" d="M1188 210l0 3 6-12z"/><path fill="#481e72" stroke="#481e72" d="M1176 243l-6 16 6-16zM1091 242l-1 3 7 14z"/><path fill="#42307e" stroke="#42307e" d="M1176 243l0 0 6-16z"/><path fill="#481e6c" stroke="#481e6c" d="M1164 242l0 1 6 16z"/><path fill="#bade2a" stroke="#bade2a" d="M1138 183l-6-8 6 9zM1064 185l-7-11 6 11z"/><path fill="#5ac666" stroke="#5ac666" d="M1138 183l0 1 7 14z"/><path fill="#b4de2a" stroke="#b4de2a" d="M1126 184l0 1 6-10z"/><path fill="#30608a" stroke="#30608a" d="M1114 211l-6 17 6-15z"/><path fill="#423078" stroke="#423078" d="M1103 241l-6 18 5-15z"/><path fill="#482478" stroke="#482478" d="M1030 242l-6 15 5-12z"/><path fill="#483078" stroke="#483078" d="M1018 242l-8-13 7 15z"/><path fill="#cce424" stroke="#cce424" d="M990 182l-7-5 5 7z"/><path fill="#66cc5a" stroke="#66cc5a" d="M990 182l-2 2 8 12z"/><path fill="#96d842" stroke="#96d842" d="M978 184l-2 4 7-11z"/><path fill="#3c4e8a" stroke="#3c4e8a" d="M1448 226l-3-13 6 13zM1157 228l-6-15 6 17zM1035 228l-1 3 6-16z"/><path fill="#42428a" stroke="#42428a" d="M1448 226l3 0 4 17z"/><path fill="#c0de24" stroke="#c0de24" d="M1427 177l-5 6 8-7zM1280 177l-6 9 7-11zM1132 175l-6 10 5-7z"/><path fill="#1e908a" stroke="#1e908a" d="M1414 196l-6 18 8-17zM1267 196l-6 16 7-13z"/><path fill="#3cba72" stroke="#3cba72" d="M1414 196l2 1 6-14z"/><path fill="#42367e" stroke="#42367e" d="M1400 226l-6 17 8-15zM1255 227l-6 16 7-15zM1157 228l0 2 7 13z"/><path fill="#3c548a" stroke="#3c548a" d="M1400 226l2 2 6-14zM1328 226l1 3 6-19zM1230 227l-5-16 6 18zM1084 227l-7-15 6 17z"/><path fill="#b4de2a" stroke="#b4de2a" d="M1354 177l-6 8 8-9z"/><path fill="#24968a" stroke="#24968a" d="M1341 197l-6 13 7-9zM1218 198l1 3 6 10z"/><path fill="#30ae78" stroke="#30ae78" d="M1341 197l1 4 6-16zM1046 198l-1 3 6-15z"/><path fill="#423c84" stroke="#423c84" d="M1328 226l-6 18 7-15zM1182 227l-6 16 6-15zM1084 227l-1 2 7 16zM1010 229l-1 0 8 15z"/><path fill="#30b478" stroke="#30b478" d="M1267 196l1 3 6-13z"/><path fill="#365a8a" stroke="#365a8a" d="M1255 227l1 1 5-16z"/><path fill="#424284" stroke="#424284" d="M1230 227l1 2 6 14zM1108 228l-6 16 6-14zM961 228l-6 17 4-15z"/><path fill="#2aae7e" stroke="#2aae7e" d="M1218 198l-6-11 7 14z"/><path fill="#96de42" stroke="#96de42" d="M1206 179l-6 6 12 2z"/><path fill="#36548a" stroke="#36548a" d="M1182 227l0 1 6-15zM1108 228l0 2 6-17zM1010 229l-7-16 6 16zM961 228l-2 2 6-17z"/><path fill="#36ba78" stroke="#36ba78" d="M1145 198l-7-14 6 15z"/><path fill="#24908a" stroke="#24908a" d="M1145 198l-1 1 7 14zM1046 198l-6 17 5-14z"/><path fill="#bade2a" stroke="#bade2a" d="M1132 175l-1 3 7 6zM983 177l-7 11 5-8z"/><path fill="#1e968a" stroke="#1e968a" d="M1120 196l-6 17 5-14z"/><path fill="#30ae7e" stroke="#30ae7e" d="M1120 196l-1 3 7-14z"/><path fill="#36b478" stroke="#36b478" d="M1071 199l-8-14 7 16z"/><path fill="#248a90" stroke="#248a90" d="M1071 199l-1 2 7 11z"/><path fill="#d2e424" stroke="#d2e424" d="M1057 174l-6 12 12-1z"/><path fill="#3cba78" stroke="#3cba78" d="M996 196l-8-12 7 15z"/><path fill="#249c8a" stroke="#249c8a" d="M996 196l-1 3 8 14z"/><path fill="#c6e424" stroke="#c6e424" d="M983 177l-2 3 7 4z"/><path fill="#2a7e90" stroke="#2a7e90" d="M1445 213l-4-15 6 15zM1225 211l-6-10 6 13zM1003 213l-8-14 6 17z"/><path fill="#365a8a" stroke="#365a8a" d="M1445 213l2 0 4 13zM1408 214l-6 14 8-15z"/><path fill="#60c660" stroke="#60c660" d="M1422 183l-6 14 8-11zM1063 185l-1 2 8 14z"/><path fill="#b4de2a" stroke="#b4de2a" d="M1422 183l2 3 6-10zM1274 186l1 0 6-11z"/><path fill="#247e8a" stroke="#247e8a" d="M1408 214l2-1 6-16zM965 213l-2 3 7-16z"/><path fill="#bae42a" stroke="#bae42a" d="M1361 184l-5-8 6 11z"/><path fill="#48c06c" stroke="#48c06c" d="M1348 185l-6 16 8-13z"/><path fill="#bade2a" stroke="#bade2a" d="M1348 185l2 3 6-12zM1126 185l-1 2 6-9z"/><path fill="#36608a" stroke="#36608a" d="M1335 210l-6 19 8-15zM965 213l-6 17 4-14z"/><path fill="#2a788a" stroke="#2a788a" d="M1335 210l2 4 5-13z"/><path fill="#c6e424" stroke="#c6e424" d="M1287 183l-6-8 7 10zM1063 185l-7-11 6 13z"/><path fill="#66c65a" stroke="#66c65a" d="M1274 186l-6 13 7-13z"/><path fill="#30668a" stroke="#30668a" d="M1261 212l-5 16 6-15zM1188 213l-6 15 6-16z"/><path fill="#24848a" stroke="#24848a" d="M1261 212l1 1 6-14zM1188 213l0-1 6-15z"/><path fill="#366090" stroke="#366090" d="M1225 211l0 3 6 15zM1077 212l-1 2 7 15zM1003 213l-2 3 8 13z"/><path fill="#96d842" stroke="#96d842" d="M1212 187l-6-8 7 11z"/><path fill="#4ec66c" stroke="#4ec66c" d="M1212 187l1 3 6 11z"/><path fill="#6ccc5a" stroke="#6ccc5a" d="M1200 185l-6 12 6-12z"/><path fill="#aede30" stroke="#aede30" d="M1200 185l0 0 6-6z"/><path fill="#248490" stroke="#248490" d="M1151 213l-7-14 7 15zM1077 212l-7-11 6 13z"/><path fill="#3c548a" stroke="#3c548a" d="M1151 213l0 1 6 16z"/><path fill="#a8de36" stroke="#a8de36" d="M1138 184l-7-6 7 14z"/><path fill="#42c072" stroke="#42c072" d="M1138 184l0 8 6 7z"/><path fill="#5ac666" stroke="#5ac666" d="M1126 185l-7 14 6-12zM988 184l-1 4 8 11z"/><path fill="#a2de3c" stroke="#a2de3c" d="M988 184l-7-4 6 8z"/><path fill="#36ba78" stroke="#36ba78" d="M1441 198l-4-12 7 12zM995 199l-8-11 6 13z"/><path fill="#24908a" stroke="#24908a" d="M1441 198l3 0 3 15z"/><path fill="#c0de24" stroke="#c0de24" d="M1430 176l-6 10 8-8zM1056 174l-6 13 5-9z"/><path fill="#1e968a" stroke="#1e968a" d="M1416 197l-6 16 9-16z"/><path fill="#36b478" stroke="#36b478" d="M1416 197l3 0 5-11z"/><path fill="#bade24" stroke="#bade24" d="M1356 176l-6 12 7-11z"/><path fill="#1e908a" stroke="#1e908a" d="M1342 201l-5 13 7-15zM970 200l-7 16 5-16z"/><path fill="#2aae7e" stroke="#2aae7e" d="M1342 201l2-2 6-11zM1219 201l-6-11 6 12zM970 200l-2 0 6-11z"/><path fill="#3cba78" stroke="#3cba78" d="M1293 198l-5-13 6 15zM1070 201l-8-14 7 13z"/><path fill="#249c8a" stroke="#249c8a" d="M1293 198l1 2 5 12z"/><path fill="#bae42a" stroke="#bae42a" d="M1281 175l-6 11 13-1z"/><path fill="#249c84" stroke="#249c84" d="M1268 199l-6 14 7-14zM1194 197l-6 15 6-12z"/><path fill="#3cba72" stroke="#3cba72" d="M1268 199l1 0 6-13z"/><path fill="#248a90" stroke="#248a90" d="M1219 201l0 1 6 12z"/><path fill="#a8de36" stroke="#a8de36" d="M1206 179l-6 6 13 5z"/><path fill="#4ec06c" stroke="#4ec06c" d="M1194 197l0 3 6-15z"/><path fill="#30b47e" stroke="#30b47e" d="M1144 199l-6-7 6 12z"/><path fill="#24968a" stroke="#24968a" d="M1144 199l0 5 7 10zM1070 201l-1-1 7 14zM995 199l-2 2 8 15z"/><path fill="#a2de3c" stroke="#a2de3c" d="M1131 178l-6 9 13 5z"/><path fill="#bade2a" stroke="#bade2a" d="M1056 174l-1 4 7 9z"/><path fill="#c6e424" stroke="#c6e424" d="M981 180l-2-1 8 9z"/><path fill="#c0e42a" stroke="#c0e42a" d="M1437 186l-5-8 7 10z"/><path fill="#60c660" stroke="#60c660" d="M1437 186l2 2 5 10z"/><path fill="#72cc54" stroke="#72cc54" d="M1424 186l-5 11 8-9z"/><path fill="#a8d836" stroke="#a8d836" d="M1424 186l3 2 5-10z"/><path fill="#54c066" stroke="#54c066" d="M1350 188l-6 11 8-11zM974 189l-6 11 4-15z"/><path fill="#a8d830" stroke="#a8d830" d="M1350 188l2 0 5-11z"/><path fill="#c6e424" stroke="#c6e424" d="M1288 185l-6-5 7 8z"/><path fill="#66cc60" stroke="#66cc60" d="M1288 185l1 3 5 12zM987 188l-2 1 8 12z"/><path fill="#6ccc54" stroke="#6ccc54" d="M1275 186l-6 13 7-12z"/><path fill="#a8de30" stroke="#a8de30" d="M1275 186l1 1 6-7z"/><path fill="#6ccc5a" stroke="#6ccc5a" d="M1200 185l-6 15 7-13zM1125 187l-6 12 6-9z"/><path fill="#bade2a" stroke="#bade2a" d="M1200 185l1 2 6-7z"/><path fill="#c0de24" stroke="#c0de24" d="M1125 187l0 3 6-12z"/><path fill="#aede30" stroke="#aede30" d="M1062 187l-7-9 6 10z"/><path fill="#60cc60" stroke="#60cc60" d="M1062 187l-1 1 8 12z"/><path fill="#4ec06c" stroke="#4ec06c" d="M1050 187l-7 14 6-10z"/><path fill="#aed830" stroke="#aed830" d="M1050 187l-1 4 6-13zM974 189l-2-4 7-6z"/><path fill="#a8de36" stroke="#a8de36" d="M987 188l-8-9 6 10z"/><path fill="#b4de2a" stroke="#b4de2a" d="M1432 178l-5 10 8-7z"/><path fill="#c0e424" stroke="#c0e424" d="M1432 178l3 3 4 7z"/><path fill="#b4e430" stroke="#b4e430" d="M1357 177l-5 11 12 1zM1282 180l-6 7 13 1zM1207 180l-6 7 12 3zM1055 178l-6 13 12-3z"/><path fill="#bae42a" stroke="#bae42a" d="M1131 178l-6 12 12-2z"/><path fill="#c6de24" stroke="#c6de24" d="M979 179l-7 6 5-6z"/><path fill="#b4de30" stroke="#b4de30" d="M979 179l-2 0 8 10z"/><path fill="#c0de24" stroke="#c0de24" d="M1427 188l-5-6 13-1z"/><path fill="#a2d836" stroke="#a2d836" d="M1364 189l2 2 6-10z"/><path fill="#bade2a" stroke="#bade2a" d="M1352 188l-5-8 6 11zM1137 188l-6-6 6 8zM1061 188l-1 2 7-8z"/><path fill="#9cd83c" stroke="#9cd83c" d="M1352 188l1 3 6-10zM1289 188l1 1 6-6zM1125 190l-1 1 7-9z"/><path fill="#aed830" stroke="#aed830" d="M1327 190l1-1 6-9z"/><path fill="#bae42a" stroke="#bae42a" d="M1276 187l-5-7 6 10z"/><path fill="#b4de2a" stroke="#b4de2a" d="M1276 187l1 3 6-10z"/><path fill="#aede30" stroke="#aede30" d="M1213 190l-6-8 7 8zM1201 187l-7-8 7 12zM1137 188l0 2 6-7zM1061 188l-7-4 6 6z"/><path fill="#a8d830" stroke="#a8d830" d="M1213 190l1 0 6-9z"/><path fill="#c6e424" stroke="#c6e424" d="M1201 187l0 4 6-9zM1087 186l-7-5 6 12z"/><path fill="#90d848" stroke="#90d848" d="M1125 190l-7-5 6 6z"/><path fill="#a8de36" stroke="#a8de36" d="M1087 186l-1 7 6-12z"/><path fill="#9cde3c" stroke="#9cde3c" d="M1049 191l-8-5 6 5z"/><path fill="#b4d82a" stroke="#b4d82a" d="M985 189l-8-10 13 2z"/><path fill="#cce424" stroke="#cce424" d="M1422 182l7 10 6-11zM1296 183l7 9 6-10zM1182 182l6 8 6-11zM1028 181l7 12 6-7zM1015 180l7 11 6-10z"/><path fill="#aede36" stroke="#aede36" d="M1410 179l7 9 5-6zM1156 184l7 7 6-11z"/><path fill="#b4e430" stroke="#b4e430" d="M1397 183l7 8 6-12zM1233 178l6 11 6-12z"/><path fill="#c6e42a" stroke="#c6e42a" d="M1385 180l6 10 6-7z"/><path fill="#bae42a" stroke="#bae42a" d="M1372 181l7 8 6-9zM1309 182l6 8 6-9zM990 181l6 9 7-10zM977 179l6 11 7-9z"/><path fill="#c0e42a" stroke="#c0e42a" d="M1334 180l7 11 6-11zM1245 177l7 12 6-9zM1169 180l6 11 7-9zM1143 183l7 9 6-8zM1092 181l7 10 6-10z"/><path fill="#c0e424" stroke="#c0e424" d="M1258 180l7 10 6-10z"/><path fill="#d2e424" stroke="#d2e424" d="M1220 181l6 9 7-12zM1105 181l6 11 7-7z"/><path fill="#c6e424" stroke="#c6e424" d="M1067 182l6 11 7-12z"/><path fill="#a8de36" stroke="#a8de36" d="M1003 180l6 13 6-13zM1422 182l-5 6 12 4zM1118 185l-7 7 13-1zM1105 181l-6 10 12 1z"/><path fill="#c6e424" stroke="#c6e424" d="M1410 179l-6 12 13-3zM1003 180l-7 10 13 3z"/><path fill="#9cde42" stroke="#9cde42" d="M1397 183l-6 7 13 1z"/><path fill="#c0e42a" stroke="#c0e42a" d="M1385 180l-6 9 12 1zM1321 181l-6 9 13-1zM1220 181l-6 9 12 0z"/><path fill="#bae42a" stroke="#bae42a" d="M1372 181l-6 10 13-2zM1283 180l-6 10 13-1zM1233 178l-7 12 13-1zM1169 180l-6 11 12 0zM1143 183l-6 7 13 2z"/><path fill="#b4e430" stroke="#b4e430" d="M1359 181l-6 10 13 0zM1347 180l-6 11 12 0zM1334 180l-6 9 13 2zM1194 179l-6 11 13 1zM1182 182l-7 9 13-1zM1092 181l-6 12 13-2zM1067 182l-7 8 13 3zM1028 181l-6 10 13 2zM1015 180l-6 13 13-2zM990 181l-7 9 13 0z"/><path fill="#bae430" stroke="#bae430" d="M1309 182l-6 10 12-2zM1131 182l-7 9 13-1z"/><path fill="#a2de3c" stroke="#a2de3c" d="M1296 183l-6 6 13 3z"/><path fill="#aede36" stroke="#aede36" d="M1271 180l-6 10 12 0z"/><path fill="#d2ea24" stroke="#d2ea24" d="M1258 180l-6 9 13 1z"/><path fill="#cce424" stroke="#cce424" d="M1245 177l-6 12 13 0z"/><path fill="#aee430" stroke="#aee430" d="M1207 182l-6 9 13-1z"/><path fill="#96de42" stroke="#96de42" d="M1156 184l-6 8 13-1z"/><path fill="#9cde3c" stroke="#9cde3c" d="M1080 181l-7 12 13 0zM1054 184l-7 7 13-1z"/><path fill="#8ad848" stroke="#8ad848" d="M1041 186l-6 7 12-2z"/><path fill="#60cc66" stroke="#60cc66" d="M1417 188l7 13 5-9zM1328 189l7 18 6-16zM1290 189l7 14 6-11zM1265 190l6 15 6-15z"/><path fill="#5acc66" stroke="#5acc66" d="M1404 191l7 13 6-16zM1252 189l6 16 7-15zM1239 189l7 16 6-16zM1163 191l6 14 6-14zM1137 190l6 15 7-13zM1009 193l6 13 7-15zM996 190l6 16 7-13z"/><path fill="#48c672" stroke="#48c672" d="M1391 190l7 15 6-14zM1379 189l6 17 6-16zM1303 192l6 14 6-16z"/><path fill="#6cd25a" stroke="#6cd25a" d="M1366 191l7 12 6-14zM983 190l6 13 7-13z"/><path fill="#4ec66c" stroke="#4ec66c" d="M1341 191l7 12 5-12z"/><path fill="#60cc60" stroke="#60cc60" d="M1315 190l7 14 6-15zM1226 190l7 16 6-17zM1111 192l7 11 6-12z"/><path fill="#54c66c" stroke="#54c66c" d="M1214 190l6 15 6-15zM1150 192l6 12 7-13zM1099 191l6 16 6-15zM1073 193l6 12 7-12zM1035 193l6 15 6-17zM1022 191l6 13 7-11z"/><path fill="#72d25a" stroke="#72d25a" d="M1188 190l7 11 6-10z"/><path fill="#66cc60" stroke="#66cc60" d="M1175 191l7 12 6-13zM1060 190l6 13 7-10z"/><path fill="#54c666" stroke="#54c666" d="M1086 193l6 12 7-14z"/><path fill="#3cba78" stroke="#3cba78" d="M1417 188l-6 16 13-3zM1303 192l-6 11 12 3zM1022 191l-7 15 13-2z"/><path fill="#30b47e" stroke="#30b47e" d="M1404 191l-6 14 13-1zM1239 189l-6 17 13-1zM1175 191l-6 14 13-2zM1163 191l-7 13 13 1zM1099 191l-7 14 13 2zM1035 193l-7 11 13 4z"/><path fill="#36ba7e" stroke="#36ba7e" d="M1391 190l-6 16 13-1zM1328 189l-6 15 13 3zM1315 190l-6 16 13-2zM1265 190l-7 15 13 0zM1086 193l-7 12 13 0zM1073 193l-7 10 13 2zM1009 193l-7 13 13 0z"/><path fill="#3cc078" stroke="#3cc078" d="M1379 189l-6 14 12 3zM1226 190l-6 15 13 1z"/><path fill="#9cd83c" stroke="#9cd83c" d="M1366 191l-5-7 7 9z"/><path fill="#4ec06c" stroke="#4ec06c" d="M1353 191l-5 12 7-10zM1277 190l-6 15 7-11z"/><path fill="#a8d836" stroke="#a8d836" d="M1353 191l2 2 6-9z"/><path fill="#2ab484" stroke="#2ab484" d="M1341 191l-6 16 13-4z"/><path fill="#b4de30" stroke="#b4de30" d="M1290 189l-6-9 7 13z"/><path fill="#5ac666" stroke="#5ac666" d="M1290 189l1 4 6 10z"/><path fill="#b4de2a" stroke="#b4de2a" d="M1277 190l1 4 6-14zM1214 190l-7-8 7 10z"/><path fill="#36b47e" stroke="#36b47e" d="M1252 189l-6 16 12 0z"/><path fill="#66cc5a" stroke="#66cc5a" d="M1214 190l0 2 6 13z"/><path fill="#72cc54" stroke="#72cc54" d="M1201 191l-6 10 6-11z"/><path fill="#bade24" stroke="#bade24" d="M1201 191l0-1 6-8z"/><path fill="#42c078" stroke="#42c078" d="M1188 190l-6 13 13-2zM1150 192l-7 13 13-1z"/><path fill="#bade2a" stroke="#bade2a" d="M1137 190l-7-5 7 8z"/><path fill="#60cc60" stroke="#60cc60" d="M1137 190l0 3 6 12z"/><path fill="#54c666" stroke="#54c666" d="M1124 191l-6 12 6-10z"/><path fill="#aede30" stroke="#aede30" d="M1124 191l0 2 6-8z"/><path fill="#36ba78" stroke="#36ba78" d="M1111 192l-6 15 13-4z"/><path fill="#c0e424" stroke="#c0e424" d="M1060 190l-7-7 6 9z"/><path fill="#66cc60" stroke="#66cc60" d="M1060 190l-1 2 7 11z"/><path fill="#48c06c" stroke="#48c06c" d="M1047 191l-6 17 5-14z"/><path fill="#a2d836" stroke="#a2d836" d="M1047 191l-1 3 7-11z"/><path fill="#42c072" stroke="#42c072" d="M996 190l-7 13 13 3z"/><path fill="#249690" stroke="#249690" d="M1411 204l7 15 6-18zM1398 205l7 16 6-17zM1373 203l7 15 5-12zM1309 206l7 14 6-16zM1258 205l7 15 6-15zM1233 206l7 13 6-14zM1220 205l7 15 6-14zM1156 204l7 18 6-17zM1092 205l7 16 6-14zM1079 205l7 17 6-17zM1028 204l6 17 7-13zM1002 206l7 14 6-14zM989 203l7 17 6-14z"/><path fill="#249090" stroke="#249090" d="M1385 206l7 14 6-15zM1297 203l6 18 6-15zM1246 205l6 17 6-17zM1143 205l7 16 6-17zM1015 206l7 16 6-18z"/><path fill="#249c8a" stroke="#249c8a" d="M1335 207l6 13 7-17zM1322 204l7 15 6-12zM1182 203l6 17 7-19zM1169 205l7 16 6-18zM1105 207l6 14 7-18zM1066 203l7 16 6-14z"/><path fill="#2a8490" stroke="#2a8490" d="M1411 204l-6 17 13-2zM1398 205l-6 15 13 1zM1385 206l-5 12 12 2zM1258 205l-6 17 13-2zM1233 206l-6 14 13-1zM1079 205l-6 14 13 3z"/><path fill="#30b47e" stroke="#30b47e" d="M1373 203l-5-10 7 15zM1297 203l-6-10 7 16zM1143 205l-6-12 6 13z"/><path fill="#24968a" stroke="#24968a" d="M1373 203l2 5 5 10zM1297 203l1 6 5 12zM1220 205l1 2 6 13zM1195 201l-7 19 7-12zM1066 203l0 6 7 10z"/><path fill="#b4de2a" stroke="#b4de2a" d="M1361 184l-6 9 8-6z"/><path fill="#aede30" stroke="#aede30" d="M1361 184l2 3 5 6z"/><path fill="#1e968a" stroke="#1e968a" d="M1348 203l-7 17 8-13z"/><path fill="#3cba72" stroke="#3cba72" d="M1348 203l1 4 6-14z"/><path fill="#248a90" stroke="#248a90" d="M1335 207l-6 12 12 1zM1309 206l-6 15 13-1zM1169 205l-6 17 13-1zM1156 204l-6 17 13 1zM1092 205l-6 17 13-1zM1028 204l-6 18 12-1zM1002 206l-6 14 13 0z"/><path fill="#248490" stroke="#248490" d="M1322 204l-6 16 13-1zM1105 207l-6 14 12 0zM1015 206l-6 14 13 2z"/><path fill="#bade24" stroke="#bade24" d="M1284 180l-6 14 8-8z"/><path fill="#b4de30" stroke="#b4de30" d="M1284 180l2 6 5 7z"/><path fill="#248a8a" stroke="#248a8a" d="M1271 205l-6 15 7-14z"/><path fill="#36b478" stroke="#36b478" d="M1271 205l1 1 6-12zM1195 201l0 7 6-18zM1118 203l-1 4 7-14z"/><path fill="#2a7e90" stroke="#2a7e90" d="M1246 205l-6 14 12 3zM1182 203l-6 18 12-1z"/><path fill="#30ae7e" stroke="#30ae7e" d="M1220 205l-6-13 7 15z"/><path fill="#c6e424" stroke="#c6e424" d="M1207 182l-6 8 13 2zM1130 185l0 2 7 6z"/><path fill="#24908a" stroke="#24908a" d="M1143 205l0 1 7 15z"/><path fill="#c0de24" stroke="#c0de24" d="M1130 185l-6 8 6-6z"/><path fill="#249c84" stroke="#249c84" d="M1118 203l-7 18 6-14z"/><path fill="#3cba78" stroke="#3cba78" d="M1066 203l-7-11 7 17z"/><path fill="#bade2a" stroke="#bade2a" d="M1053 183l-7 11 6-8z"/><path fill="#bae42a" stroke="#bae42a" d="M1053 183l-1 3 7 6z"/><path fill="#366090" stroke="#366090" d="M1405 221l6 18 7-20zM1392 220l7 17 6-16zM1303 221l7 15 6-16zM1240 219l6 19 6-16zM1150 221l7 17 6-16zM1099 221l6 18 6-18zM1086 222l6 17 7-18z"/><path fill="#366690" stroke="#366690" d="M1380 218l6 18 6-16zM1329 219l6 19 6-18zM1252 222l7 15 6-17zM1227 220l6 18 7-19zM1176 221l6 18 6-19zM1163 222l6 16 7-17zM1073 219l6 19 7-16zM1022 222l6 15 6-16zM996 220l6 17 7-17z"/><path fill="#365a90" stroke="#365a90" d="M1316 220l7 18 6-19zM1009 220l6 19 7-17z"/><path fill="#3c5490" stroke="#3c5490" d="M1405 221l-6 16 12 2zM1240 219l-7 19 13 0zM1086 222l-7 16 13 1zM1022 222l-7 17 13-2z"/><path fill="#3c5a90" stroke="#3c5a90" d="M1392 220l-6 16 13 1zM1316 220l-6 16 13 2zM1252 222l-6 16 13-1zM1163 222l-6 16 12 0z"/><path fill="#42ba72" stroke="#42ba72" d="M1355 193l-6 14 8-11z"/><path fill="#84d248" stroke="#84d248" d="M1355 193l2 3 6-9zM1278 194l1 1 7-9z"/><path fill="#365a8a" stroke="#365a8a" d="M1341 220l-6 18 8-16z"/><path fill="#24848a" stroke="#24848a" d="M1341 220l2 2 6-15zM1265 220l1 3 6-17zM1188 220l1 3 6-15zM1034 221l-1 3 6-17z"/><path fill="#3c548a" stroke="#3c548a" d="M1329 219l-6 19 12 0zM1176 221l-7 17 13 1zM1099 221l-7 18 13 0z"/><path fill="#2a7e90" stroke="#2a7e90" d="M1303 221l-5-12 7 14zM1227 220l-6-13 6 17z"/><path fill="#b4de30" stroke="#b4de30" d="M1291 193l-5-7 6 10z"/><path fill="#48c06c" stroke="#48c06c" d="M1291 193l1 3 6 13zM1278 194l-6 12 7-11z"/><path fill="#30668a" stroke="#30668a" d="M1265 220l-6 17 7-14zM1034 221l-6 16 5-13z"/><path fill="#366090" stroke="#366090" d="M1227 220l0 4 6 14zM1073 219l-1 3 7 16z"/><path fill="#c0de24" stroke="#c0de24" d="M1214 192l-6-11 6 14z"/><path fill="#54c666" stroke="#54c666" d="M1214 192l0 3 7 12z"/><path fill="#66c65a" stroke="#66c65a" d="M1201 190l-6 18 6-13z"/><path fill="#b4de2a" stroke="#b4de2a" d="M1201 190l0 5 7-14z"/><path fill="#36608a" stroke="#36608a" d="M1188 220l-6 19 7-16z"/><path fill="#248490" stroke="#248490" d="M1150 221l-7-15 7 15zM1073 219l-7-10 6 13z"/><path fill="#306690" stroke="#306690" d="M1150 221l0 0 7 17z"/><path fill="#a8de36" stroke="#a8de36" d="M1137 193l-7-6 6 7z"/><path fill="#5ac660" stroke="#5ac660" d="M1137 193l-1 1 7 12zM1124 193l-7 14 6-11z"/><path fill="#a8d836" stroke="#a8d836" d="M1124 193l-1 3 7-9z"/><path fill="#aede30" stroke="#aede30" d="M1059 192l-7-6 6 8z"/><path fill="#6ccc5a" stroke="#6ccc5a" d="M1059 192l-1 2 8 15z"/><path fill="#365a90" stroke="#365a90" d="M1009 220l-7 17 13 2z"/><path fill="#483684" stroke="#483684" d="M1399 237l6 17 6-15zM1079 238l7 18 6-17z"/><path fill="#424284" stroke="#424284" d="M1386 236l7 20 6-19zM1157 238l6 19 6-19z"/><path fill="#423c84" stroke="#423c84" d="M1323 238l6 16 6-16zM1310 236l6 18 7-16zM1246 238l7 17 6-18zM1233 238l7 17 6-17zM1169 238l7 18 6-17zM1092 239l7 17 6-17zM1015 239l7 19 6-21zM1002 237l7 20 6-18z"/><path fill="#482a7e" stroke="#482a7e" d="M1399 237l-6 19 12-2z"/><path fill="#bade2a" stroke="#bade2a" d="M1363 187l-6 9 8-9zM1130 187l-1-1 7 8z"/><path fill="#1e908a" stroke="#1e908a" d="M1349 207l-6 15 8-15zM1195 208l-6 15 6-15z"/><path fill="#2aae7e" stroke="#2aae7e" d="M1349 207l2 0 6-11z"/><path fill="#423c84" stroke="#423c84" d="M1335 238l-6 16 8-15zM1310 236l1 3 5 15zM1157 238l-1 2 7 17zM1092 239l-6 17 13 0zM1079 238l0 1 7 17z"/><path fill="#36548a" stroke="#36548a" d="M1335 238l2 1 6-17zM1259 237l1 2 6-16z"/><path fill="#48367e" stroke="#48367e" d="M1323 238l-7 16 13 0zM1169 238l-6 19 13-1zM1015 239l-6 18 13 1z"/><path fill="#366090" stroke="#366090" d="M1310 236l-5-13 6 16z"/><path fill="#c6de24" stroke="#c6de24" d="M1286 186l-7 9 8-7z"/><path fill="#c6e424" stroke="#c6e424" d="M1286 186l1 2 5 8z"/><path fill="#248a8a" stroke="#248a8a" d="M1272 206l-6 17 7-13z"/><path fill="#36b478" stroke="#36b478" d="M1272 206l1 4 6-15zM1221 207l-7-12 7 16zM1195 208l0 0 6-13zM1066 209l-8-15 6 16z"/><path fill="#42367e" stroke="#42367e" d="M1259 237l-6 18 7-16zM1182 239l-6 17 6-15zM1028 237l-6 21 5-16z"/><path fill="#482478" stroke="#482478" d="M1246 238l-6 17 13 0z"/><path fill="#365a8a" stroke="#365a8a" d="M1233 238l-6-14 7 16zM1105 239l0 1 6-19z"/><path fill="#424284" stroke="#424284" d="M1233 238l1 2 6 15zM1105 239l-6 17 6-16z"/><path fill="#24908a" stroke="#24908a" d="M1221 207l0 4 6 13zM1039 207l-6 17 5-14z"/><path fill="#c0de24" stroke="#c0de24" d="M1208 181l-7 14 7-9zM1052 186l-2-2 8 10z"/><path fill="#c0e424" stroke="#c0e424" d="M1208 181l0 5 6 9z"/><path fill="#3c4e8a" stroke="#3c4e8a" d="M1182 239l0 2 7-18zM1157 238l-7-17 6 19z"/><path fill="#3cba72" stroke="#3cba72" d="M1143 206l-7-12 7 14z"/><path fill="#24a28a" stroke="#24a28a" d="M1143 206l0 2 7 13z"/><path fill="#24968a" stroke="#24968a" d="M1117 207l-6 14 6-10zM1066 209l-2 1 8 12z"/><path fill="#24a884" stroke="#24a884" d="M1117 207l0 4 6-15z"/><path fill="#3c548a" stroke="#3c548a" d="M1079 238l-7-16 7 17zM1028 237l-1 5 6-18z"/><path fill="#3cb472" stroke="#3cb472" d="M1039 207l-1 3 7-15z"/><path fill="#482a78" stroke="#482a78" d="M1393 256l6 16 6-18zM1086 256l7 19 6-19z"/><path fill="#48307e" stroke="#48307e" d="M1316 254l7 19 6-19z"/><path fill="#482478" stroke="#482478" d="M1240 255l6 18 7-18zM1163 257l7 17 6-18zM1009 257l6 19 7-18z"/><path fill="#423c84" stroke="#423c84" d="M1393 256l-5-16 7 17z"/><path fill="#482478" stroke="#482478" d="M1393 256l2 1 4 15zM1176 256l0 3 6-18zM1163 257l0 0 7 17z"/><path fill="#4ec06c" stroke="#4ec06c" d="M1357 196l-6 11 8-11zM1214 195l1 3 6 13z"/><path fill="#a8d836" stroke="#a8d836" d="M1357 196l2 0 6-9z"/><path fill="#30608a" stroke="#30608a" d="M1343 222l-6 17 8-15zM1266 223l-6 16 7-14zM1111 221l-6 19 5-12z"/><path fill="#247e8a" stroke="#247e8a" d="M1343 222l2 2 6-17zM1111 221l-1 7 7-17zM1033 224l-1 4 6-18z"/><path fill="#481e72" stroke="#481e72" d="M1329 254l-6 19 8-15zM1176 256l-6 18 6-15zM1086 256l-1 3 8 16z"/><path fill="#42367e" stroke="#42367e" d="M1329 254l2 4 6-19zM1253 255l0 3 7-19zM1086 256l-7-17 6 20z"/><path fill="#366090" stroke="#366090" d="M1305 223l1 3 5 13zM1227 224l1 2 6 14z"/><path fill="#42ba72" stroke="#42ba72" d="M1279 195l-6 15 7-11z"/><path fill="#96d83c" stroke="#96d83c" d="M1279 195l1 4 7-11z"/><path fill="#2a7e8a" stroke="#2a7e8a" d="M1266 223l1 2 6-15zM1189 223l0 4 6-19z"/><path fill="#482a78" stroke="#482a78" d="M1253 255l-7 18 7-15zM1240 255l1 3 5 15zM1099 256l-6 19 5-16zM1022 258l-7 18 5-18zM1022 258l-2 0 7-16z"/><path fill="#483078" stroke="#483078" d="M1240 255l-6-15 7 18zM1163 257l-7-17 7 17z"/><path fill="#2a7890" stroke="#2a7890" d="M1227 224l-6-13 7 15zM1072 222l-8-12 7 16z"/><path fill="#a2de36" stroke="#a2de36" d="M1214 195l-6-9 7 12z"/><path fill="#54c066" stroke="#54c066" d="M1201 195l-6 13 7-14z"/><path fill="#365a8a" stroke="#365a8a" d="M1189 223l-7 18 7-14zM1033 224l-6 18 5-14z"/><path fill="#248490" stroke="#248490" d="M1150 221l-7-13 7 18z"/><path fill="#306690" stroke="#306690" d="M1150 221l0 5 6 14zM1072 222l-1 4 8 13z"/><path fill="#bade2a" stroke="#bade2a" d="M1136 194l-7-8 7 10z"/><path fill="#6ccc5a" stroke="#6ccc5a" d="M1136 194l0 2 7 12z"/><path fill="#4ec066" stroke="#4ec066" d="M1123 196l-6 15 6-13z"/><path fill="#84d248" stroke="#84d248" d="M1123 196l0 2 6-12z"/><path fill="#423078" stroke="#423078" d="M1099 256l-1 3 7-19z"/><path fill="#c6e424" stroke="#c6e424" d="M1058 194l-8-10 7 12z"/><path fill="#5ac666" stroke="#5ac666" d="M1058 194l-1 2 7 14z"/><path fill="#5ac660" stroke="#5ac660" d="M1045 195l-7 15 5-12z"/><path fill="#b4de2a" stroke="#b4de2a" d="M1045 195l-2 3 7-14z"/><path fill="#365a8a" stroke="#365a8a" d="M1388 240l-4-16 7 17zM1156 240l-6-14 6 17zM1079 239l-8-13 7 17z"/><path fill="#424284" stroke="#424284" d="M1388 240l3 1 4 16zM1260 239l-7 19 8-18zM1182 241l-6 18 6-17z"/><path fill="#b4de2a" stroke="#b4de2a" d="M1365 187l-6 9 8-8z"/><path fill="#1e908a" stroke="#1e908a" d="M1351 207l-6 17 8-11zM1195 208l-6 19 6-17z"/><path fill="#30b478" stroke="#30b478" d="M1351 207l2 6 6-17z"/><path fill="#423c84" stroke="#423c84" d="M1337 239l-6 19 8-16zM1079 239l-1 4 7 16z"/><path fill="#3c548a" stroke="#3c548a" d="M1337 239l2 3 6-18zM1260 239l1 1 6-15zM1105 240l-1 2 6-14z"/><path fill="#3cba78" stroke="#3cba78" d="M1299 208l-5-13 7 15z"/><path fill="#a2d836" stroke="#a2d836" d="M1287 188l-7 11 8-8z"/><path fill="#cce424" stroke="#cce424" d="M1287 188l1 3 6 4zM1129 186l0 0 7 10z"/><path fill="#24908a" stroke="#24908a" d="M1273 210l-6 15 7-13z"/><path fill="#30ae78" stroke="#30ae78" d="M1273 210l1 2 6-13zM1117 211l-1 2 7-15z"/><path fill="#30b47e" stroke="#30b47e" d="M1221 211l-6-13 7 15z"/><path fill="#24968a" stroke="#24968a" d="M1221 211l1 2 6 13zM1064 210l-1 0 8 16z"/><path fill="#b4e430" stroke="#b4e430" d="M1208 186l-6 8 13 4z"/><path fill="#42c06c" stroke="#42c06c" d="M1195 208l0 2 7-16z"/><path fill="#3c4e8a" stroke="#3c4e8a" d="M1182 241l0 1 7-15z"/><path fill="#42367e" stroke="#42367e" d="M1156 240l0 3 7 14z"/><path fill="#42ba72" stroke="#42ba72" d="M1143 208l-7-12 7 13z"/><path fill="#249c8a" stroke="#249c8a" d="M1143 208l0 1 7 17z"/><path fill="#248a8a" stroke="#248a8a" d="M1117 211l-7 17 6-15zM1038 210l-6 18 5-15z"/><path fill="#423c7e" stroke="#423c7e" d="M1105 240l-7 19 6-17zM1027 242l-7 16 5-16z"/><path fill="#42c072" stroke="#42c072" d="M1064 210l-7-14 6 14z"/><path fill="#bade24" stroke="#bade24" d="M1050 184l-7 14 6-10z"/><path fill="#c6e424" stroke="#c6e424" d="M1050 184l-1 4 8 8z"/><path fill="#30ae7e" stroke="#30ae7e" d="M1038 210l-1 3 6-15z"/><path fill="#3c4884" stroke="#3c4884" d="M1027 242l-2 0 7-14z"/><path fill="#2a7e90" stroke="#2a7e90" d="M1384 224l-5-15 7 16zM1228 226l-6-13 6 15z"/><path fill="#366090" stroke="#366090" d="M1384 224l2 1 5 16zM1071 226l-1 0 8 17z"/><path fill="#c0e42a" stroke="#c0e42a" d="M1372 194l-5-6 7 9z"/><path fill="#4ec066" stroke="#4ec066" d="M1359 196l-6 17 8-15zM1123 198l-7 15 6-14z"/><path fill="#a8d830" stroke="#a8d830" d="M1359 196l2 2 6-10z"/><path fill="#30668a" stroke="#30668a" d="M1345 224l-6 18 8-16zM1032 228l-7 14 5-14z"/><path fill="#2a7e8a" stroke="#2a7e8a" d="M1345 224l2 2 6-13z"/><path fill="#a8de36" stroke="#a8de36" d="M1294 195l-6-4 7 8zM1057 196l-8-8 7 13z"/><path fill="#4ec66c" stroke="#4ec66c" d="M1294 195l1 4 6 11z"/><path fill="#54c066" stroke="#54c066" d="M1280 199l-6 13 8-14z"/><path fill="#9cd83c" stroke="#9cd83c" d="M1280 199l2-1 6-7z"/><path fill="#306c8a" stroke="#306c8a" d="M1267 225l-6 15 7-15z"/><path fill="#247e8a" stroke="#247e8a" d="M1267 225l1 0 6-13z"/><path fill="#366690" stroke="#366690" d="M1228 226l0 2 7 13z"/><path fill="#aede30" stroke="#aede30" d="M1215 198l-6-11 6 14z"/><path fill="#3cba78" stroke="#3cba78" d="M1215 198l0 3 7 12z"/><path fill="#5ac660" stroke="#5ac660" d="M1202 194l-7 16 7-10z"/><path fill="#bade2a" stroke="#bade2a" d="M1202 194l0 6 7-13z"/><path fill="#30608a" stroke="#30608a" d="M1189 227l-7 15 7-15z"/><path fill="#2a788a" stroke="#2a788a" d="M1189 227l0 0 6-17z"/><path fill="#248490" stroke="#248490" d="M1150 226l-7-17 6 16z"/><path fill="#306690" stroke="#306690" d="M1150 226l-1-1 7 18z"/><path fill="#cce424" stroke="#cce424" d="M1136 196l-7-10 7 12z"/><path fill="#66cc5a" stroke="#66cc5a" d="M1136 196l0 2 7 11z"/><path fill="#aed830" stroke="#aed830" d="M1123 198l-1 1 7-13z"/><path fill="#365a8a" stroke="#365a8a" d="M1110 228l-6 14 6-13z"/><path fill="#2a728a" stroke="#2a728a" d="M1110 228l0 1 6-16z"/><path fill="#248a8a" stroke="#248a8a" d="M1071 226l-8-16 7 16z"/><path fill="#60cc60" stroke="#60cc60" d="M1057 196l-1 5 7 9z"/><path fill="#b4de2a" stroke="#b4de2a" d="M1043 198l-1 2 7-12z"/><path fill="#24848a" stroke="#24848a" d="M1032 228l-2 0 7-15z"/><path fill="#3cba78" stroke="#3cba78" d="M1379 209l-5-12 7 15z"/><path fill="#24968a" stroke="#24968a" d="M1379 209l2 3 5 13zM1301 210l1 4 5 12zM1063 210l-1 4 8 12z"/><path fill="#c0de24" stroke="#c0de24" d="M1367 188l-6 10 8-10z"/><path fill="#1e968a" stroke="#1e968a" d="M1353 213l-6 13 8-12zM1274 212l-6 13 7-15zM1195 210l-6 17 7-13z"/><path fill="#2aae7e" stroke="#2aae7e" d="M1353 213l2 1 6-16zM1195 210l1 4 6-14z"/><path fill="#36b47e" stroke="#36b47e" d="M1301 210l-6-11 7 15z"/><path fill="#a8de36" stroke="#a8de36" d="M1288 191l-6 7 13 1zM1209 187l-7 13 13 1z"/><path fill="#36b478" stroke="#36b478" d="M1274 212l1-2 7-12z"/><path fill="#24a884" stroke="#24a884" d="M1222 213l-7-12 7 13z"/><path fill="#24908a" stroke="#24908a" d="M1222 213l0 1 6 14z"/><path fill="#36ba78" stroke="#36ba78" d="M1143 209l-7-11 6 16zM1063 210l-7-9 6 13z"/><path fill="#249c8a" stroke="#249c8a" d="M1143 209l-1 5 7 11z"/><path fill="#c6e424" stroke="#c6e424" d="M1129 186l-7 13 14-1zM1049 188l-1 1 8 12z"/><path fill="#24848a" stroke="#24848a" d="M1116 213l-6 16 6-14z"/><path fill="#30b478" stroke="#30b478" d="M1116 213l0 2 6-16z"/><path fill="#1e908a" stroke="#1e908a" d="M1037 213l-7 15 5-12z"/><path fill="#30ae7e" stroke="#30ae7e" d="M1037 213l-2 3 7-16z"/><path fill="#aede30" stroke="#aede30" d="M1374 197l-5-9 7 11zM1295 199l-6-9 7 11z"/><path fill="#6ccc5a" stroke="#6ccc5a" d="M1374 197l2 2 5 13z"/><path fill="#4ec06c" stroke="#4ec06c" d="M1361 198l-6 16 8-13z"/><path fill="#c0de24" stroke="#c0de24" d="M1361 198l2 3 6-13z"/><path fill="#5ac660" stroke="#5ac660" d="M1282 198l-7 12 8-12z"/><path fill="#a8d830" stroke="#a8d830" d="M1282 198l1 0 6-8z"/><path fill="#7ed24e" stroke="#7ed24e" d="M1215 201l-6-7 7 9z"/><path fill="#48c06c" stroke="#48c06c" d="M1215 201l1 2 6 11zM1042 200l-7 16 6-13z"/><path fill="#54c666" stroke="#54c666" d="M1202 200l-6 14 6-12z"/><path fill="#8ad848" stroke="#8ad848" d="M1202 200l0 2 7-8z"/><path fill="#bade2a" stroke="#bade2a" d="M1136 198l-8-5 7 7zM1056 201l-8-12 6 10z"/><path fill="#60c660" stroke="#60c660" d="M1136 198l-1 2 7 14z"/><path fill="#4ec066" stroke="#4ec066" d="M1122 199l-6 16 6-14z"/><path fill="#a8d836" stroke="#a8d836" d="M1122 199l0 2 6-8z"/><path fill="#66cc60" stroke="#66cc60" d="M1056 201l-2-2 8 15z"/><path fill="#aed830" stroke="#aed830" d="M1042 200l-1 3 7-14z"/><path fill="#ccde24" stroke="#ccde24" d="M1369 188l-6 13 8-11z"/><path fill="#bade2a" stroke="#bade2a" d="M1369 188l2 2 5 9zM1048 189l-2-1 8 11z"/><path fill="#bae42a" stroke="#bae42a" d="M1289 190l-6 8 13 3z"/><path fill="#96de42" stroke="#96de42" d="M1209 194l-7 8 14 1z"/><path fill="#aede36" stroke="#aede36" d="M1128 193l-6 8 13-1z"/><path fill="#b4d82a" stroke="#b4d82a" d="M1048 189l-7 14 5-15z"/><path fill="#aed82a" stroke="#aed82a" d="M1363 201l-5-10 13-1z"/><path fill="#a8d830" stroke="#a8d830" d="M1296 201l2 1 6-9z"/><path fill="#c0e424" stroke="#c0e424" d="M1283 198l-6-8 7 13z"/><path fill="#d2e424" stroke="#d2e424" d="M1283 198l1 5 6-9z"/><path fill="#84d848" stroke="#84d848" d="M1216 203l-7-7 7 9z"/><path fill="#a2d836" stroke="#a2d836" d="M1216 203l0 2 7-16z"/><path fill="#b4de2a" stroke="#b4de2a" d="M1202 202l-6-10 7 11zM1135 200l0 3 7-9z"/><path fill="#96d842" stroke="#96d842" d="M1202 202l1 1 6-7z"/><path fill="#b4de30" stroke="#b4de30" d="M1135 200l-7-7 7 10z"/><path fill="#a2de36" stroke="#a2de36" d="M1122 201l-8-7 7 11z"/><path fill="#9cd83c" stroke="#9cd83c" d="M1122 201l-1 4 7-12z"/><path fill="#c0de24" stroke="#c0de24" d="M1054 199l-8-11 14 3z"/><path fill="#b4e430" stroke="#b4e430" d="M1358 191l7 10 6-11zM1223 189l7 15 6-12zM1101 193l7 13 6-12zM1087 193l7 10 7-10z"/><path fill="#c6e424" stroke="#c6e424" d="M1344 191l7 12 7-12zM1250 192l7 11 6-11zM1236 192l7 10 7-10zM1046 188l7 11 7-8z"/><path fill="#c6e42a" stroke="#c6e42a" d="M1331 192l7 7 6-8zM1155 193l7 9 7-8z"/><path fill="#c0e42a" stroke="#c0e42a" d="M1317 191l8 12 6-11z"/><path fill="#bae42a" stroke="#bae42a" d="M1304 193l7 11 6-13zM1263 192l7 12 7-14zM1142 194l6 12 7-13z"/><path fill="#d2e424" stroke="#d2e424" d="M1182 195l7 10 7-13zM1074 195l6 10 7-12z"/><path fill="#bae430" stroke="#bae430" d="M1169 194l7 9 6-8z"/><path fill="#aede36" stroke="#aede36" d="M1060 191l7 15 7-11z"/><path fill="#9cde3c" stroke="#9cde3c" d="M1358 191l-7 12 14-2zM1114 194l-6 12 13-1z"/><path fill="#bae42a" stroke="#bae42a" d="M1344 191l-6 8 13 4z"/><path fill="#b4e430" stroke="#b4e430" d="M1331 192l-6 11 13-4zM1290 194l-6 9 14-1zM1169 194l-7 8 14 1zM1087 193l-7 12 14-2z"/><path fill="#a2de3c" stroke="#a2de3c" d="M1317 191l-6 13 14-1zM1182 195l-6 8 13 2zM1128 193l-7 12 14-2z"/><path fill="#a8de36" stroke="#a8de36" d="M1304 193l-6 9 13 2zM1277 190l-7 14 14-1zM1142 194l-7 9 13 3z"/><path fill="#9cde42" stroke="#9cde42" d="M1263 192l-6 11 13 1zM1101 193l-7 10 14 3z"/><path fill="#aede30" stroke="#aede30" d="M1250 192l-7 10 14 1zM1155 193l-7 13 14-4z"/><path fill="#bae430" stroke="#bae430" d="M1236 192l-6 12 13-2z"/><path fill="#c0e42a" stroke="#c0e42a" d="M1223 189l-7 16 14-1zM1060 191l-7 8 14 7z"/><path fill="#90d848" stroke="#90d848" d="M1209 196l-6 7 13 2z"/><path fill="#b4de30" stroke="#b4de30" d="M1196 192l-7 13 14-2z"/><path fill="#96de42" stroke="#96de42" d="M1074 195l-7 11 13-1z"/><path fill="#66cc60" stroke="#66cc60" d="M1351 203l8 14 6-16z"/><path fill="#72d25a" stroke="#72d25a" d="M1338 199l7 17 6-13z"/><path fill="#5acc66" stroke="#5acc66" d="M1325 203l7 13 6-17zM1189 205l7 12 7-14zM1162 202l7 15 7-14z"/><path fill="#54cc66" stroke="#54cc66" d="M1311 204l7 14 7-15zM1176 203l6 15 7-13z"/><path fill="#48c672" stroke="#48c672" d="M1298 202l7 15 6-13zM1230 204l7 16 6-18zM1216 205l7 15 7-16zM1094 203l7 16 7-13zM1080 205l7 14 7-16zM1067 206l6 14 7-15z"/><path fill="#78d25a" stroke="#78d25a" d="M1270 204l8 10 6-11z"/><path fill="#54c66c" stroke="#54c66c" d="M1257 203l7 15 6-14z"/><path fill="#60cc66" stroke="#60cc66" d="M1243 202l7 17 7-16z"/><path fill="#54c666" stroke="#54c666" d="M1148 206l7 12 7-16z"/><path fill="#4ec66c" stroke="#4ec66c" d="M1135 203l7 16 6-13zM1053 199l7 19 7-12z"/><path fill="#42c078" stroke="#42c078" d="M1108 206l6 16 7-17z"/><path fill="#36ba78" stroke="#36ba78" d="M1351 203l-6 13 14 1zM1257 203l-7 16 14-1zM1162 202l-7 16 14-1zM1148 206l-6 13 13-1z"/><path fill="#48c672" stroke="#48c672" d="M1338 199l-6 17 13 0z"/><path fill="#30b47e" stroke="#30b47e" d="M1325 203l-7 15 14-2zM1311 204l-6 13 13 1zM1230 204l-7 16 14 0zM1080 205l-7 15 14-1zM1067 206l-7 12 13 2z"/><path fill="#9cde3c" stroke="#9cde3c" d="M1298 202l-6-3 7 9z"/><path fill="#4ec66c" stroke="#4ec66c" d="M1298 202l1 6 6 9z"/><path fill="#54c666" stroke="#54c666" d="M1284 203l-6 11 7-9z"/><path fill="#9cd83c" stroke="#9cd83c" d="M1284 203l1 2 7-6z"/><path fill="#42c078" stroke="#42c078" d="M1270 204l-6 14 14-4z"/><path fill="#36ba7e" stroke="#36ba7e" d="M1243 202l-6 18 13-1zM1189 205l-7 13 14-1z"/><path fill="#a8de36" stroke="#a8de36" d="M1216 205l-6-10 7 10z"/><path fill="#4ec066" stroke="#4ec066" d="M1203 203l-7 14 7-13z"/><path fill="#8ad248" stroke="#8ad248" d="M1203 203l0 1 7-9z"/><path fill="#3cc078" stroke="#3cc078" d="M1176 203l-7 14 13 1z"/><path fill="#b4de2a" stroke="#b4de2a" d="M1135 203l-8-9 7 10z"/><path fill="#4ec06c" stroke="#4ec06c" d="M1135 203l-1 1 8 15z"/><path fill="#24ae84" stroke="#24ae84" d="M1108 206l-7 13 13 3z"/><path fill="#3cba78" stroke="#3cba78" d="M1094 203l-7 16 14 0z"/><path fill="#249c8a" stroke="#249c8a" d="M1345 216l7 15 7-14zM1332 216l7 17 6-17zM1305 217l7 17 6-16zM1264 218l7 15 7-19z"/><path fill="#249690" stroke="#249690" d="M1318 218l7 16 7-18zM1250 219l7 15 7-16zM1182 218l7 16 7-17zM1169 217l7 17 6-16zM1155 218l7 17 7-18zM1101 219l7 17 6-14zM1087 219l7 15 7-15z"/><path fill="#248a90" stroke="#248a90" d="M1237 220l7 16 6-17z"/><path fill="#249090" stroke="#249090" d="M1223 220l7 16 7-16zM1142 219l7 16 6-17zM1073 220l7 17 7-18z"/><path fill="#249c90" stroke="#249c90" d="M1060 218l7 19 6-17z"/><path fill="#248a90" stroke="#248a90" d="M1345 216l-6 17 13-2zM1237 220l-7 16 14 0zM1182 218l-6 16 13 0z"/><path fill="#2a8490" stroke="#2a8490" d="M1332 216l-7 18 14-1zM1169 217l-7 18 14-1zM1155 218l-6 17 13 0zM1073 220l-6 17 13 0z"/><path fill="#248490" stroke="#248490" d="M1318 218l-6 16 13 0zM1264 218l-7 16 14-1zM1250 219l-6 17 13-2z"/><path fill="#30b47e" stroke="#30b47e" d="M1305 217l-6-9 7 13z"/><path fill="#24908a" stroke="#24908a" d="M1305 217l1 4 6 13zM1142 219l-1 1 8 15z"/><path fill="#84d84e" stroke="#84d84e" d="M1292 199l-7 6 14 3z"/><path fill="#24968a" stroke="#24968a" d="M1278 214l-7 19 8-13z"/><path fill="#42ba72" stroke="#42ba72" d="M1278 214l1 6 6-15z"/><path fill="#c0e42a" stroke="#c0e42a" d="M1210 195l-7 9 14 1z"/><path fill="#1e908a" stroke="#1e908a" d="M1196 217l-7 17 7-14z"/><path fill="#3cba72" stroke="#3cba72" d="M1196 217l0 3 7-16z"/><path fill="#36b478" stroke="#36b478" d="M1142 219l-8-15 7 16z"/><path fill="#c6e424" stroke="#c6e424" d="M1127 194l-6 8 13 2z"/><path fill="#2a7e90" stroke="#2a7e90" d="M1101 219l-7 15 14 2z"/><path fill="#2a7890" stroke="#2a7890" d="M1087 219l-7 18 14-3z"/><path fill="#306c90" stroke="#306c90" d="M1339 233l7 18 6-20zM1312 234l7 16 6-16z"/><path fill="#366690" stroke="#366690" d="M1325 234l7 20 7-21zM1257 234l7 17 7-18zM1230 236l7 16 7-16zM1176 234l7 17 6-17zM1149 235l7 18 6-18zM1080 237l7 17 7-20z"/><path fill="#366090" stroke="#366090" d="M1244 236l7 17 6-19zM1162 235l7 19 7-20zM1094 234l7 18 7-16zM1067 237l7 16 6-16z"/><path fill="#3c5a90" stroke="#3c5a90" d="M1339 233l-7 21 14-3zM1176 234l-7 20 14-3zM1162 235l-6 18 13 1z"/><path fill="#365a90" stroke="#365a90" d="M1325 234l-6 16 13 4z"/><path fill="#48c06c" stroke="#48c06c" d="M1285 205l-6 15 7-13z"/><path fill="#b4de2a" stroke="#b4de2a" d="M1285 205l1 2 7-11z"/><path fill="#30668a" stroke="#30668a" d="M1271 233l-7 18 8-14z"/><path fill="#247e8a" stroke="#247e8a" d="M1271 233l1 4 7-17zM1189 234l1 4 6-18z"/><path fill="#366090" stroke="#366090" d="M1257 234l-6 19 13-2z"/><path fill="#3c4e8a" stroke="#3c4e8a" d="M1244 236l-7 16 14 1zM1080 237l-6 16 13 1z"/><path fill="#9cde3c" stroke="#9cde3c" d="M1217 205l-7-7 7 10z"/><path fill="#3cba78" stroke="#3cba78" d="M1217 205l0 3 7 12z"/><path fill="#60c660" stroke="#60c660" d="M1203 204l-7 16 7-14z"/><path fill="#a8de36" stroke="#a8de36" d="M1203 204l0 2 7-8z"/><path fill="#365a8a" stroke="#365a8a" d="M1189 234l-6 17 7-13zM1149 235l-1 3 8 15zM1108 236l-7 16 6-12z"/><path fill="#2a7e90" stroke="#2a7e90" d="M1149 235l-8-15 7 18z"/><path fill="#b4de30" stroke="#b4de30" d="M1134 204l-7-11 7 14z"/><path fill="#66cc5a" stroke="#66cc5a" d="M1134 204l0 3 7 13z"/><path fill="#54c066" stroke="#54c066" d="M1121 202l-7 19 6-12z"/><path fill="#a8d830" stroke="#a8d830" d="M1121 202l-1 7 7-16z"/><path fill="#2a7e8a" stroke="#2a7e8a" d="M1108 236l-1 4 7-19z"/><path fill="#3c5490" stroke="#3c5490" d="M1094 234l-7 20 14-2z"/><path fill="#423c84" stroke="#423c84" d="M1332 254l7 18 7-21zM1319 250l7 21 6-17zM1251 253l7 18 6-20zM1156 253l7 19 6-18zM1074 253l7 20 6-19z"/><path fill="#424284" stroke="#424284" d="M1237 252l7 19 7-18z"/><path fill="#483684" stroke="#483684" d="M1169 254l7 17 7-20z"/><path fill="#42428a" stroke="#42428a" d="M1087 254l7 18 7-20z"/><path fill="#48307e" stroke="#48307e" d="M1332 254l-6 17 13 1zM1251 253l-7 18 14 0zM1087 254l-6 19 13-1z"/><path fill="#3c548a" stroke="#3c548a" d="M1319 250l-6-15 7 20zM1237 252l-6-16 7 19zM1183 251l0 4 7-17z"/><path fill="#423c84" stroke="#423c84" d="M1319 250l1 5 6 16zM1264 251l-6 20 7-15zM1156 253l-1 2 8 17z"/><path fill="#c0de24" stroke="#c0de24" d="M1293 196l-7 11 8-7zM1210 198l-7 8 8-8zM1127 193l-7 16 7-8z"/><path fill="#b4de30" stroke="#b4de30" d="M1293 196l1 4 6 6z"/><path fill="#1e968a" stroke="#1e968a" d="M1279 220l-7 17 8-17zM1196 220l-6 18 7-16z"/><path fill="#42ba72" stroke="#42ba72" d="M1279 220l1 0 6-13z"/><path fill="#365a8a" stroke="#365a8a" d="M1264 251l1 5 7-19zM1156 253l-8-15 7 17z"/><path fill="#424284" stroke="#424284" d="M1237 252l1 3 6 16z"/><path fill="#30b47e" stroke="#30b47e" d="M1224 220l-7-12 7 15z"/><path fill="#249090" stroke="#249090" d="M1224 220l0 3 7 13zM1141 220l0 7 7 11z"/><path fill="#36b478" stroke="#36b478" d="M1196 220l1 2 6-16z"/><path fill="#423c7e" stroke="#423c7e" d="M1183 251l-7 20 7-16z"/><path fill="#48367e" stroke="#48367e" d="M1169 254l-6 18 13-1z"/><path fill="#24a884" stroke="#24a884" d="M1141 220l-7-13 7 20z"/><path fill="#bade2a" stroke="#bade2a" d="M1127 193l0 8 7 6z"/><path fill="#42367e" stroke="#42367e" d="M1101 252l-7 20 6-16z"/><path fill="#36548a" stroke="#36548a" d="M1101 252l-1 4 7-16z"/><path fill="#482a78" stroke="#482a78" d="M1326 271l7 19 6-18z"/><path fill="#482478" stroke="#482478" d="M1244 271l7 20 7-20zM1081 273l7 19 6-20z"/><path fill="#482a7e" stroke="#482a7e" d="M1163 272l6 20 7-21z"/><path fill="#48307e" stroke="#48307e" d="M1326 271l-6-16 7 20zM1244 271l-6-16 7 21z"/><path fill="#482478" stroke="#482478" d="M1326 271l1 4 6 15z"/><path fill="#2a8490" stroke="#2a8490" d="M1313 235l-6-13 8 17z"/><path fill="#306c90" stroke="#306c90" d="M1313 235l2 4 5 16z"/><path fill="#a8de36" stroke="#a8de36" d="M1300 206l-6-6 8 8z"/><path fill="#54c666" stroke="#54c666" d="M1286 207l-6 13 8-10z"/><path fill="#a2d836" stroke="#a2d836" d="M1286 207l2 3 6-10z"/><path fill="#30608a" stroke="#30608a" d="M1272 237l-7 19 8-16zM1190 238l-7 17 7-15z"/><path fill="#2a788a" stroke="#2a788a" d="M1272 237l1 3 7-20zM1190 238l0 2 7-18z"/><path fill="#482472" stroke="#482472" d="M1258 271l-7 20 8-17zM1244 271l1 5 6 15zM1176 271l-7 21 7-17zM1163 272l-1 4 7 16zM1094 272l-6 20 5-18z"/><path fill="#42367e" stroke="#42367e" d="M1258 271l1 3 6-18zM1163 272l-8-17 7 21z"/><path fill="#2a7e90" stroke="#2a7e90" d="M1231 236l-7-13 8 14zM1148 238l-7-11 7 17z"/><path fill="#306690" stroke="#306690" d="M1231 236l1 1 6 18z"/><path fill="#a2de36" stroke="#a2de36" d="M1217 208l-6-10 7 11z"/><path fill="#4ec06c" stroke="#4ec06c" d="M1217 208l1 1 6 14zM1134 207l-1 1 8 19z"/><path fill="#60c660" stroke="#60c660" d="M1203 206l-6 16 7-13z"/><path fill="#bade2a" stroke="#bade2a" d="M1203 206l1 3 7-11z"/><path fill="#423078" stroke="#423078" d="M1176 271l0 4 7-20z"/><path fill="#366090" stroke="#366090" d="M1148 238l0 6 7 11z"/><path fill="#bae42a" stroke="#bae42a" d="M1134 207l-7-6 6 7z"/><path fill="#482a78" stroke="#482a78" d="M1094 272l-1 2 7-18z"/><path fill="#3c548a" stroke="#3c548a" d="M1320 255l-5-16 7 18zM1238 255l-6-18 7 22zM1183 255l0 3 7-18zM1155 255l-7-11 7 15z"/><path fill="#423c84" stroke="#423c84" d="M1320 255l2 2 5 18zM1238 255l1 4 6 17zM1183 255l-7 20 7-17zM1155 255l0 4 7 17zM1100 256l-7 18 6-16z"/><path fill="#3cba78" stroke="#3cba78" d="M1307 222l-5-14 7 17z"/><path fill="#24968a" stroke="#24968a" d="M1307 222l2 3 6 14z"/><path fill="#a2d836" stroke="#a2d836" d="M1294 200l-6 10 8-12z"/><path fill="#1e908a" stroke="#1e908a" d="M1280 220l-7 20 8-16zM1197 222l-7 18 7-16z"/><path fill="#3cba72" stroke="#3cba72" d="M1280 220l1 4 7-14z"/><path fill="#423c7e" stroke="#423c7e" d="M1265 256l-6 18 7-17z"/><path fill="#36548a" stroke="#36548a" d="M1265 256l1 1 7-17z"/><path fill="#24908a" stroke="#24908a" d="M1224 223l1 1 7 13zM1113 222l-7 17 7-10z"/><path fill="#bae42a" stroke="#bae42a" d="M1211 198l-7 11 14 0z"/><path fill="#36b478" stroke="#36b478" d="M1197 222l0 2 7-15z"/><path fill="#30ae7e" stroke="#30ae7e" d="M1141 227l-8-19 8 20z"/><path fill="#248490" stroke="#248490" d="M1141 227l0 1 7 16z"/><path fill="#c6e424" stroke="#c6e424" d="M1127 201l-8 7 7-5z"/><path fill="#a2de36" stroke="#a2de36" d="M1127 201l-1 2 7 5z"/><path fill="#3cb472" stroke="#3cb472" d="M1113 222l0 7 6-21z"/><path fill="#3c4e8a" stroke="#3c4e8a" d="M1100 256l-1 2 7-19z"/><path fill="#2a7e90" stroke="#2a7e90" d="M1315 239l-6-14 7 17z"/><path fill="#306690" stroke="#306690" d="M1315 239l1 3 6 15zM1232 237l0 4 7 18z"/><path fill="#42ba72" stroke="#42ba72" d="M1288 210l-7 14 8-11z"/><path fill="#c6de24" stroke="#c6de24" d="M1288 210l1 3 7-15z"/><path fill="#36608a" stroke="#36608a" d="M1273 240l-7 17 8-15zM1190 240l-7 18 7-16zM1106 239l-7 19 7-13z"/><path fill="#247e8a" stroke="#247e8a" d="M1273 240l1 2 7-18zM1190 240l0 2 7-18z"/><path fill="#248a90" stroke="#248a90" d="M1232 237l-7-13 7 17z"/><path fill="#a8de36" stroke="#a8de36" d="M1218 209l-7-8 7 10z"/><path fill="#54c666" stroke="#54c666" d="M1218 209l0 2 7 13z"/><path fill="#48c06c" stroke="#48c06c" d="M1204 209l-7 15 7-10zM1119 208l-6 21 6-15z"/><path fill="#a8d830" stroke="#a8d830" d="M1204 209l0 5 7-13z"/><path fill="#2a7890" stroke="#2a7890" d="M1148 244l-7-16 7 16z"/><path fill="#365a8a" stroke="#365a8a" d="M1148 244l0 0 7 15z"/><path fill="#c6e424" stroke="#c6e424" d="M1133 208l-7-5 7 4z"/><path fill="#72cc54" stroke="#72cc54" d="M1133 208l0-1 8 21z"/><path fill="#9cd83c" stroke="#9cd83c" d="M1119 208l0 6 7-11z"/><path fill="#2a7e8a" stroke="#2a7e8a" d="M1106 239l0 6 7-16z"/><path fill="#3cba78" stroke="#3cba78" d="M1309 225l-6-17 8 17zM1141 228l-8-21 7 19z"/><path fill="#24908a" stroke="#24908a" d="M1309 225l2 0 5 17zM1141 228l-1-2 8 18z"/><path fill="#b4e430" stroke="#b4e430" d="M1296 198l-7 15 14-5z"/><path fill="#1e908a" stroke="#1e908a" d="M1281 224l-7 18 8-14zM1197 224l-7 18 7-16z"/><path fill="#2aae7e" stroke="#2aae7e" d="M1281 224l1 4 7-15zM1113 229l-1-2 7-13z"/><path fill="#36b478" stroke="#36b478" d="M1225 224l-7-13 8 17z"/><path fill="#24968a" stroke="#24968a" d="M1225 224l1 4 6 13z"/><path fill="#aede30" stroke="#aede30" d="M1211 201l-7 13 14-3z"/><path fill="#30b478" stroke="#30b478" d="M1197 224l0 2 7-12z"/><path fill="#c6e424" stroke="#c6e424" d="M1126 203l-7 11 14-7z"/><path fill="#248a8a" stroke="#248a8a" d="M1113 229l-7 16 6-18z"/><path fill="#a8de36" stroke="#a8de36" d="M1303 208l-6-6 8 10z"/><path fill="#7ed254" stroke="#7ed254" d="M1303 208l2 4 6 13z"/><path fill="#48c06c" stroke="#48c06c" d="M1289 213l-7 15 8-14z"/><path fill="#b4de2a" stroke="#b4de2a" d="M1289 213l1 1 7-12zM1119 214l-1-2 7-10z"/><path fill="#b4de30" stroke="#b4de30" d="M1218 211l-7-8 8 11z"/><path fill="#54c666" stroke="#54c666" d="M1218 211l1 3 7 14z"/><path fill="#60c660" stroke="#60c660" d="M1204 214l-7 12 7-12z"/><path fill="#a2d836" stroke="#a2d836" d="M1204 214l0 0 7-11z"/><path fill="#cce424" stroke="#cce424" d="M1133 207l-8-5 8 12z"/><path fill="#72d254" stroke="#72d254" d="M1133 207l0 7 7 12z"/><path fill="#5ac660" stroke="#5ac660" d="M1119 214l-7 13 6-15z"/><path fill="#a8de30" stroke="#a8de30" d="M1297 202l-7 12 8-7z"/><path fill="#bae42a" stroke="#bae42a" d="M1297 202l1 5 7 5z"/><path fill="#c0e42a" stroke="#c0e42a" d="M1211 203l-7 11 15 0z"/><path fill="#c0e424" stroke="#c0e424" d="M1125 202l-7 10 7-3z"/><path fill="#cce424" stroke="#cce424" d="M1125 202l0 7 8 5z"/><path fill="#bade24" stroke="#bade24" d="M1290 214l-6-12 14 5z"/><path fill="#aede30" stroke="#aede30" d="M1219 214l-7-9 7 12z"/><path fill="#a2d836" stroke="#a2d836" d="M1219 214l0 3 7-9z"/><path fill="#b4d82a" stroke="#b4d82a" d="M1133 214l-8-5 14-5z"/><path fill="#cce424" stroke="#cce424" d="M1284 202l8 14 6-9zM1241 205l7 8 7-10zM1183 206l7 11 7-11z"/><path fill="#bae42a" stroke="#bae42a" d="M1270 207l7 9 7-14zM1168 203l8 15 7-12z"/><path fill="#c6e424" stroke="#c6e424" d="M1255 203l8 14 7-10zM1154 211l7 8 7-16zM1125 209l7 10 7-15z"/><path fill="#bae430" stroke="#bae430" d="M1226 208l8 7 7-10z"/><path fill="#a8de36" stroke="#a8de36" d="M1139 204l8 17 7-10z"/><path fill="#c6e424" stroke="#c6e424" d="M1284 202l-7 14 15 0z"/><path fill="#aede36" stroke="#aede36" d="M1270 207l-7 10 14-1z"/><path fill="#c0e42a" stroke="#c0e42a" d="M1255 203l-7 10 15 4z"/><path fill="#d2e424" stroke="#d2e424" d="M1241 205l-7 10 14-2z"/><path fill="#9cde42" stroke="#9cde42" d="M1226 208l-7 9 15-2z"/><path fill="#9cde3c" stroke="#9cde3c" d="M1212 205l-7 8 14 4zM1139 204l-7 15 15 2z"/><path fill="#a8de36" stroke="#a8de36" d="M1197 206l-7 11 15-4zM1183 206l-7 12 14-1z"/><path fill="#a2de3c" stroke="#a2de3c" d="M1168 203l-7 16 15-1z"/><path fill="#72d25a" stroke="#72d25a" d="M1154 211l-7 10 14-2z"/><path fill="#4ec66c" stroke="#4ec66c" d="M1277 216l8 17 7-17zM1263 217l7 16 7-17zM1248 213l8 21 7-17z"/><path fill="#6cd25a" stroke="#6cd25a" d="M1234 215l7 18 7-20z"/><path fill="#66cc60" stroke="#66cc60" d="M1219 217l8 13 7-15zM1190 217l8 11 7-15z"/><path fill="#54c666" stroke="#54c666" d="M1176 218l7 16 7-17z"/><path fill="#60cc66" stroke="#60cc66" d="M1161 219l8 13 7-14z"/><path fill="#36ba7e" stroke="#36ba7e" d="M1147 221l7 14 7-16z"/><path fill="#42c072" stroke="#42c072" d="M1132 219l8 15 7-13z"/><path fill="#30b47e" stroke="#30b47e" d="M1277 216l-7 17 15 0zM1234 215l-7 15 14 3zM1161 219l-7 16 15-3zM1147 221l-7 13 14 1z"/><path fill="#2ab484" stroke="#2ab484" d="M1263 217l-7 17 14-1z"/><path fill="#3cba78" stroke="#3cba78" d="M1248 213l-7 20 15 1zM1190 217l-7 17 15-6zM1176 218l-7 14 14 2z"/><path fill="#6ccc5a" stroke="#6ccc5a" d="M1205 213l-7 15 7-8z"/><path fill="#c0de24" stroke="#c0de24" d="M1205 213l0 7 7-14z"/><path fill="#248a90" stroke="#248a90" d="M1270 233l8 20 7-20z"/><path fill="#249690" stroke="#249690" d="M1256 234l7 16 7-17zM1169 232l7 19 7-17zM1154 235l8 17 7-20z"/><path fill="#249090" stroke="#249090" d="M1241 233l8 17 7-16zM1140 234l7 21 7-20z"/><path fill="#249c8a" stroke="#249c8a" d="M1227 230l7 19 7-16zM1183 234l8 15 7-21z"/><path fill="#2a7e90" stroke="#2a7e90" d="M1270 233l-7 17 15 3zM1256 234l-7 16 14 0zM1154 235l-7 20 15-3z"/><path fill="#2a8490" stroke="#2a8490" d="M1241 233l-7 16 15 1zM1183 234l-7 17 15-2z"/><path fill="#3cba72" stroke="#3cba72" d="M1227 230l-7-13 7 18z"/><path fill="#249c8a" stroke="#249c8a" d="M1227 230l0 5 7 14z"/><path fill="#c6e424" stroke="#c6e424" d="M1212 206l-7 14 15-3z"/><path fill="#1e908a" stroke="#1e908a" d="M1198 228l-7 21 7-13z"/><path fill="#3cba78" stroke="#3cba78" d="M1198 228l0 8 7-16z"/><path fill="#248a90" stroke="#248a90" d="M1169 232l-7 20 14-1z"/><path fill="#366090" stroke="#366090" d="M1263 250l8 21 7-18zM1249 250l7 18 7-18zM1176 251l8 20 7-22zM1147 255l7 16 8-19z"/><path fill="#366690" stroke="#366690" d="M1234 249l8 21 7-20zM1162 252l7 19 7-20z"/><path fill="#3c5490" stroke="#3c5490" d="M1263 250l-7 18 15 3zM1176 251l-7 20 15 0z"/><path fill="#3c5a90" stroke="#3c5a90" d="M1249 250l-7 20 14-2z"/><path fill="#248490" stroke="#248490" d="M1234 249l-7-14 8 18z"/><path fill="#306c90" stroke="#306c90" d="M1234 249l1 4 7 17z"/><path fill="#bade2a" stroke="#bade2a" d="M1220 217l-7-7 7 11z"/><path fill="#5ac666" stroke="#5ac666" d="M1220 217l0 4 7 14z"/><path fill="#4ec06c" stroke="#4ec06c" d="M1205 220l-7 16 8-14z"/><path fill="#9cd83c" stroke="#9cd83c" d="M1205 220l1 2 7-12z"/><path fill="#30668a" stroke="#30668a" d="M1191 249l-7 22 7-20z"/><path fill="#24848a" stroke="#24848a" d="M1191 249l0 2 7-15z"/><path fill="#424e8a" stroke="#424e8a" d="M1162 252l-8 19 15 0z"/><path fill="#424284" stroke="#424284" d="M1256 268l8 21 7-18z"/><path fill="#423c84" stroke="#423c84" d="M1242 270l7 19 7-21zM1169 271l7 19 8-19zM1154 271l8 21 7-21zM1256 268l-7 21 15 0zM1242 270l0 4 7 15z"/><path fill="#365a8a" stroke="#365a8a" d="M1242 270l-7-17 7 21z"/><path fill="#36b478" stroke="#36b478" d="M1227 235l-7-14 8 18z"/><path fill="#249090" stroke="#249090" d="M1227 235l1 4 7 14z"/><path fill="#c0de24" stroke="#c0de24" d="M1213 210l-7 12 7-6z"/><path fill="#c6e424" stroke="#c6e424" d="M1213 210l0 6 7 5z"/><path fill="#248a8a" stroke="#248a8a" d="M1198 236l-7 15 7-14z"/><path fill="#30b478" stroke="#30b478" d="M1198 236l0 1 8-15z"/><path fill="#423c7e" stroke="#423c7e" d="M1184 271l-8 19 8-17z"/><path fill="#3c4e8a" stroke="#3c4e8a" d="M1184 271l0 2 7-22z"/><path fill="#482a7e" stroke="#482a7e" d="M1169 271l-7 21 14-2z"/><path fill="#482a78" stroke="#482a78" d="M1249 289l8 20 7-20z"/><path fill="#482472" stroke="#482472" d="M1162 292l7 20 7-22z"/><path fill="#423c84" stroke="#423c84" d="M1249 289l-7-15 8 19zM1176 290l0 4 8-21z"/><path fill="#482a78" stroke="#482a78" d="M1249 289l1 4 7 16z"/><path fill="#2a7e90" stroke="#2a7e90" d="M1235 253l-7-14 8 20z"/><path fill="#366090" stroke="#366090" d="M1235 253l1 6 6 15z"/><path fill="#b4de30" stroke="#b4de30" d="M1220 221l-7-5 8 8z"/><path fill="#5ac666" stroke="#5ac666" d="M1220 221l1 3 7 15z"/><path fill="#48c06c" stroke="#48c06c" d="M1206 222l-8 15 8-14z"/><path fill="#9cd83c" stroke="#9cd83c" d="M1206 222l0 1 7-7z"/><path fill="#36608a" stroke="#36608a" d="M1191 251l-7 22 7-15z"/><path fill="#2a7e8a" stroke="#2a7e8a" d="M1191 251l0 7 7-21z"/><path fill="#482478" stroke="#482478" d="M1176 290l-7 22 7-18z"/><path fill="#3c4e8a" stroke="#3c4e8a" d="M1242 274l-6-15 7 17zM1184 273l0 3 7-18z"/><path fill="#423c84" stroke="#423c84" d="M1242 274l1 2 7 17z"/><path fill="#2aae7e" stroke="#2aae7e" d="M1228 239l-7-15 8 19z"/><path fill="#24908a" stroke="#24908a" d="M1228 239l1 4 7 16z"/><path fill="#c0e42a" stroke="#c0e42a" d="M1213 216l-7 7 15 1z"/><path fill="#1e908a" stroke="#1e908a" d="M1198 237l-7 21 8-19z"/><path fill="#3cb478" stroke="#3cb478" d="M1198 237l1 2 7-16z"/><path fill="#423c7e" stroke="#423c7e" d="M1184 273l-8 21 8-18z"/><path fill="#2a7e90" stroke="#2a7e90" d="M1236 259l-7-16 7 17z"/><path fill="#365a8a" stroke="#365a8a" d="M1236 259l0 1 7 16zM1191 258l-7 18 7-16z"/><path fill="#bade2a" stroke="#bade2a" d="M1221 224l-7-10 8 14z"/><path fill="#5ac666" stroke="#5ac666" d="M1221 224l1 4 7 15z"/><path fill="#60c660" stroke="#60c660" d="M1206 223l-7 16 7-14z"/><path fill="#aede30" stroke="#aede30" d="M1206 223l0 2 8-11z"/><path fill="#247e8a" stroke="#247e8a" d="M1191 258l0 2 8-21z"/><path fill="#24a884" stroke="#24a884" d="M1229 243l-7-15 7 23z"/><path fill="#249090" stroke="#249090" d="M1229 243l0 8 7 9z"/><path fill="#aede36" stroke="#aede36" d="M1214 214l-8 11 16 3z"/><path fill="#1e908a" stroke="#1e908a" d="M1199 239l-8 21 8-18z"/><path fill="#3cba72" stroke="#3cba72" d="M1199 239l0 3 7-17z"/><path fill="#90d848" stroke="#90d848" d="M1222 228l-8-9 8 15z"/><path fill="#36b478" stroke="#36b478" d="M1222 228l0 6 7 17z"/><path fill="#5ac660" stroke="#5ac660" d="M1206 225l-7 17 8-15z"/><path fill="#aede30" stroke="#aede30" d="M1206 225l1 2 7-8z"/><path fill="#96de42" stroke="#96de42" d="M1214 219l-7 8 15 7z"/><path fill="#8ad248" stroke="#8ad248" d="M1207 227l8 0 7 7z"/></g>
<text x="719.6" y="231.3" font-family="'Liberation Serif', serif" font-size="16.5" font-style="italic" fill="#b9603a">A</text>
<text x="731" y="234.3" font-family="'Liberation Serif', serif" font-size="11" fill="#b9603a">3</text>
<text x="737.8" y="231.3" font-family="'Liberation Serif', serif" font-size="16.5" fill="#b9603a">cos</text>
<text x="763.5" y="232.7" font-family="'Liberation Serif', serif" font-size="21.8" fill="#b9603a">(</text>
<text x="780.1" y="224.5" font-family="'Liberation Serif', serif" font-size="11" text-anchor="middle" fill="#b9603a">8π</text>
<rect x="772.5" y="225.9" width="15.3" height="1" fill="#b9603a"/>
<text x="780.1" y="236.6" font-family="'Liberation Serif', serif" font-size="11" text-anchor="middle" fill="#b9603a">113</text>
<text x="790.4" y="231.3" font-family="'Liberation Serif', serif" font-size="16.5" font-style="italic" fill="#b9603a">x</text>
<text x="804" y="231.3" font-family="'Liberation Serif', serif" font-size="16.5" fill="#b9603a">+</text>
<text x="820" y="231.3" font-family="'Liberation Serif', serif" font-size="16.5" font-style="italic" fill="#b9603a">ϕ</text>
<text x="827.6" y="234.3" font-family="'Liberation Serif', serif" font-size="11" fill="#b9603a">3</text>
<text x="836" y="232.7" font-family="'Liberation Serif', serif" font-size="21.8" fill="#b9603a">)</text>
<circle cx="733.5" cy="250.3" r="1.3" fill="#b9603a"/>
<text x="737.8" y="254.9" font-family="'Liberation Serif', serif" font-size="16.5" fill="#b9603a">cos</text>
<text x="763.5" y="256.3" font-family="'Liberation Serif', serif" font-size="21.8" fill="#b9603a">(</text>
<text x="780.1" y="248.1" font-family="'Liberation Serif', serif" font-size="11" text-anchor="middle" fill="#b9603a">8π</text>
<rect x="772.5" y="249.5" width="15.3" height="1" fill="#b9603a"/>
<text x="780.1" y="260.2" font-family="'Liberation Serif', serif" font-size="11" text-anchor="middle" fill="#b9603a">113</text>
<text x="790.4" y="254.9" font-family="'Liberation Serif', serif" font-size="16.5" font-style="italic" fill="#b9603a">y</text>
<text x="804" y="254.9" font-family="'Liberation Serif', serif" font-size="16.5" fill="#b9603a">+</text>
<text x="820" y="254.9" font-family="'Liberation Serif', serif" font-size="16.5" font-style="italic" fill="#b9603a">ϕ</text>
<text x="827.6" y="257.9" font-family="'Liberation Serif', serif" font-size="11" fill="#b9603a">3</text>
<text x="836" y="256.3" font-family="'Liberation Serif', serif" font-size="21.8" fill="#b9603a">)</text>
<text x="706.1" y="307.8" font-family="'Liberation Serif', serif" font-size="18" font-style="italic" fill="#e6d49c">A</text>
<text x="717.6" y="310.8" font-family="'Liberation Serif', serif" font-size="12" fill="#e6d49c">2</text>
<text x="726.3" y="307.8" font-family="'Liberation Serif', serif" font-size="18" fill="#e6d49c">cos</text>
<text x="756.2" y="309.6" font-family="'Liberation Serif', serif" font-size="25.3" fill="#e6d49c">(</text>
<text x="776.8" y="300.8" font-family="'Liberation Serif', serif" font-size="12" text-anchor="middle" fill="#e6d49c">16π</text>
<rect x="767.6" y="302.1" width="18.4" height="1" fill="#e6d49c"/>
<text x="776.8" y="314" font-family="'Liberation Serif', serif" font-size="12" text-anchor="middle" fill="#e6d49c">113</text>
<text x="788.7" y="307.8" font-family="'Liberation Serif', serif" font-size="18" font-style="italic" fill="#e6d49c">y</text>
<text x="803.6" y="307.8" font-family="'Liberation Serif', serif" font-size="18" fill="#e6d49c">+</text>
<text x="820.3" y="307.8" font-family="'Liberation Serif', serif" font-size="18" font-style="italic" fill="#e6d49c">ϕ</text>
<text x="830" y="310.8" font-family="'Liberation Serif', serif" font-size="12" fill="#e6d49c">2</text>
<text x="838.8" y="309.6" font-family="'Liberation Serif', serif" font-size="25.3" fill="#e6d49c">)</text>
<text x="702.5" y="387.4" font-family="'Liberation Serif', serif" font-size="18" font-style="italic" fill="#3d9dca">A</text>
<text x="714" y="390.6" font-family="'Liberation Serif', serif" font-size="12" fill="#3d9dca">1</text>
<text x="724.6" y="387.4" font-family="'Liberation Serif', serif" font-size="18" fill="#3d9dca">cos</text>
<text x="750.5" y="388.9" font-family="'Liberation Serif', serif" font-size="24.4" fill="#3d9dca">(</text>
<text x="771.6" y="380.7" font-family="'Liberation Serif', serif" font-size="12" text-anchor="middle" fill="#3d9dca">16π</text>
<rect x="763" y="382.1" width="17.3" height="1" fill="#3d9dca"/>
<text x="771.6" y="393.2" font-family="'Liberation Serif', serif" font-size="12" text-anchor="middle" fill="#3d9dca">113</text>
<text x="786" y="387.4" font-family="'Liberation Serif', serif" font-size="18" font-style="italic" fill="#3d9dca">x</text>
<text x="799.5" y="387.4" font-family="'Liberation Serif', serif" font-size="18" fill="#3d9dca">+</text>
<text x="815.8" y="387.4" font-family="'Liberation Serif', serif" font-size="18" font-style="italic" fill="#3d9dca">ϕ</text>
<text x="825.4" y="390.6" font-family="'Liberation Serif', serif" font-size="12" fill="#3d9dca">1</text>
<text x="834" y="388.9" font-family="'Liberation Serif', serif" font-size="24.4" fill="#3d9dca">)</text>
</svg></body></html>
